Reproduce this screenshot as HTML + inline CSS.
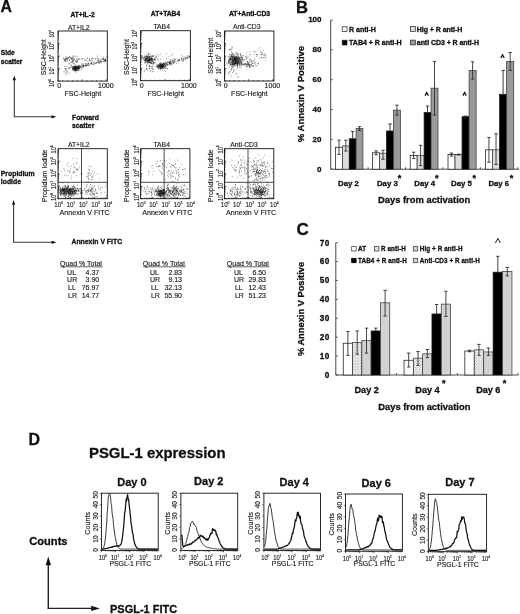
<!DOCTYPE html>
<html><head><meta charset="utf-8"><title>Figure</title>
<style>
html,body{margin:0;padding:0;background:#fff;}
body{width:520px;height:614px;overflow:hidden;font-family:"Liberation Sans",sans-serif;}
svg{display:block;filter:blur(0.42px);}
</style></head><body>
<svg width="520" height="614" viewBox="0 0 520 614" font-family="'Liberation Sans', sans-serif"><text x="0.60" y="12.46" font-size="15.8" font-weight="700" stroke="#111" stroke-width="0.3" fill="#111">A</text>
<text x="82.50" y="16.50" font-size="6.7" font-weight="700" stroke="#111" stroke-width="0.3" text-anchor="middle" fill="#111">AT+IL-2</text>
<text x="78.70" y="29.83" font-size="6.8" stroke="#222" stroke-width="0.15" text-anchor="middle" fill="#222">AT+IL2</text>
<rect x="58.00" y="31.00" width="49.30" height="50.10" fill="none" stroke="#111" stroke-width="0.9"/>
<path d="M58.00 81.10h1.80M58.00 77.33h1.00M58.00 75.12h1.00M58.00 73.56h1.00M58.00 72.35h1.00M58.00 71.35h1.00M58.00 70.52h1.00M58.00 69.79h1.00M58.00 69.15h1.00M58.00 68.57h1.80M58.00 64.80h1.00M58.00 62.60h1.00M58.00 61.03h1.00M58.00 59.82h1.00M58.00 58.83h1.00M58.00 57.99h1.00M58.00 57.26h1.00M58.00 56.62h1.00M58.00 56.05h1.80M58.00 52.28h1.00M58.00 50.07h1.00M58.00 48.51h1.00M58.00 47.30h1.00M58.00 46.30h1.00M58.00 45.47h1.00M58.00 44.74h1.00M58.00 44.10h1.00M58.00 43.52h1.80M58.00 39.75h1.00M58.00 37.55h1.00M58.00 35.98h1.00M58.00 34.77h1.00M58.00 33.78h1.00M58.00 32.94h1.00M58.00 32.21h1.00M58.00 31.57h1.00" fill="none" stroke="#111" stroke-width="0.65"/>
<path d="M58.00 81.10v-1.8M62.81 81.10v-1.0M67.63 81.10v-1.0M72.44 81.10v-1.0M77.26 81.10v-1.0M82.07 81.10v-1.8M86.89 81.10v-1.0M91.70 81.10v-1.0M96.52 81.10v-1.0M101.33 81.10v-1.0M106.14 81.10v-1.8" fill="none" stroke="#111" stroke-width="0.65"/>
<text x="59.20" y="88.31" font-size="7" stroke="#222" stroke-width="0.15" text-anchor="middle" fill="#222">0</text>
<text x="105.80" y="88.31" font-size="7" stroke="#222" stroke-width="0.15" text-anchor="middle" fill="#222">1000</text>
<text x="82.85" y="95.91" font-size="7" stroke="#222" stroke-width="0.15" text-anchor="middle" fill="#222">FSC-Height</text>
<text x="43.60" y="59.73" font-size="6.8" stroke="#222" stroke-width="0.15" text-anchor="middle" transform="rotate(-90 43.60 57.30)" fill="#222">SSC-Height</text>
<g transform="translate(51.70 82.90) rotate(-90) scale(0.76 1)" fill="#222" stroke="#222" stroke-width="0.15"><text x="-4.98" y="2.51" font-size="7.0">10</text><text x="2.80" y="-0.43" font-size="3.92">0</text></g>
<g transform="translate(51.70 70.62) rotate(-90) scale(0.76 1)" fill="#222" stroke="#222" stroke-width="0.15"><text x="-4.98" y="2.51" font-size="7.0">10</text><text x="2.80" y="-0.43" font-size="3.92">1</text></g>
<g transform="translate(51.70 58.35) rotate(-90) scale(0.76 1)" fill="#222" stroke="#222" stroke-width="0.15"><text x="-4.98" y="2.51" font-size="7.0">10</text><text x="2.80" y="-0.43" font-size="3.92">2</text></g>
<g transform="translate(51.70 46.07) rotate(-90) scale(0.76 1)" fill="#222" stroke="#222" stroke-width="0.15"><text x="-4.98" y="2.51" font-size="7.0">10</text><text x="2.80" y="-0.43" font-size="3.92">3</text></g>
<g transform="translate(51.70 33.80) rotate(-90) scale(0.76 1)" fill="#222" stroke="#222" stroke-width="0.15"><text x="-4.98" y="2.51" font-size="7.0">10</text><text x="2.80" y="-0.43" font-size="3.92">4</text></g>
<text x="165.50" y="15.60" font-size="6.7" font-weight="700" stroke="#111" stroke-width="0.3" text-anchor="middle" fill="#111">AT+TAB4</text>
<text x="161.70" y="28.93" font-size="6.8" stroke="#222" stroke-width="0.15" text-anchor="middle" fill="#222">TAB4</text>
<rect x="140.60" y="30.70" width="49.80" height="50.00" fill="none" stroke="#111" stroke-width="0.9"/>
<path d="M140.60 80.70h1.80M140.60 76.94h1.00M140.60 74.74h1.00M140.60 73.17h1.00M140.60 71.96h1.00M140.60 70.97h1.00M140.60 70.14h1.00M140.60 69.41h1.00M140.60 68.77h1.00M140.60 68.20h1.80M140.60 64.44h1.00M140.60 62.24h1.00M140.60 60.67h1.00M140.60 59.46h1.00M140.60 58.47h1.00M140.60 57.64h1.00M140.60 56.91h1.00M140.60 56.27h1.00M140.60 55.70h1.80M140.60 51.94h1.00M140.60 49.74h1.00M140.60 48.17h1.00M140.60 46.96h1.00M140.60 45.97h1.00M140.60 45.14h1.00M140.60 44.41h1.00M140.60 43.77h1.00M140.60 43.20h1.80M140.60 39.44h1.00M140.60 37.24h1.00M140.60 35.67h1.00M140.60 34.46h1.00M140.60 33.47h1.00M140.60 32.64h1.00M140.60 31.91h1.00M140.60 31.27h1.00" fill="none" stroke="#111" stroke-width="0.65"/>
<path d="M140.60 80.70v-1.8M145.46 80.70v-1.0M150.33 80.70v-1.0M155.19 80.70v-1.0M160.05 80.70v-1.0M164.92 80.70v-1.8M169.78 80.70v-1.0M174.64 80.70v-1.0M179.51 80.70v-1.0M184.37 80.70v-1.0M189.23 80.70v-1.8" fill="none" stroke="#111" stroke-width="0.65"/>
<text x="141.80" y="88.31" font-size="7" stroke="#222" stroke-width="0.15" text-anchor="middle" fill="#222">0</text>
<text x="188.90" y="88.31" font-size="7" stroke="#222" stroke-width="0.15" text-anchor="middle" fill="#222">1000</text>
<text x="165.70" y="95.91" font-size="7" stroke="#222" stroke-width="0.15" text-anchor="middle" fill="#222">FSC-Height</text>
<text x="126.20" y="59.43" font-size="6.8" stroke="#222" stroke-width="0.15" text-anchor="middle" transform="rotate(-90 126.20 57.00)" fill="#222">SSC-Height</text>
<g transform="translate(134.30 82.50) rotate(-90) scale(0.76 1)" fill="#222" stroke="#222" stroke-width="0.15"><text x="-4.98" y="2.51" font-size="7.0">10</text><text x="2.80" y="-0.43" font-size="3.92">0</text></g>
<g transform="translate(134.30 70.25) rotate(-90) scale(0.76 1)" fill="#222" stroke="#222" stroke-width="0.15"><text x="-4.98" y="2.51" font-size="7.0">10</text><text x="2.80" y="-0.43" font-size="3.92">1</text></g>
<g transform="translate(134.30 58.00) rotate(-90) scale(0.76 1)" fill="#222" stroke="#222" stroke-width="0.15"><text x="-4.98" y="2.51" font-size="7.0">10</text><text x="2.80" y="-0.43" font-size="3.92">2</text></g>
<g transform="translate(134.30 45.75) rotate(-90) scale(0.76 1)" fill="#222" stroke="#222" stroke-width="0.15"><text x="-4.98" y="2.51" font-size="7.0">10</text><text x="2.80" y="-0.43" font-size="3.92">3</text></g>
<g transform="translate(134.30 33.50) rotate(-90) scale(0.76 1)" fill="#222" stroke="#222" stroke-width="0.15"><text x="-4.98" y="2.51" font-size="7.0">10</text><text x="2.80" y="-0.43" font-size="3.92">4</text></g>
<text x="249.50" y="15.60" font-size="6.7" font-weight="700" stroke="#111" stroke-width="0.3" text-anchor="middle" fill="#111">AT+Anti-CD3</text>
<text x="246.70" y="28.93" font-size="6.8" stroke="#222" stroke-width="0.15" text-anchor="middle" fill="#222">Anti-CD3</text>
<rect x="224.50" y="31.00" width="49.40" height="50.00" fill="none" stroke="#111" stroke-width="0.9"/>
<path d="M224.50 81.00h1.80M224.50 77.24h1.00M224.50 75.04h1.00M224.50 73.47h1.00M224.50 72.26h1.00M224.50 71.27h1.00M224.50 70.44h1.00M224.50 69.71h1.00M224.50 69.07h1.00M224.50 68.50h1.80M224.50 64.74h1.00M224.50 62.54h1.00M224.50 60.97h1.00M224.50 59.76h1.00M224.50 58.77h1.00M224.50 57.94h1.00M224.50 57.21h1.00M224.50 56.57h1.00M224.50 56.00h1.80M224.50 52.24h1.00M224.50 50.04h1.00M224.50 48.47h1.00M224.50 47.26h1.00M224.50 46.27h1.00M224.50 45.44h1.00M224.50 44.71h1.00M224.50 44.07h1.00M224.50 43.50h1.80M224.50 39.74h1.00M224.50 37.54h1.00M224.50 35.97h1.00M224.50 34.76h1.00M224.50 33.77h1.00M224.50 32.94h1.00M224.50 32.21h1.00M224.50 31.57h1.00" fill="none" stroke="#111" stroke-width="0.65"/>
<path d="M224.50 81.00v-1.8M229.32 81.00v-1.0M234.15 81.00v-1.0M238.97 81.00v-1.0M243.80 81.00v-1.0M248.62 81.00v-1.8M253.45 81.00v-1.0M258.27 81.00v-1.0M263.09 81.00v-1.0M267.92 81.00v-1.0M272.74 81.00v-1.8" fill="none" stroke="#111" stroke-width="0.65"/>
<text x="225.70" y="88.31" font-size="7" stroke="#222" stroke-width="0.15" text-anchor="middle" fill="#222">0</text>
<text x="272.40" y="88.31" font-size="7" stroke="#222" stroke-width="0.15" text-anchor="middle" fill="#222">1000</text>
<text x="249.40" y="95.91" font-size="7" stroke="#222" stroke-width="0.15" text-anchor="middle" fill="#222">FSC-Height</text>
<text x="210.10" y="58.23" font-size="6.8" stroke="#222" stroke-width="0.15" text-anchor="middle" transform="rotate(-90 210.10 55.80)" fill="#222">SSC-Height</text>
<g transform="translate(218.20 82.80) rotate(-90) scale(0.76 1)" fill="#222" stroke="#222" stroke-width="0.15"><text x="-4.98" y="2.51" font-size="7.0">10</text><text x="2.80" y="-0.43" font-size="3.92">0</text></g>
<g transform="translate(218.20 70.55) rotate(-90) scale(0.76 1)" fill="#222" stroke="#222" stroke-width="0.15"><text x="-4.98" y="2.51" font-size="7.0">10</text><text x="2.80" y="-0.43" font-size="3.92">1</text></g>
<g transform="translate(218.20 58.30) rotate(-90) scale(0.76 1)" fill="#222" stroke="#222" stroke-width="0.15"><text x="-4.98" y="2.51" font-size="7.0">10</text><text x="2.80" y="-0.43" font-size="3.92">2</text></g>
<g transform="translate(218.20 46.05) rotate(-90) scale(0.76 1)" fill="#222" stroke="#222" stroke-width="0.15"><text x="-4.98" y="2.51" font-size="7.0">10</text><text x="2.80" y="-0.43" font-size="3.92">3</text></g>
<g transform="translate(218.20 33.80) rotate(-90) scale(0.76 1)" fill="#222" stroke="#222" stroke-width="0.15"><text x="-4.98" y="2.51" font-size="7.0">10</text><text x="2.80" y="-0.43" font-size="3.92">4</text></g>
<path d="M75.4 60.9h0.65M65.4 59.9h0.65M77.2 61.1h0.65M64.2 59.5h0.65M65.3 58.5h0.65M67.3 60.2h0.65M88.8 60.7h0.65M78.6 59.3h0.65M104.9 60.7h0.65M74.0 60.1h0.65M67.1 59.0h0.65M86.7 61.3h0.65M89.3 58.4h0.65M65.0 61.3h0.65M70.6 58.6h0.65M86.9 58.4h0.65M81.0 59.1h0.65M92.0 61.1h0.65M72.1 55.9h0.65M93.4 58.5h0.65M73.9 59.1h0.65M94.7 59.0h0.65M68.4 57.6h0.65M95.0 59.1h0.65M86.3 60.1h0.65M91.8 58.5h0.65M87.3 58.3h0.65M98.5 58.3h0.65M103.4 57.1h0.65M65.0 58.3h0.65M89.6 61.3h0.65M73.8 58.6h0.65M90.6 60.5h0.65M69.0 60.0h0.65M64.9 59.7h0.65M78.3 59.2h0.65M100.0 59.9h0.65M85.3 60.1h0.65M100.5 59.8h0.65M73.5 56.6h0.65M76.9 61.9h0.65M68.4 57.8h0.65M71.6 58.2h0.65M72.9 61.3h0.65M79.5 58.8h0.65M103.8 59.7h0.65M91.6 57.7h0.65M91.0 59.1h0.65M64.7 59.0h0.65M96.5 57.9h0.65M78.4 59.4h0.65M89.1 59.6h0.65M65.0 60.6h0.65M76.1 60.2h0.65M64.7 60.8h0.65M77.1 59.9h0.65M63.8 61.1h0.65M72.5 57.8h0.65M77.2 61.4h0.65M105.7 60.1h0.65M81.6 59.2h0.65M66.5 59.2h0.65M73.0 60.3h0.65M103.7 58.1h0.65M84.3 60.4h0.65M63.8 59.8h0.65M105.0 59.8h0.65M72.8 57.5h0.65M69.0 57.7h0.65M75.7 58.6h0.65M71.3 58.4h0.65M96.9 56.0h0.65M97.5 58.9h0.65M83.8 58.8h0.65M76.8 60.1h0.65M73.6 59.2h0.65M91.7 60.4h0.65M103.0 58.4h0.65M105.4 59.6h0.65M71.1 59.1h0.65M70.2 57.5h0.65M98.5 60.4h0.65M82.2 58.5h0.65M65.8 56.5h0.65M101.8 59.1h0.65M72.2 67.4h0.65M75.7 68.6h0.65M73.8 69.5h0.65M70.4 67.2h0.65M76.7 70.4h0.65M74.4 68.7h0.65M76.4 70.1h0.65M79.0 68.6h0.65M74.4 70.1h0.65M70.5 67.6h0.65M73.9 67.6h0.65M75.2 72.0h0.65M76.0 67.3h0.65M73.5 69.7h0.65M74.6 70.1h0.65M72.8 68.6h0.65M77.0 68.0h0.65M76.9 67.4h0.65M74.7 67.7h0.65M76.0 69.4h0.65M74.5 66.5h0.65M76.2 69.5h0.65M74.3 69.7h0.65M74.3 66.6h0.65M75.0 69.8h0.65M75.8 68.4h0.65M75.7 68.6h0.65M74.3 66.1h0.65M76.0 67.1h0.65M74.9 66.5h0.65M75.2 68.4h0.65M74.6 67.3h0.65M74.9 67.9h0.65M78.9 66.5h0.65M75.4 68.5h0.65M71.1 66.5h0.65M76.5 66.6h0.65M75.4 67.8h0.65M73.4 66.7h0.65M75.0 70.3h0.65M74.4 70.7h0.65M72.2 68.2h0.65M78.1 70.8h0.65M74.2 68.8h0.65M76.3 67.8h0.65M75.8 68.3h0.65M76.3 67.1h0.65M72.4 68.9h0.65M74.8 67.9h0.65M72.6 70.1h0.65M78.7 69.3h0.65M75.2 69.6h0.65M74.9 64.1h0.65M76.0 68.7h0.65M74.5 66.8h0.65M76.5 67.8h0.65M76.6 67.4h0.65M78.4 70.1h0.65M75.8 68.1h0.65M75.6 67.3h0.65M77.9 67.8h0.65M75.4 70.8h0.65M75.2 68.9h0.65M75.3 68.3h0.65M76.1 68.5h0.65M73.9 69.3h0.65M77.0 70.5h0.65M73.5 68.3h0.65M76.6 69.9h0.65M74.2 68.1h0.65M74.7 70.3h0.65M76.6 67.8h0.65M75.9 70.1h0.65M74.4 68.5h0.65M74.7 68.6h0.65M74.9 69.3h0.65M73.8 67.4h0.65M77.7 69.3h0.65M74.8 69.5h0.65M77.3 68.3h0.65M76.5 68.5h0.65M76.0 68.7h0.65M77.2 67.5h0.65M78.7 67.9h0.65M77.8 68.9h0.65M77.2 69.4h0.65M75.7 70.6h0.65M75.8 67.4h0.65M75.1 65.1h0.65M76.2 70.3h0.65M77.8 66.8h0.65M76.5 69.0h0.65M73.8 66.2h0.65M75.4 69.6h0.65M75.3 69.4h0.65M72.8 67.4h0.65M74.0 68.0h0.65M76.0 68.7h0.65M76.1 68.2h0.65M74.0 68.6h0.65M76.2 69.8h0.65M72.1 67.8h0.65M74.1 68.4h0.65M77.2 67.5h0.65M75.8 67.3h0.65M76.0 71.9h0.65M74.2 67.3h0.65M75.1 69.5h0.65M75.1 68.3h0.65M75.6 67.1h0.65M77.0 67.4h0.65M75.5 68.2h0.65M75.5 68.2h0.65M76.4 68.0h0.65M75.8 69.5h0.65M75.7 68.5h0.65M78.1 66.0h0.65M74.9 67.1h0.65M72.8 69.3h0.65M74.1 66.4h0.65M80.6 69.6h0.65M78.1 68.0h0.65M75.0 69.8h0.65M71.9 66.7h0.65M73.2 68.6h0.65M74.5 66.7h0.65M75.1 69.6h0.65M72.4 69.2h0.65M73.2 70.0h0.65M73.6 67.9h0.65M74.1 69.0h0.65M75.7 67.9h0.65M76.2 69.2h0.65M73.3 66.9h0.65M73.5 67.6h0.65M73.4 70.8h0.65M75.6 68.3h0.65M73.1 66.3h0.65M74.9 70.4h0.65M76.8 68.3h0.65M76.3 68.1h0.65M78.7 68.9h0.65M78.7 69.9h0.65M75.1 67.1h0.65M77.0 67.3h0.65M72.4 66.8h0.65M73.6 69.0h0.65M76.0 68.2h0.65M78.8 67.7h0.65M77.9 68.8h0.65M79.3 66.1h0.65M90.9 63.0h0.65M86.0 64.8h0.65M101.3 61.7h0.65M105.7 61.4h0.65M98.1 62.8h0.65M79.1 67.4h0.65M80.3 66.7h0.65M86.5 65.3h0.65M97.9 59.6h0.65M93.2 63.2h0.65M87.6 65.2h0.65M85.7 64.3h0.65M76.9 67.1h0.65M99.6 63.1h0.65M98.8 63.1h0.65M95.2 63.6h0.65M81.6 63.2h0.65M91.3 63.5h0.65M80.3 67.2h0.65M98.8 61.0h0.65M81.1 66.8h0.65M78.8 65.5h0.65M102.6 61.5h0.65M100.8 61.8h0.65M93.5 64.4h0.65M84.9 65.5h0.65M78.3 68.9h0.65M77.1 66.7h0.65M80.2 66.4h0.65M76.4 66.4h0.65M87.2 64.0h0.65M77.4 68.0h0.65M88.0 65.4h0.65M77.8 68.1h0.65M76.3 67.8h0.65M89.1 65.6h0.65M82.1 64.7h0.65M82.8 65.8h0.65M79.8 67.3h0.65M86.0 63.6h0.65M76.7 67.0h0.65M83.6 63.5h0.65M100.1 61.5h0.65M75.0 67.4h0.65M83.0 65.2h0.65M82.6 67.6h0.65M98.7 62.0h0.65M76.0 68.4h0.65M93.5 64.7h0.65M90.6 63.7h0.65M86.6 66.2h0.65M78.9 68.3h0.65M79.5 67.1h0.65M91.3 63.5h0.65M75.1 66.5h0.65M82.3 66.2h0.65M76.4 67.6h0.65M105.2 58.7h0.65M83.5 65.3h0.65M104.9 59.8h0.65M74.3 66.5h0.65M83.5 65.6h0.65M104.1 60.5h0.65M81.4 65.0h0.65M78.5 67.7h0.65M84.6 65.7h0.65M82.9 66.8h0.65M77.6 67.2h0.65M103.0 59.5h0.65M78.3 65.8h0.65M104.4 60.8h0.65M78.8 67.7h0.65M75.3 68.8h0.65M101.8 62.0h0.65M104.8 60.3h0.65M77.1 68.8h0.65M74.5 67.5h0.65M81.2 65.8h0.65M75.5 67.8h0.65M104.9 61.9h0.65M79.7 66.0h0.65M99.6 61.4h0.65M85.2 63.7h0.65M79.2 65.9h0.65M76.8 66.4h0.65M96.8 62.6h0.65M75.6 68.5h0.65M94.7 63.2h0.65M78.9 68.1h0.65M78.8 66.7h0.65M78.6 68.4h0.65M102.2 58.9h0.65M73.3 68.1h0.65M105.1 61.0h0.65M78.6 65.9h0.65M103.2 61.1h0.65M96.3 63.4h0.65M88.1 63.6h0.65M82.5 66.2h0.65M77.3 67.3h0.65M74.8 69.1h0.65M81.0 68.5h0.65M105.2 59.6h0.65M76.3 66.2h0.65M84.3 65.6h0.65M91.2 63.1h0.65M97.7 61.1h0.65M98.5 61.1h0.65M83.3 66.0h0.65M78.2 67.0h0.65M101.3 60.1h0.65M82.3 67.1h0.65M78.4 67.6h0.65M104.2 60.5h0.65M98.7 62.9h0.65M73.4 67.8h0.65M78.0 68.6h0.65M102.6 59.0h0.65M85.8 65.3h0.65M105.2 61.2h0.65M91.0 64.0h0.65M77.6 67.8h0.65M90.1 63.7h0.65M74.5 67.3h0.65M78.8 67.1h0.65M97.6 61.6h0.65M75.9 66.7h0.65M91.6 64.2h0.65M93.3 62.4h0.65M80.7 67.4h0.65M88.0 63.7h0.65M100.7 62.1h0.65M77.7 67.2h0.65M74.3 68.9h0.65M97.4 60.0h0.65M85.9 65.4h0.65M87.8 63.1h0.65M74.1 67.1h0.65M85.4 65.5h0.65M87.3 65.2h0.65M85.4 66.0h0.65M75.3 68.9h0.65M102.7 58.8h0.65M91.5 64.1h0.65M96.1 62.3h0.65M100.1 61.7h0.65M77.6 66.2h0.65M83.1 66.5h0.65M94.7 63.0h0.65M87.9 64.4h0.65M98.5 62.5h0.65M88.6 63.9h0.65M82.8 64.8h0.65M91.1 62.4h0.65M75.5 67.1h0.65M77.7 67.2h0.65M82.9 65.8h0.65M77.1 68.4h0.65M76.6 66.6h0.65M75.7 67.7h0.65M94.2 62.9h0.65M74.2 66.9h0.65M103.7 61.4h0.65M75.8 68.4h0.65M103.9 60.6h0.65M96.4 62.4h0.65M66.5 70.9h0.65M64.6 73.2h0.65M65.7 71.9h0.65M64.4 66.5h0.65M72.2 61.5h0.65M65.6 66.6h0.65M66.2 58.6h0.65M64.8 60.7h0.65M72.4 69.6h0.65M72.0 60.9h0.65M70.8 60.0h0.65M68.3 68.8h0.65M66.6 72.8h0.65M68.6 67.9h0.65M71.8 59.8h0.65M72.9 68.7h0.65M66.9 71.6h0.65M65.6 74.8h0.65M68.8 64.1h0.65M70.6 65.5h0.65M64.8 70.6h0.65M63.5 71.9h0.65M65.5 68.9h0.65M72.8 68.0h0.65M69.6 63.3h0.65M63.0 58.6h0.65M64.5 68.5h0.65M67.3 66.7h0.65M72.0 60.2h0.65M65.3 69.1h0.65M63.2 58.0h0.65M66.5 59.8h0.65M66.6 61.8h0.65M68.8 68.0h0.65M65.0 68.6h0.65M67.7 60.3h0.65M72.4 62.1h0.65M64.5 59.6h0.65M69.4 72.8h0.65M70.8 64.8h0.65M65.6 58.2h0.65M69.4 67.6h0.65M66.5 69.0h0.65M67.4 73.9h0.65M70.3 62.2h0.65M76.8 56.4h0.65M72.4 59.2h0.65M68.9 56.5h0.65M75.3 56.1h0.65M72.6 63.5h0.65M67.7 57.6h0.65M73.3 60.1h0.65M73.7 62.5h0.65M68.1 58.5h0.65M69.6 56.4h0.65M76.7 62.3h0.65M74.6 56.1h0.65M76.1 62.0h0.65M71.6 61.9h0.65M71.4 57.8h0.65M67.3 57.9h0.65M66.5 58.7h0.65M75.0 61.6h0.65M76.1 61.7h0.65M69.2 60.4h0.65M71.2 62.3h0.65M72.3 58.1h0.65M73.7 63.7h0.65M68.6 63.0h0.65M66.2 58.1h0.65M106.7 56.5h0.65M106.7 57.2h0.65" stroke="#1a1a1a" stroke-width="0.65" fill="none" opacity="1"/>
<path d="M148.6 59.6h0.65M154.4 62.9h0.65M147.3 57.1h0.65M154.9 58.5h0.65M151.2 62.0h0.65M146.6 58.1h0.65M144.7 61.9h0.65M148.6 61.2h0.65M144.9 60.8h0.65M146.4 58.8h0.65M145.0 58.7h0.65M151.2 58.6h0.65M148.2 60.4h0.65M148.1 60.4h0.65M149.4 61.2h0.65M147.8 59.6h0.65M149.7 62.7h0.65M150.4 56.9h0.65M145.4 59.2h0.65M147.9 57.5h0.65M147.5 61.1h0.65M143.7 60.0h0.65M148.4 62.7h0.65M143.9 60.3h0.65M148.6 59.6h0.65M150.6 63.7h0.65M150.4 60.5h0.65M144.9 60.8h0.65M145.1 59.1h0.65M150.5 62.5h0.65M152.2 59.9h0.65M151.8 58.9h0.65M149.4 59.2h0.65M151.7 58.8h0.65M146.1 56.7h0.65M156.5 54.8h0.65M149.0 58.9h0.65M148.6 57.2h0.65M150.9 59.6h0.65M146.2 58.5h0.65M145.3 60.3h0.65M155.3 62.9h0.65M152.3 59.4h0.65M149.2 60.5h0.65M154.3 59.5h0.65M149.1 56.6h0.65M149.3 59.7h0.65M147.1 57.2h0.65M149.2 60.2h0.65M146.9 61.1h0.65M148.2 60.1h0.65M153.9 58.2h0.65M149.1 58.7h0.65M148.1 60.1h0.65M144.3 60.0h0.65M144.7 57.9h0.65M151.7 55.5h0.65M153.2 63.4h0.65M152.6 60.8h0.65M149.4 58.9h0.65M156.0 57.1h0.65M149.1 60.6h0.65M147.5 56.6h0.65M150.1 59.4h0.65M143.8 58.0h0.65M146.7 58.7h0.65M150.7 61.2h0.65M145.2 59.2h0.65M147.2 55.6h0.65M151.2 58.3h0.65M148.3 54.7h0.65M150.7 59.4h0.65M151.2 58.2h0.65M153.8 60.0h0.65M147.6 60.3h0.65M151.1 58.0h0.65M152.5 60.4h0.65M151.5 61.6h0.65M157.2 59.2h0.65M147.6 60.3h0.65M148.8 54.4h0.65M155.2 60.3h0.65M144.1 57.9h0.65M149.9 58.6h0.65M147.9 59.9h0.65M152.2 61.6h0.65M149.8 60.2h0.65M144.3 56.0h0.65M149.1 58.1h0.65M149.5 57.4h0.65M147.1 59.0h0.65M142.1 56.6h0.65M150.9 59.3h0.65M145.8 59.8h0.65M154.2 62.2h0.65M145.3 57.9h0.65M143.1 57.9h0.65M145.0 57.4h0.65M149.9 58.6h0.65M148.1 55.8h0.65M151.8 58.6h0.65M144.7 59.3h0.65M152.5 56.2h0.65M150.3 56.4h0.65M151.7 60.6h0.65M148.2 57.0h0.65M144.5 57.3h0.65M151.5 59.9h0.65M149.0 58.0h0.65M148.6 60.4h0.65M141.6 58.2h0.65M148.9 56.7h0.65M147.3 58.7h0.65M145.3 56.5h0.65M144.5 57.0h0.65M148.7 60.8h0.65M148.4 58.4h0.65M146.2 59.4h0.65M147.5 61.4h0.65M148.8 61.0h0.65M150.0 59.0h0.65M149.4 57.2h0.65M150.7 58.6h0.65M146.3 59.1h0.65M151.4 59.0h0.65M141.5 57.7h0.65M148.7 60.0h0.65M146.1 59.6h0.65M150.7 60.0h0.65M143.4 57.6h0.65M146.4 57.8h0.65M148.2 61.4h0.65M148.4 56.6h0.65M144.6 60.3h0.65M145.8 58.5h0.65M153.0 62.4h0.65M153.4 56.6h0.65M154.0 59.1h0.65M152.2 59.2h0.65M152.5 59.4h0.65M149.3 59.0h0.65M146.5 59.4h0.65M151.8 56.9h0.65M149.5 57.1h0.65M145.5 55.9h0.65M154.7 59.8h0.65M148.2 61.7h0.65M143.0 59.6h0.65M147.4 60.9h0.65M145.1 59.6h0.65M149.1 62.5h0.65M147.7 59.3h0.65M150.6 60.3h0.65M150.9 59.6h0.65M146.2 62.2h0.65M154.8 59.7h0.65M147.2 61.7h0.65M146.3 60.0h0.65M144.4 62.5h0.65M145.6 60.1h0.65M147.3 58.3h0.65M145.4 59.2h0.65M145.7 61.5h0.65M146.4 59.1h0.65M151.4 61.0h0.65M152.0 61.7h0.65M150.4 60.9h0.65M152.0 56.4h0.65M149.1 59.5h0.65M148.8 60.7h0.65M146.1 56.2h0.65M147.3 60.5h0.65M146.5 54.2h0.65M153.1 62.2h0.65M151.2 58.9h0.65M148.5 56.6h0.65M146.0 61.2h0.65M147.9 62.0h0.65M148.7 54.4h0.65M149.8 62.9h0.65M150.2 57.8h0.65M147.0 60.7h0.65M146.8 56.5h0.65M149.7 59.5h0.65M146.9 57.1h0.65M150.4 55.2h0.65M147.1 58.2h0.65M154.9 57.1h0.65M151.3 58.9h0.65M152.9 62.6h0.65M148.4 59.8h0.65M146.3 58.5h0.65M151.6 56.5h0.65M146.8 59.4h0.65M148.2 58.5h0.65M142.5 58.6h0.65M148.8 59.2h0.65M149.4 61.2h0.65M155.8 56.7h0.65M146.1 60.5h0.65M142.3 56.9h0.65M146.2 56.8h0.65M145.6 56.4h0.65M146.3 60.1h0.65M153.7 55.5h0.65M150.5 60.5h0.65M150.3 63.2h0.65M150.4 62.2h0.65M146.7 56.4h0.65M153.5 60.0h0.65M147.7 65.0h0.65M149.0 65.2h0.65M149.0 68.4h0.65M153.1 62.5h0.65M150.1 62.4h0.65M146.6 70.1h0.65M150.2 71.2h0.65M149.2 62.1h0.65M148.7 67.9h0.65M153.1 71.8h0.65M149.4 66.1h0.65M146.4 68.4h0.65M147.3 63.5h0.65M145.7 62.0h0.65M151.1 63.2h0.65M153.3 62.9h0.65M152.6 63.3h0.65M145.7 69.2h0.65M147.5 69.3h0.65M147.1 62.5h0.65M151.8 69.1h0.65M152.4 69.3h0.65M146.3 68.3h0.65M151.3 66.6h0.65M153.1 64.5h0.65M153.3 69.2h0.65M145.7 62.1h0.65M150.8 70.2h0.65M146.2 65.1h0.65M151.4 63.7h0.65M152.5 66.9h0.65M146.1 65.7h0.65M150.2 66.4h0.65M151.0 63.4h0.65M152.0 65.6h0.65M150.8 68.3h0.65M148.9 65.9h0.65M151.9 71.4h0.65M151.9 67.7h0.65M147.9 62.6h0.65M157.8 68.0h0.65M160.0 66.5h0.65M158.9 63.2h0.65M156.9 66.9h0.65M158.0 65.5h0.65M162.8 67.0h0.65M159.2 65.3h0.65M157.9 67.9h0.65M158.2 66.0h0.65M160.7 65.9h0.65M162.9 64.0h0.65M158.5 66.3h0.65M160.2 67.2h0.65M157.1 67.1h0.65M158.5 65.6h0.65M164.8 66.7h0.65M157.5 67.0h0.65M159.6 67.4h0.65M162.0 66.3h0.65M159.2 66.0h0.65M155.5 66.2h0.65M163.6 65.4h0.65M158.4 66.3h0.65M162.2 66.0h0.65M156.7 65.5h0.65M160.8 66.8h0.65M157.1 66.2h0.65M163.5 68.2h0.65M157.8 64.5h0.65M160.3 65.3h0.65M159.8 66.3h0.65M161.9 65.6h0.65M158.6 64.8h0.65M159.7 65.3h0.65M160.5 70.3h0.65M162.7 65.6h0.65M161.3 64.5h0.65M157.7 67.0h0.65M163.1 65.1h0.65M162.8 66.3h0.65M160.7 68.6h0.65M160.3 64.3h0.65M160.8 65.8h0.65M164.4 63.2h0.65M163.0 66.3h0.65M156.6 67.0h0.65M160.2 66.8h0.65M160.9 66.2h0.65M161.4 67.6h0.65M161.5 67.0h0.65M158.8 68.7h0.65M159.0 67.6h0.65M161.8 65.5h0.65M161.3 67.0h0.65M160.2 64.3h0.65M159.4 67.9h0.65M159.7 64.9h0.65M162.1 67.8h0.65M165.4 66.9h0.65M160.5 67.0h0.65M161.0 64.3h0.65M164.4 68.0h0.65M158.2 68.2h0.65M161.7 65.5h0.65M157.5 66.4h0.65M160.5 67.3h0.65M163.5 67.8h0.65M159.4 65.5h0.65M163.4 66.0h0.65M159.6 65.6h0.65M162.1 67.1h0.65M162.4 66.5h0.65M162.0 67.2h0.65M163.2 68.1h0.65M160.9 66.1h0.65M161.2 66.8h0.65M159.9 68.4h0.65M158.8 66.5h0.65M159.8 65.4h0.65M160.9 68.3h0.65M158.8 65.0h0.65M158.9 64.7h0.65M164.1 64.2h0.65M161.0 66.6h0.65M161.8 67.9h0.65M161.8 65.3h0.65M160.2 66.7h0.65M159.3 65.4h0.65M161.3 65.7h0.65M164.8 65.6h0.65M161.7 64.9h0.65M160.7 66.5h0.65M160.0 66.4h0.65M160.5 67.5h0.65M158.6 66.4h0.65M163.0 65.8h0.65M162.3 66.4h0.65M162.6 70.6h0.65M160.2 66.5h0.65M160.1 65.3h0.65M165.1 68.0h0.65M161.9 65.0h0.65M166.5 68.3h0.65M161.0 65.6h0.65M161.6 68.5h0.65M160.7 65.2h0.65M160.4 63.4h0.65M162.5 66.3h0.65M163.4 66.5h0.65M161.7 66.3h0.65M157.2 66.2h0.65M161.4 67.5h0.65M162.2 65.0h0.65M160.6 66.5h0.65M163.5 65.4h0.65M156.7 65.2h0.65M159.9 67.9h0.65M162.0 64.3h0.65M162.5 68.2h0.65M162.0 64.7h0.65M164.2 67.0h0.65M158.7 68.8h0.65M161.1 63.4h0.65M161.3 65.9h0.65M162.0 66.6h0.65M158.8 66.6h0.65M162.4 65.9h0.65M160.5 64.6h0.65M160.3 65.3h0.65M160.5 65.5h0.65M156.6 66.8h0.65M159.2 65.7h0.65M158.5 66.0h0.65M159.8 68.2h0.65M156.7 64.4h0.65M160.7 64.4h0.65M160.1 69.4h0.65M161.3 66.1h0.65M162.0 66.8h0.65M161.6 66.1h0.65M160.1 67.7h0.65M162.5 66.1h0.65M161.0 64.6h0.65M158.9 64.0h0.65M160.1 68.1h0.65M163.3 65.9h0.65M159.9 67.1h0.65M162.4 64.9h0.65M160.6 67.0h0.65M162.2 67.1h0.65M162.8 66.5h0.65M159.6 64.1h0.65M159.0 67.2h0.65M164.1 67.2h0.65M159.8 63.8h0.65M162.6 64.7h0.65M160.2 68.1h0.65M159.2 65.5h0.65M162.0 65.3h0.65M162.6 68.3h0.65M160.1 68.0h0.65M158.5 66.2h0.65M160.0 62.7h0.65M160.0 66.9h0.65M159.9 64.4h0.65M162.1 64.9h0.65M162.6 67.3h0.65M161.6 65.7h0.65M160.6 68.2h0.65M165.1 66.5h0.65M174.3 61.7h0.65M183.4 59.9h0.65M166.1 63.6h0.65M173.0 63.2h0.65M164.8 62.8h0.65M187.6 57.3h0.65M177.9 61.8h0.65M188.9 56.5h0.65M171.3 61.7h0.65M162.4 65.6h0.65M170.2 62.6h0.65M162.6 62.9h0.65M175.3 59.5h0.65M163.6 64.1h0.65M172.8 60.6h0.65M166.2 63.7h0.65M173.5 60.8h0.65M161.6 64.0h0.65M166.7 62.9h0.65M165.9 64.8h0.65M181.3 59.7h0.65M185.2 58.0h0.65M169.2 61.2h0.65M162.8 65.5h0.65M182.7 60.4h0.65M168.8 62.6h0.65M182.8 59.2h0.65M179.1 59.7h0.65M169.9 62.7h0.65M184.9 59.6h0.65M162.1 65.6h0.65M171.0 63.6h0.65M169.6 63.3h0.65M173.8 60.1h0.65M171.9 62.3h0.65M168.3 61.9h0.65M166.9 64.1h0.65M170.5 61.3h0.65M167.0 64.7h0.65M176.0 63.6h0.65M168.5 64.8h0.65M186.5 57.8h0.65M187.3 58.3h0.65M174.4 58.8h0.65M181.4 55.2h0.65M172.1 60.1h0.65M168.9 62.0h0.65M169.1 65.0h0.65M172.7 62.8h0.65M170.0 61.5h0.65M184.7 59.7h0.65M170.3 59.7h0.65M165.5 61.2h0.65M163.2 63.3h0.65M185.7 58.3h0.65M185.6 57.3h0.65M187.5 58.1h0.65M162.5 64.4h0.65M173.7 62.3h0.65M177.1 59.9h0.65M188.8 56.8h0.65M169.5 63.1h0.65M177.7 61.3h0.65M183.8 57.2h0.65M163.3 63.0h0.65M165.8 63.1h0.65M188.5 55.9h0.65M162.0 66.1h0.65M163.6 65.6h0.65M173.4 62.6h0.65M181.3 59.2h0.65M181.3 58.6h0.65M169.5 63.8h0.65M162.7 66.4h0.65M167.2 62.2h0.65M161.6 66.5h0.65M187.2 55.9h0.65M165.9 66.8h0.65M184.9 57.6h0.65M184.8 58.4h0.65M165.3 62.7h0.65M165.7 63.4h0.65M173.8 62.4h0.65M162.9 64.1h0.65M189.0 56.9h0.65M163.6 63.8h0.65M169.3 63.5h0.65M183.4 58.3h0.65M164.6 64.3h0.65M161.7 64.8h0.65M162.4 64.6h0.65M165.5 64.3h0.65M170.2 63.7h0.65M161.7 63.6h0.65M170.0 63.9h0.65M187.6 56.7h0.65M170.9 63.7h0.65M166.8 65.3h0.65M167.7 63.2h0.65M165.8 64.8h0.65M172.4 61.0h0.65M181.1 58.1h0.65M175.5 61.0h0.65M162.7 66.2h0.65M169.0 63.3h0.65M173.9 60.6h0.65M167.5 64.7h0.65M165.2 65.6h0.65M167.3 61.7h0.65M182.7 61.2h0.65M161.4 64.8h0.65M178.4 59.8h0.65M169.0 61.8h0.65M164.0 64.7h0.65M175.7 61.1h0.65M186.8 57.8h0.65M159.5 66.1h0.65M164.3 64.1h0.65M162.0 64.7h0.65M165.0 65.4h0.65M178.3 60.0h0.65M179.4 60.3h0.65M183.5 58.9h0.65M160.3 66.4h0.65M160.1 65.4h0.65M182.5 59.9h0.65M182.7 61.2h0.65M170.0 62.9h0.65M164.3 66.3h0.65M171.4 64.4h0.65M179.5 60.6h0.65M169.7 64.2h0.65M170.8 59.9h0.65M162.4 64.9h0.65M178.6 60.4h0.65M173.1 63.3h0.65M173.5 61.6h0.65M168.6 62.6h0.65M167.3 64.9h0.65M179.0 60.5h0.65M173.6 59.3h0.65M168.8 62.6h0.65M164.9 63.8h0.65M182.5 57.0h0.65M163.0 63.8h0.65M170.0 62.6h0.65M160.5 64.7h0.65M165.2 65.3h0.65M164.4 64.1h0.65M147.0 58.5h0.65M157.7 59.3h0.65M148.6 53.4h0.65M143.9 71.8h0.65M166.1 53.7h0.65M165.1 71.6h0.65M160.5 54.2h0.65M158.3 60.7h0.65M149.3 62.9h0.65M143.8 70.4h0.65M162.9 64.6h0.65M171.7 65.1h0.65M151.1 56.9h0.65M147.8 52.6h0.65M166.8 68.8h0.65M152.5 55.7h0.65M162.7 68.9h0.65M171.4 55.4h0.65M167.1 68.6h0.65M165.9 58.5h0.65M149.1 68.5h0.65M153.2 59.4h0.65M160.1 59.4h0.65M168.5 56.8h0.65M144.8 63.3h0.65M162.4 68.4h0.65M164.8 70.1h0.65M171.9 61.9h0.65M158.6 55.1h0.65M152.6 63.6h0.65M146.0 65.8h0.65M148.5 60.9h0.65M172.7 53.8h0.65M144.8 60.8h0.65M149.3 66.5h0.65M189.2 56.0h0.65M189.2 57.0h0.65M189.2 58.0h0.65" stroke="#1a1a1a" stroke-width="0.65" fill="none" opacity="1"/>
<path d="M231.2 66.4h0.65M235.0 63.8h0.65M229.9 58.4h0.65M236.2 58.7h0.65M231.2 58.2h0.65M236.5 56.5h0.65M236.9 63.6h0.65M228.0 61.9h0.65M237.5 57.0h0.65M236.5 59.5h0.65M236.8 62.9h0.65M236.5 52.9h0.65M237.3 65.6h0.65M231.0 68.2h0.65M233.4 56.6h0.65M230.4 64.8h0.65M236.9 58.7h0.65M233.0 53.9h0.65M231.1 56.3h0.65M235.5 59.8h0.65M238.0 61.1h0.65M234.3 62.3h0.65M239.9 59.4h0.65M235.4 59.1h0.65M232.0 57.9h0.65M233.1 56.8h0.65M234.0 59.4h0.65M236.0 63.3h0.65M241.8 59.2h0.65M234.4 62.1h0.65M232.8 63.7h0.65M237.4 60.6h0.65M239.1 58.6h0.65M234.0 59.3h0.65M234.1 56.6h0.65M234.5 63.3h0.65M236.7 63.5h0.65M236.6 63.1h0.65M231.5 59.5h0.65M229.0 67.5h0.65M242.2 60.4h0.65M233.3 62.0h0.65M231.8 64.2h0.65M242.9 55.8h0.65M232.5 64.0h0.65M239.6 62.7h0.65M235.8 60.2h0.65M235.4 58.9h0.65M233.5 59.1h0.65M240.3 55.0h0.65M238.3 56.2h0.65M229.9 54.4h0.65M231.8 61.9h0.65M233.3 60.5h0.65M231.6 61.0h0.65M229.5 61.3h0.65M233.3 57.2h0.65M239.1 65.1h0.65M233.1 64.5h0.65M236.2 63.7h0.65M237.6 61.1h0.65M233.2 64.6h0.65M232.5 60.5h0.65M237.3 55.2h0.65M237.2 59.3h0.65M234.0 62.0h0.65M235.1 61.2h0.65M232.7 58.3h0.65M233.9 59.5h0.65M231.6 64.4h0.65M240.7 56.1h0.65M233.6 63.2h0.65M226.7 63.3h0.65M235.2 62.7h0.65M238.4 64.4h0.65M230.3 62.5h0.65M235.4 62.5h0.65M230.0 57.9h0.65M237.5 63.8h0.65M240.7 55.8h0.65M239.4 59.7h0.65M234.0 59.6h0.65M237.1 63.7h0.65M231.9 62.4h0.65M235.5 58.4h0.65M238.0 58.0h0.65M233.2 60.4h0.65M235.2 58.2h0.65M233.4 63.9h0.65M235.4 61.5h0.65M234.8 63.3h0.65M239.2 60.3h0.65M237.7 58.3h0.65M234.9 57.3h0.65M233.0 69.6h0.65M231.9 64.4h0.65M235.9 61.4h0.65M227.7 61.2h0.65M229.9 58.7h0.65M232.3 59.5h0.65M241.2 65.5h0.65M228.8 59.5h0.65M232.1 61.0h0.65M229.0 56.3h0.65M234.6 58.4h0.65M238.6 59.7h0.65M235.6 59.2h0.65M237.6 64.0h0.65M234.6 59.1h0.65M236.9 60.9h0.65M238.2 60.8h0.65M235.2 62.9h0.65M232.0 56.9h0.65M236.5 60.0h0.65M237.0 62.9h0.65M236.1 58.9h0.65M240.3 53.9h0.65M232.2 57.0h0.65M241.7 59.5h0.65M234.2 62.3h0.65M239.2 63.4h0.65M234.6 61.1h0.65M231.1 61.4h0.65M233.9 54.2h0.65M235.6 60.2h0.65M237.6 62.4h0.65M235.2 60.1h0.65M240.5 61.2h0.65M238.5 61.9h0.65M239.6 63.4h0.65M231.0 62.2h0.65M240.4 64.6h0.65M233.8 65.4h0.65M238.0 62.5h0.65M232.6 61.9h0.65M236.7 54.6h0.65M233.2 56.3h0.65M228.6 61.2h0.65M238.0 60.6h0.65M229.7 56.9h0.65M237.9 60.1h0.65M236.0 59.8h0.65M235.5 58.7h0.65M232.6 56.6h0.65M235.1 60.5h0.65M238.9 67.4h0.65M235.6 52.4h0.65M230.7 64.5h0.65M236.6 60.2h0.65M231.7 62.1h0.65M236.1 63.8h0.65M239.7 65.2h0.65M238.4 57.3h0.65M237.0 57.4h0.65M232.5 58.4h0.65M230.8 58.2h0.65M240.1 60.4h0.65M240.6 61.0h0.65M228.7 58.7h0.65M240.7 63.9h0.65M234.3 60.0h0.65M239.2 62.1h0.65M234.2 64.0h0.65M235.1 57.7h0.65M229.8 54.7h0.65M243.2 61.3h0.65M240.9 61.2h0.65M235.4 61.3h0.65M235.8 56.8h0.65M234.8 63.6h0.65M242.7 59.5h0.65M236.4 62.8h0.65M240.2 62.2h0.65M233.9 65.7h0.65M236.0 61.0h0.65M245.1 56.3h0.65M234.9 57.6h0.65M240.3 58.0h0.65M235.7 61.8h0.65M233.9 60.5h0.65M233.6 58.7h0.65M232.0 61.3h0.65M233.9 57.8h0.65M233.4 66.9h0.65M230.7 59.1h0.65M233.1 60.6h0.65M237.7 58.6h0.65M236.0 62.1h0.65M240.7 59.0h0.65M232.5 62.7h0.65M234.8 59.0h0.65M234.0 64.5h0.65M229.4 60.1h0.65M240.9 61.7h0.65M232.3 58.9h0.65M238.5 62.0h0.65M233.5 58.9h0.65M230.5 56.8h0.65M236.3 62.1h0.65M233.2 62.7h0.65M232.6 61.7h0.65M227.8 63.1h0.65M241.4 63.1h0.65M234.8 62.0h0.65M235.2 61.0h0.65M234.8 62.1h0.65M233.8 60.5h0.65M233.3 62.8h0.65M239.7 62.9h0.65M236.7 64.8h0.65M232.1 66.8h0.65M228.1 62.7h0.65M235.4 61.8h0.65M229.6 64.1h0.65M235.9 61.0h0.65M238.7 61.1h0.65M235.3 63.2h0.65M234.7 61.7h0.65M233.6 59.0h0.65M235.1 58.9h0.65M235.9 59.9h0.65M233.0 60.3h0.65M230.7 62.7h0.65M237.1 53.9h0.65M235.1 59.4h0.65M236.9 66.7h0.65M233.4 60.3h0.65M232.0 61.6h0.65M237.4 61.4h0.65M235.3 57.5h0.65M234.7 57.9h0.65M233.7 65.2h0.65M235.3 58.5h0.65M231.2 56.2h0.65M233.2 66.7h0.65M234.1 60.0h0.65M231.3 59.3h0.65M238.3 63.5h0.65M234.3 58.3h0.65M237.3 67.3h0.65M245.0 64.7h0.65M235.1 62.7h0.65M233.7 58.4h0.65M232.7 60.7h0.65M237.3 64.9h0.65M239.5 62.0h0.65M227.2 65.0h0.65M236.6 58.7h0.65M239.5 58.1h0.65M234.0 60.7h0.65M234.9 60.5h0.65M227.8 56.6h0.65M234.6 62.8h0.65M234.8 57.2h0.65M230.6 57.2h0.65M238.8 57.7h0.65M237.6 57.2h0.65M231.4 58.8h0.65M239.5 58.5h0.65M234.2 58.8h0.65M233.1 63.5h0.65M232.7 60.0h0.65M230.6 58.5h0.65M235.3 64.9h0.65M241.3 57.0h0.65M234.1 55.2h0.65M233.8 60.7h0.65M237.1 62.1h0.65M231.3 57.0h0.65M229.7 65.3h0.65M230.4 63.4h0.65M235.8 63.3h0.65M229.1 61.8h0.65M236.4 60.6h0.65M236.6 57.2h0.65M240.0 57.3h0.65M234.4 63.2h0.65M236.8 65.2h0.65M234.8 57.3h0.65M236.2 62.1h0.65M229.1 63.3h0.65M239.3 58.2h0.65M238.1 60.8h0.65M238.4 59.0h0.65M237.9 62.6h0.65M235.2 59.7h0.65M234.4 62.7h0.65M240.1 60.2h0.65M238.0 60.9h0.65M241.7 64.2h0.65M237.7 61.9h0.65M233.0 55.9h0.65M237.9 58.5h0.65M232.6 63.7h0.65M236.0 57.4h0.65M239.1 59.7h0.65M238.4 57.3h0.65M229.6 58.8h0.65M237.7 54.6h0.65M231.0 63.5h0.65M243.9 59.9h0.65M231.5 59.2h0.65M232.1 65.1h0.65M237.5 57.9h0.65M237.9 54.1h0.65M235.1 60.6h0.65M234.1 57.8h0.65M232.7 55.0h0.65M236.5 57.7h0.65M237.0 63.1h0.65M232.4 57.0h0.65M235.1 62.6h0.65M230.1 60.4h0.65M231.3 65.0h0.65M236.3 55.8h0.65M232.9 60.8h0.65M233.1 60.8h0.65M236.3 61.2h0.65M233.4 64.9h0.65M238.1 59.7h0.65M234.4 58.6h0.65M229.8 59.6h0.65M235.0 59.5h0.65M231.4 51.4h0.65M228.5 63.1h0.65M228.2 62.3h0.65M237.5 60.3h0.65M234.9 63.0h0.65M234.7 60.4h0.65M238.0 60.4h0.65M242.0 57.2h0.65M233.4 59.7h0.65M235.5 58.6h0.65M241.7 62.5h0.65M228.2 60.5h0.65M237.3 64.1h0.65M236.3 58.2h0.65M237.8 56.6h0.65M235.2 57.0h0.65M239.7 62.7h0.65M242.6 59.7h0.65M234.5 59.1h0.65M239.0 57.3h0.65M237.4 59.5h0.65M237.5 61.3h0.65M232.0 59.3h0.65M228.6 57.8h0.65M232.7 63.6h0.65M233.3 61.3h0.65M234.0 56.7h0.65M237.0 66.3h0.65M237.1 64.2h0.65M237.0 63.5h0.65M242.3 55.6h0.65M232.5 56.1h0.65M235.0 59.5h0.65M232.2 62.0h0.65M241.6 64.7h0.65M241.3 61.0h0.65M236.5 64.9h0.65M238.5 63.6h0.65M233.8 59.3h0.65M232.6 64.4h0.65M231.8 61.2h0.65M235.9 60.3h0.65M233.9 61.9h0.65M232.3 61.0h0.65M239.6 59.0h0.65M239.1 64.4h0.65M241.4 58.0h0.65M241.1 63.7h0.65M240.2 63.6h0.65M234.5 63.5h0.65M235.6 59.2h0.65M232.9 59.3h0.65M234.4 55.9h0.65M236.2 56.5h0.65M237.2 64.8h0.65M239.4 65.5h0.65M240.6 67.7h0.65M234.7 58.1h0.65M234.4 57.7h0.65M239.8 53.7h0.65M235.1 63.5h0.65M237.2 63.3h0.65M231.2 59.4h0.65M234.5 62.1h0.65M237.1 65.1h0.65M230.6 61.6h0.65M243.0 64.6h0.65M235.9 63.3h0.65M234.2 64.7h0.65M233.1 63.2h0.65M235.9 58.5h0.65M235.7 60.5h0.65M232.6 61.2h0.65M232.0 64.1h0.65M236.8 63.7h0.65M237.5 61.6h0.65M230.2 59.8h0.65M235.1 59.2h0.65M234.8 59.6h0.65M233.4 58.1h0.65M233.3 57.5h0.65M238.7 61.5h0.65M236.8 63.1h0.65M233.7 63.9h0.65M228.8 58.9h0.65M235.2 65.7h0.65M239.0 63.2h0.65M237.7 59.1h0.65M234.5 58.8h0.65M235.3 57.1h0.65M234.0 59.3h0.65M236.7 58.9h0.65M236.3 62.2h0.65M236.8 63.0h0.65M231.8 61.0h0.65M234.5 63.9h0.65M233.4 61.6h0.65M230.4 59.8h0.65M232.5 60.6h0.65M232.8 60.5h0.65M235.8 57.8h0.65M237.6 59.0h0.65M242.2 64.0h0.65M237.3 61.0h0.65M239.7 61.6h0.65M229.4 62.7h0.65M235.9 53.6h0.65M228.7 49.7h0.65M231.0 54.7h0.65M229.9 49.4h0.65M231.7 47.1h0.65M228.5 60.7h0.65M232.3 53.6h0.65M228.9 60.7h0.65M229.5 57.2h0.65M229.1 50.5h0.65M229.9 60.1h0.65M229.4 60.6h0.65M229.8 75.0h0.65M231.7 55.4h0.65M230.4 49.3h0.65M232.1 58.1h0.65M231.5 55.8h0.65M231.0 55.5h0.65M231.9 58.5h0.65M231.4 55.9h0.65M229.9 64.8h0.65M231.2 69.1h0.65M231.5 64.2h0.65M232.2 65.0h0.65M232.1 57.7h0.65M231.7 48.6h0.65M230.9 49.4h0.65M231.6 61.7h0.65M232.0 54.1h0.65M230.6 70.1h0.65M232.3 67.8h0.65M231.6 66.7h0.65M229.5 59.9h0.65M229.3 54.9h0.65M230.3 58.5h0.65M232.1 63.8h0.65M231.2 56.8h0.65M231.6 53.2h0.65M231.7 53.1h0.65M231.8 47.1h0.65M230.1 64.2h0.65M252.1 65.5h0.65M246.8 62.4h0.65M245.8 64.8h0.65M249.2 64.5h0.65M249.5 66.9h0.65M253.6 63.0h0.65M251.8 63.5h0.65M250.3 65.1h0.65M252.7 66.0h0.65M245.5 64.6h0.65M250.9 64.5h0.65M254.9 62.7h0.65M251.3 65.1h0.65M247.8 64.6h0.65M248.6 65.2h0.65M247.5 64.3h0.65M258.2 64.1h0.65M251.4 66.4h0.65M246.4 66.0h0.65M247.3 61.1h0.65M249.5 60.3h0.65M249.1 65.8h0.65M255.6 65.8h0.65M253.1 65.7h0.65M249.5 66.4h0.65M248.2 65.2h0.65M247.0 64.4h0.65M250.8 62.0h0.65M247.2 63.3h0.65M249.2 67.7h0.65M246.3 64.5h0.65M248.3 63.6h0.65M246.8 66.2h0.65M248.6 63.7h0.65M245.3 63.5h0.65M252.5 63.3h0.65M242.7 63.4h0.65M249.5 65.3h0.65M249.3 66.0h0.65M244.9 63.3h0.65M248.2 64.8h0.65M242.1 64.5h0.65M243.7 66.1h0.65M250.2 67.2h0.65M256.1 65.5h0.65M248.3 63.1h0.65M247.1 66.2h0.65M250.5 64.8h0.65M244.5 64.3h0.65M255.3 64.3h0.65M253.7 61.2h0.65M254.1 63.2h0.65M244.4 64.1h0.65M246.4 67.1h0.65M248.2 64.4h0.65M246.9 65.8h0.65M253.4 66.0h0.65M244.0 64.3h0.65M251.1 61.7h0.65M248.8 66.1h0.65M243.3 64.7h0.65M247.2 61.6h0.65M249.2 59.2h0.65M265.6 57.7h0.65M247.2 57.8h0.65M264.9 56.4h0.65M250.8 61.1h0.65M241.5 59.2h0.65M249.3 62.1h0.65M265.5 54.9h0.65M263.9 58.1h0.65M251.1 60.7h0.65M260.3 51.2h0.65M247.3 62.3h0.65M251.7 63.1h0.65M254.1 54.0h0.65M246.2 52.8h0.65M248.7 62.5h0.65M246.6 56.1h0.65M256.1 56.4h0.65M239.7 66.7h0.65M261.6 52.5h0.65M264.8 53.8h0.65M245.9 58.7h0.65M253.9 58.8h0.65M259.6 54.4h0.65M261.1 52.2h0.65M241.6 57.4h0.65M265.6 60.6h0.65M256.2 54.4h0.65M249.5 51.6h0.65M264.8 55.1h0.65M249.5 54.4h0.65M261.1 54.5h0.65M262.9 57.7h0.65M253.4 51.4h0.65M263.7 54.7h0.65M242.2 58.6h0.65M250.1 59.2h0.65M252.6 61.0h0.65M254.7 52.3h0.65M249.8 55.1h0.65M262.2 54.3h0.65M260.6 57.3h0.65M257.3 54.7h0.65M259.6 47.7h0.65M263.7 55.5h0.65M259.3 58.8h0.65M263.1 50.4h0.65M242.2 57.6h0.65M255.6 51.0h0.65M246.2 63.6h0.65M261.6 58.1h0.65M246.1 59.3h0.65M241.1 62.3h0.65M257.4 63.7h0.65M248.6 57.1h0.65M258.1 63.4h0.65M247.6 61.7h0.65M238.6 58.5h0.65M246.2 57.0h0.65M240.2 54.9h0.65M261.1 57.7h0.65M239.6 60.7h0.65M244.8 57.2h0.65M256.1 54.9h0.65M254.4 60.2h0.65M244.6 59.6h0.65M262.0 53.2h0.65M261.1 55.0h0.65M236.8 68.3h0.65M233.6 71.8h0.65M228.3 73.7h0.65M236.2 73.3h0.65M232.3 72.6h0.65M234.6 70.0h0.65M237.9 77.0h0.65M237.2 76.7h0.65M231.5 76.9h0.65M228.4 72.3h0.65M229.1 72.1h0.65M235.7 74.4h0.65M233.0 71.1h0.65M229.8 71.6h0.65M230.9 69.7h0.65" stroke="#1a1a1a" stroke-width="0.65" fill="none" opacity="1"/>
<text x="0.80" y="55.36" font-size="6.6" font-weight="700" stroke="#111" stroke-width="0.3" fill="#111">Side</text>
<text x="0.80" y="63.66" font-size="6.6" font-weight="700" stroke="#111" stroke-width="0.3" fill="#111">scatter</text>
<line x1="14.30" y1="79.20" x2="14.30" y2="116.80" stroke="#3a3a3a" stroke-width="1.1"/>
<line x1="13.75" y1="116.80" x2="52.50" y2="116.80" stroke="#3a3a3a" stroke-width="1.1"/>
<path d="M14.30 75.40 l-1.6 4.8 h3.2 z" fill="#111" stroke="none" stroke-width="0.8"/>
<path d="M56.30 116.80 l-4.8 -1.6 v3.2 z" fill="#111" stroke="none" stroke-width="0.8"/>
<text x="72.00" y="119.53" font-size="6.8" font-weight="700" stroke="#111" stroke-width="0.3" fill="#111">Forward</text>
<text x="72.00" y="128.23" font-size="6.8" font-weight="700" stroke="#111" stroke-width="0.3" fill="#111">scatter</text>
<text x="78.70" y="146.73" font-size="6.8" stroke="#222" stroke-width="0.15" text-anchor="middle" fill="#222">AT+IL2</text>
<rect x="58.00" y="148.70" width="49.30" height="50.00" fill="none" stroke="#111" stroke-width="0.9"/>
<line x1="81.50" y1="148.70" x2="81.50" y2="198.70" stroke="#222" stroke-width="0.8"/>
<line x1="58.00" y1="182.30" x2="107.30" y2="182.30" stroke="#222" stroke-width="0.8"/>
<path d="M58.00 198.70h1.80M58.00 194.94h1.00M58.00 192.74h1.00M58.00 191.17h1.00M58.00 189.96h1.00M58.00 188.97h1.00M58.00 188.14h1.00M58.00 187.41h1.00M58.00 186.77h1.00M58.00 186.20h1.80M58.00 182.44h1.00M58.00 180.24h1.00M58.00 178.67h1.00M58.00 177.46h1.00M58.00 176.47h1.00M58.00 175.64h1.00M58.00 174.91h1.00M58.00 174.27h1.00M58.00 173.70h1.80M58.00 169.94h1.00M58.00 167.74h1.00M58.00 166.17h1.00M58.00 164.96h1.00M58.00 163.97h1.00M58.00 163.14h1.00M58.00 162.41h1.00M58.00 161.77h1.00M58.00 161.20h1.80M58.00 157.44h1.00M58.00 155.24h1.00M58.00 153.67h1.00M58.00 152.46h1.00M58.00 151.47h1.00M58.00 150.64h1.00M58.00 149.91h1.00M58.00 149.27h1.00" fill="none" stroke="#111" stroke-width="0.65"/>
<path d="M58.00 198.70v-1.80M61.71 198.70v-1.00M63.88 198.70v-1.00M65.42 198.70v-1.00M66.61 198.70v-1.00M67.59 198.70v-1.00M68.42 198.70v-1.00M69.13 198.70v-1.00M69.76 198.70v-1.00M70.33 198.70v-1.80M74.04 198.70v-1.00M76.21 198.70v-1.00M77.75 198.70v-1.00M78.94 198.70v-1.00M79.92 198.70v-1.00M80.74 198.70v-1.00M81.46 198.70v-1.00M82.09 198.70v-1.00M82.65 198.70v-1.80M86.36 198.70v-1.00M88.53 198.70v-1.00M90.07 198.70v-1.00M91.26 198.70v-1.00M92.24 198.70v-1.00M93.07 198.70v-1.00M93.78 198.70v-1.00M94.41 198.70v-1.00M94.97 198.70v-1.80M98.69 198.70v-1.00M100.86 198.70v-1.00M102.40 198.70v-1.00M103.59 198.70v-1.00M104.57 198.70v-1.00M105.39 198.70v-1.00M106.11 198.70v-1.00M106.74 198.70v-1.00" fill="none" stroke="#111" stroke-width="0.65"/>
<g transform="translate(58.60 204.30) rotate(0) scale(0.78 1)" fill="#222" stroke="#222" stroke-width="0.15"><text x="-5.55" y="2.79" font-size="7.8">10</text><text x="3.12" y="-0.48" font-size="4.37">0</text></g>
<g transform="translate(53.40 197.00) rotate(-90) scale(0.76 1)" fill="#222" stroke="#222" stroke-width="0.15"><text x="-5.34" y="2.69" font-size="7.5">10</text><text x="3.00" y="-0.46" font-size="4.20">0</text></g>
<g transform="translate(70.93 204.30) rotate(0) scale(0.78 1)" fill="#222" stroke="#222" stroke-width="0.15"><text x="-5.55" y="2.79" font-size="7.8">10</text><text x="3.12" y="-0.48" font-size="4.37">1</text></g>
<g transform="translate(53.40 185.10) rotate(-90) scale(0.76 1)" fill="#222" stroke="#222" stroke-width="0.15"><text x="-5.34" y="2.69" font-size="7.5">10</text><text x="3.00" y="-0.46" font-size="4.20">1</text></g>
<g transform="translate(83.25 204.30) rotate(0) scale(0.78 1)" fill="#222" stroke="#222" stroke-width="0.15"><text x="-5.55" y="2.79" font-size="7.8">10</text><text x="3.12" y="-0.48" font-size="4.37">2</text></g>
<g transform="translate(53.40 173.20) rotate(-90) scale(0.76 1)" fill="#222" stroke="#222" stroke-width="0.15"><text x="-5.34" y="2.69" font-size="7.5">10</text><text x="3.00" y="-0.46" font-size="4.20">2</text></g>
<g transform="translate(95.58 204.30) rotate(0) scale(0.78 1)" fill="#222" stroke="#222" stroke-width="0.15"><text x="-5.55" y="2.79" font-size="7.8">10</text><text x="3.12" y="-0.48" font-size="4.37">3</text></g>
<g transform="translate(53.40 161.30) rotate(-90) scale(0.76 1)" fill="#222" stroke="#222" stroke-width="0.15"><text x="-5.34" y="2.69" font-size="7.5">10</text><text x="3.00" y="-0.46" font-size="4.20">3</text></g>
<g transform="translate(107.90 204.30) rotate(0) scale(0.78 1)" fill="#222" stroke="#222" stroke-width="0.15"><text x="-5.55" y="2.79" font-size="7.8">10</text><text x="3.12" y="-0.48" font-size="4.37">4</text></g>
<g transform="translate(53.40 149.40) rotate(-90) scale(0.76 1)" fill="#222" stroke="#222" stroke-width="0.15"><text x="-5.34" y="2.69" font-size="7.5">10</text><text x="3.00" y="-0.46" font-size="4.20">4</text></g>
<text x="84.65" y="214.64" font-size="7.1" stroke="#222" stroke-width="0.15" text-anchor="middle" fill="#222">Annexin V FITC</text>
<text x="44.40" y="178.31" font-size="7.0" stroke="#222" stroke-width="0.15" text-anchor="middle" transform="rotate(-90 44.40 175.80)" fill="#222">Propidium Iodide</text>
<path d="M62.1 192.2h0.65M73.7 190.1h0.65M61.6 191.1h0.65M71.0 193.9h0.65M62.2 188.2h0.65M72.2 192.4h0.65M76.5 193.7h0.65M68.0 190.6h0.65M81.9 190.6h0.65M64.4 188.6h0.65M69.0 191.6h0.65M66.7 191.2h0.65M69.9 193.0h0.65M74.2 191.8h0.65M59.2 193.0h0.65M61.1 190.9h0.65M60.8 191.3h0.65M64.5 191.8h0.65M85.7 191.2h0.65M72.9 188.1h0.65M67.0 192.9h0.65M68.0 192.2h0.65M69.0 188.9h0.65M71.4 189.4h0.65M78.2 190.1h0.65M72.1 191.3h0.65M73.5 189.9h0.65M73.7 191.0h0.65M75.1 192.8h0.65M69.2 189.4h0.65M72.5 192.4h0.65M77.0 190.4h0.65M71.4 192.5h0.65M70.0 191.8h0.65M69.4 189.9h0.65M63.2 190.3h0.65M71.6 194.9h0.65M73.6 193.8h0.65M72.5 193.0h0.65M69.5 193.2h0.65M77.7 190.5h0.65M64.9 196.0h0.65M69.8 193.6h0.65M73.0 188.6h0.65M81.2 195.6h0.65M69.4 193.1h0.65M69.2 189.2h0.65M67.9 192.2h0.65M74.3 193.0h0.65M68.8 194.6h0.65M64.5 193.2h0.65M74.3 190.6h0.65M59.2 189.1h0.65M69.7 192.6h0.65M76.6 188.9h0.65M68.5 192.9h0.65M67.7 185.6h0.65M72.7 196.8h0.65M73.7 189.1h0.65M66.4 191.8h0.65M81.4 192.8h0.65M69.1 195.0h0.65M68.1 195.8h0.65M64.9 190.2h0.65M72.2 194.7h0.65M71.9 192.0h0.65M59.0 189.6h0.65M65.3 190.0h0.65M71.5 190.5h0.65M72.6 191.5h0.65M66.8 191.6h0.65M70.7 193.4h0.65M66.0 190.7h0.65M61.4 195.1h0.65M76.0 190.9h0.65M66.0 188.3h0.65M69.4 191.8h0.65M79.8 191.9h0.65M64.5 185.4h0.65M75.8 191.8h0.65M60.1 191.7h0.65M74.3 192.7h0.65M67.6 186.2h0.65M67.8 187.6h0.65M71.6 186.2h0.65M63.8 194.2h0.65M77.0 188.5h0.65M60.5 193.4h0.65M72.9 188.9h0.65M64.9 189.6h0.65M62.3 189.7h0.65M75.0 193.0h0.65M79.2 191.1h0.65M67.8 188.9h0.65M67.9 188.1h0.65M59.3 193.0h0.65M76.0 193.3h0.65M75.4 191.9h0.65M64.8 191.5h0.65M66.6 188.6h0.65M59.7 187.7h0.65M68.5 191.7h0.65M66.0 194.7h0.65M69.4 192.7h0.65M74.8 189.3h0.65M64.9 194.4h0.65M70.3 193.7h0.65M72.5 186.3h0.65M72.2 189.7h0.65M64.6 190.3h0.65M72.5 193.4h0.65M73.8 187.3h0.65M65.4 185.6h0.65M68.0 192.7h0.65M64.5 191.9h0.65M69.7 193.7h0.65M64.2 189.3h0.65M64.5 195.5h0.65M74.2 191.0h0.65M69.7 191.6h0.65M69.6 190.8h0.65M66.8 188.3h0.65M65.2 195.3h0.65M71.3 191.5h0.65M67.4 191.5h0.65M70.3 189.7h0.65M69.5 191.9h0.65M64.6 189.4h0.65M63.3 188.7h0.65M73.1 185.6h0.65M67.1 189.8h0.65M65.3 191.5h0.65M74.4 191.5h0.65M67.8 189.8h0.65M67.8 193.5h0.65M66.5 188.5h0.65M61.9 188.6h0.65M61.3 193.9h0.65M70.3 190.7h0.65M76.1 189.7h0.65M72.4 193.2h0.65M60.5 187.6h0.65M63.7 193.5h0.65M75.2 188.4h0.65M74.0 190.4h0.65M66.5 190.0h0.65M66.8 186.9h0.65M63.3 188.3h0.65M71.1 196.3h0.65M82.7 190.5h0.65M59.5 190.3h0.65M63.6 196.1h0.65M71.5 189.6h0.65M73.4 192.6h0.65M60.0 190.0h0.65M67.3 191.3h0.65M69.2 190.5h0.65M69.5 189.9h0.65M63.8 194.9h0.65M70.4 192.4h0.65M60.2 190.9h0.65M72.8 188.2h0.65M74.2 190.4h0.65M70.6 191.0h0.65M69.6 194.2h0.65M66.4 195.1h0.65M64.4 189.1h0.65M72.2 188.7h0.65M66.6 193.5h0.65M74.8 187.0h0.65M71.1 195.8h0.65M74.7 190.7h0.65M65.4 190.6h0.65M62.5 190.7h0.65M67.5 191.0h0.65M74.6 190.7h0.65M60.9 193.8h0.65M62.9 190.2h0.65M67.8 190.5h0.65M63.3 190.7h0.65M79.9 189.8h0.65M67.8 194.0h0.65M72.4 193.1h0.65M73.0 186.6h0.65M64.0 191.6h0.65M71.1 194.4h0.65M70.9 190.7h0.65M68.7 190.8h0.65M69.8 192.9h0.65M66.7 189.3h0.65M64.1 193.9h0.65M75.2 193.7h0.65M73.0 193.3h0.65M68.5 192.9h0.65M63.0 190.8h0.65M64.7 193.0h0.65M65.5 191.0h0.65M70.6 194.6h0.65M64.4 189.0h0.65M72.7 188.6h0.65M70.9 189.9h0.65M68.0 186.9h0.65M72.2 190.1h0.65M63.8 196.3h0.65M70.6 190.5h0.65M69.1 195.2h0.65M68.4 192.4h0.65M71.2 189.1h0.65M69.2 190.1h0.65M62.0 193.4h0.65M72.0 191.5h0.65M63.8 186.5h0.65M71.0 191.1h0.65M59.7 191.2h0.65M60.6 191.2h0.65M69.2 192.2h0.65M69.6 191.7h0.65M62.6 190.4h0.65M65.8 190.7h0.65M69.9 192.8h0.65M77.0 185.1h0.65M70.6 190.8h0.65M80.3 193.5h0.65M59.9 192.3h0.65M65.8 193.7h0.65M63.0 191.1h0.65M67.8 191.1h0.65M65.5 186.9h0.65M70.9 193.7h0.65M68.1 188.9h0.65M69.6 192.7h0.65M67.6 191.3h0.65M75.8 188.6h0.65M65.6 186.7h0.65M64.9 189.5h0.65M63.5 189.6h0.65M77.8 190.8h0.65M67.9 196.6h0.65M68.2 187.1h0.65M70.6 189.1h0.65M77.0 188.3h0.65M65.5 187.4h0.65M69.0 188.9h0.65M68.2 190.4h0.65M65.3 193.6h0.65M73.4 191.4h0.65M63.8 188.7h0.65M69.9 197.0h0.65M66.1 189.4h0.65M64.9 188.7h0.65M63.4 190.8h0.65M76.0 191.3h0.65M65.8 187.4h0.65M69.6 191.2h0.65M62.1 188.7h0.65M68.3 193.7h0.65M71.8 191.8h0.65M66.8 192.1h0.65M68.4 196.5h0.65M62.6 190.4h0.65M75.1 190.7h0.65M75.9 191.2h0.65M69.3 190.4h0.65M61.3 189.0h0.65M80.0 192.8h0.65M71.7 193.6h0.65M71.5 193.8h0.65M67.1 190.8h0.65M73.6 190.5h0.65M61.6 190.8h0.65M65.7 192.8h0.65M64.8 188.8h0.65M66.8 195.0h0.65M68.3 191.7h0.65M68.5 192.0h0.65M73.3 194.6h0.65M59.9 194.6h0.65M68.5 190.5h0.65M81.0 190.9h0.65M78.6 193.6h0.65M63.1 192.5h0.65M72.3 191.0h0.65M67.5 188.6h0.65M78.0 190.7h0.65M66.5 190.6h0.65M64.4 189.4h0.65M69.0 192.1h0.65M65.9 191.1h0.65M61.3 192.6h0.65M64.6 191.8h0.65M63.8 190.1h0.65M69.6 188.4h0.65M81.3 191.2h0.65M68.1 189.5h0.65M76.8 194.6h0.65M70.1 188.0h0.65M65.9 192.8h0.65M65.8 188.5h0.65M62.3 189.4h0.65M68.6 189.7h0.65M77.7 188.8h0.65M70.3 191.5h0.65M67.8 193.8h0.65M66.8 190.5h0.65M66.6 191.1h0.65M75.2 193.2h0.65M61.5 190.2h0.65M64.4 193.3h0.65M69.7 193.4h0.65M68.2 186.7h0.65M70.8 191.8h0.65M71.1 188.2h0.65M68.9 189.6h0.65M64.9 192.1h0.65M70.3 189.2h0.65M59.6 185.4h0.65M65.5 194.0h0.65M68.2 185.9h0.65M64.0 192.3h0.65M77.2 194.1h0.65M70.4 191.8h0.65M63.0 190.2h0.65M66.8 189.4h0.65M68.8 190.4h0.65M70.3 194.7h0.65M72.4 192.3h0.65M67.2 187.7h0.65M67.9 192.6h0.65M63.3 194.3h0.65M66.8 192.2h0.65M66.8 188.3h0.65M79.3 188.5h0.65M73.3 190.0h0.65M70.0 189.4h0.65M66.3 193.5h0.65M78.6 189.3h0.65M68.6 193.6h0.65M65.2 193.0h0.65M64.4 192.7h0.65M70.8 194.2h0.65M70.4 188.4h0.65M72.0 188.7h0.65M72.4 194.9h0.65M71.6 190.0h0.65M74.7 191.7h0.65M62.0 190.4h0.65M75.9 190.6h0.65M69.1 190.5h0.65M59.7 190.1h0.65M70.4 191.8h0.65M67.6 186.2h0.65M74.9 193.0h0.65M73.8 194.4h0.65M66.2 189.8h0.65M70.1 195.3h0.65M59.7 190.7h0.65M64.8 192.6h0.65M76.1 190.6h0.65M62.0 191.4h0.65M67.0 187.6h0.65M73.1 190.0h0.65M72.1 188.1h0.65M74.2 187.8h0.65M74.0 187.0h0.65M75.7 190.4h0.65M60.4 190.7h0.65M70.3 188.9h0.65M65.9 191.9h0.65M67.6 183.9h0.65M66.3 192.3h0.65M70.0 193.7h0.65M64.9 197.4h0.65M72.7 192.0h0.65M74.1 193.6h0.65M69.0 189.8h0.65M73.8 192.3h0.65M70.9 191.6h0.65M70.0 192.8h0.65M69.3 195.1h0.65M65.4 190.3h0.65M70.2 193.1h0.65M72.6 194.9h0.65M66.0 194.1h0.65M70.9 188.8h0.65M67.8 196.3h0.65M72.6 190.2h0.65M64.8 191.5h0.65M80.5 193.1h0.65M70.1 189.1h0.65M62.3 190.8h0.65M66.4 189.8h0.65M74.4 191.5h0.65M62.1 194.4h0.65M66.9 188.1h0.65M70.2 192.5h0.65M66.7 193.0h0.65M72.8 189.2h0.65M67.8 194.3h0.65M73.7 194.6h0.65M78.2 191.3h0.65M74.0 187.6h0.65M72.1 192.2h0.65M68.0 190.2h0.65M62.7 191.6h0.65M75.1 190.4h0.65M71.3 189.7h0.65M69.8 188.9h0.65M70.5 190.8h0.65M70.1 189.8h0.65M62.4 190.5h0.65M73.9 195.1h0.65M66.8 193.2h0.65M72.4 192.2h0.65M60.4 192.1h0.65M63.5 194.1h0.65M72.6 192.8h0.65M72.1 188.2h0.65M73.5 191.5h0.65M67.5 189.6h0.65M63.2 190.3h0.65M60.1 196.0h0.65M61.0 190.7h0.65M63.1 190.3h0.65M62.7 193.6h0.65M61.5 189.5h0.65M63.3 193.4h0.65M61.3 192.4h0.65M61.6 195.3h0.65M64.7 186.9h0.65M61.7 189.3h0.65M64.1 192.3h0.65M60.5 191.8h0.65M63.4 190.5h0.65M62.0 189.3h0.65M64.2 190.0h0.65M61.1 190.3h0.65M60.8 193.0h0.65M60.4 193.0h0.65M64.6 188.0h0.65M63.2 192.5h0.65M63.8 192.2h0.65M61.7 188.5h0.65M62.1 193.8h0.65M63.5 191.3h0.65M64.9 192.0h0.65M63.0 187.0h0.65M60.1 189.8h0.65M63.3 193.2h0.65M60.5 188.6h0.65M63.9 193.3h0.65M64.1 189.7h0.65M63.8 189.9h0.65M64.5 188.5h0.65M62.5 190.2h0.65M60.7 189.1h0.65M62.6 183.0h0.65M63.6 191.9h0.65M64.7 189.4h0.65M63.1 191.4h0.65M61.2 192.1h0.65M62.9 190.2h0.65M64.6 188.6h0.65M61.8 189.6h0.65M64.9 191.3h0.65M60.7 193.9h0.65M62.8 189.0h0.65M62.8 190.4h0.65M65.0 197.1h0.65M64.1 189.8h0.65M64.1 190.1h0.65M61.4 192.7h0.65M62.9 189.7h0.65M64.2 192.4h0.65M60.4 194.2h0.65M60.2 194.5h0.65M63.3 189.5h0.65M63.7 194.9h0.65M61.9 186.8h0.65M60.1 188.2h0.65M94.1 194.2h0.65M95.7 193.3h0.65M88.6 190.2h0.65M87.3 190.7h0.65M87.1 189.9h0.65M91.0 190.4h0.65M90.4 189.5h0.65M99.9 190.0h0.65M85.9 191.6h0.65M85.5 187.8h0.65M92.5 186.0h0.65M72.7 191.9h0.65M98.2 186.0h0.65M86.6 192.7h0.65M80.1 188.4h0.65M84.8 190.4h0.65M80.2 193.7h0.65M91.1 191.9h0.65M90.0 184.6h0.65M91.1 187.0h0.65M92.1 188.4h0.65M90.1 190.4h0.65M96.6 193.3h0.65M86.0 191.0h0.65M100.8 192.5h0.65M87.6 190.6h0.65M89.9 193.8h0.65M92.2 192.1h0.65M105.3 186.9h0.65M85.9 185.8h0.65M82.4 193.6h0.65M93.8 195.9h0.65M80.2 188.4h0.65M100.7 194.1h0.65M97.3 193.6h0.65M92.2 191.0h0.65M92.2 193.5h0.65M91.0 192.0h0.65M100.7 187.6h0.65M87.5 192.7h0.65M90.4 190.5h0.65M104.6 192.2h0.65M89.5 194.3h0.65M88.0 191.3h0.65M88.2 197.5h0.65M95.2 189.8h0.65M94.9 188.6h0.65M88.4 191.3h0.65M106.3 184.2h0.65M94.5 195.1h0.65M96.4 196.8h0.65M94.7 191.4h0.65M91.2 188.4h0.65M101.8 187.5h0.65M91.3 189.4h0.65M87.3 184.3h0.65M89.7 191.4h0.65M92.9 193.5h0.65M91.0 189.1h0.65M93.8 193.0h0.65M86.6 186.4h0.65M85.8 194.2h0.65M98.0 188.3h0.65M92.7 193.5h0.65M100.0 189.0h0.65M90.6 195.2h0.65M106.5 195.6h0.65M85.2 192.3h0.65M90.2 190.8h0.65M88.0 189.6h0.65M91.9 196.4h0.65M96.2 192.3h0.65M92.2 188.7h0.65M90.6 194.7h0.65M97.0 196.9h0.65M93.6 190.9h0.65M82.3 192.2h0.65M81.7 195.6h0.65M88.2 191.0h0.65M83.9 189.5h0.65M86.4 194.4h0.65M93.5 187.5h0.65M80.4 190.8h0.65M89.1 187.7h0.65M95.5 190.4h0.65M92.7 189.2h0.65M88.6 189.6h0.65M82.4 192.9h0.65M94.4 185.8h0.65M92.6 194.5h0.65M93.4 194.9h0.65M90.4 191.0h0.65M84.2 188.3h0.65M81.1 188.3h0.65M73.2 171.1h0.65M77.8 168.8h0.65M67.1 170.6h0.65M71.3 178.7h0.65M81.8 173.8h0.65M66.3 164.8h0.65M73.0 163.7h0.65M74.6 172.1h0.65M76.2 169.4h0.65M67.6 162.9h0.65M71.4 176.0h0.65M79.9 173.9h0.65M73.8 172.1h0.65M76.1 175.8h0.65M76.3 158.8h0.65M76.8 170.3h0.65M69.7 171.2h0.65M73.4 167.7h0.65M63.6 168.7h0.65M74.8 167.7h0.65M64.1 170.7h0.65M75.6 169.1h0.65M74.1 165.9h0.65M68.7 171.1h0.65M70.2 169.1h0.65M88.3 172.3h0.65M72.7 158.3h0.65M72.5 172.5h0.65M68.5 166.6h0.65M60.7 171.3h0.65M69.0 172.1h0.65M78.8 167.0h0.65M76.9 169.5h0.65M71.0 166.3h0.65M67.7 175.7h0.65M76.4 162.0h0.65M76.2 163.6h0.65M64.5 175.2h0.65M65.6 175.1h0.65M73.0 173.4h0.65M92.6 179.8h0.65M91.7 176.9h0.65M91.2 179.5h0.65M88.0 179.1h0.65M97.5 173.7h0.65M92.2 171.4h0.65M88.6 175.3h0.65M88.3 169.6h0.65M89.9 175.0h0.65M91.6 177.6h0.65M81.1 181.1h0.65M89.1 170.1h0.65M88.1 176.2h0.65M94.4 172.2h0.65M90.8 166.0h0.65M90.8 173.4h0.65M87.8 178.4h0.65M99.0 179.2h0.65M86.1 181.6h0.65M88.3 173.8h0.65M87.1 176.3h0.65M92.8 174.7h0.65M89.0 173.3h0.65M88.0 178.9h0.65M87.4 173.3h0.65M89.0 170.3h0.65M88.9 166.7h0.65M92.0 176.7h0.65M88.5 181.8h0.65M85.9 176.8h0.65" stroke="#1a1a1a" stroke-width="0.65" fill="none" opacity="1"/>
<text x="161.70" y="146.73" font-size="6.8" stroke="#222" stroke-width="0.15" text-anchor="middle" fill="#222">TAB4</text>
<rect x="140.60" y="148.70" width="49.30" height="50.00" fill="none" stroke="#111" stroke-width="0.9"/>
<line x1="164.10" y1="148.70" x2="164.10" y2="198.70" stroke="#222" stroke-width="0.8"/>
<line x1="140.60" y1="182.30" x2="189.90" y2="182.30" stroke="#222" stroke-width="0.8"/>
<path d="M140.60 198.70h1.80M140.60 194.94h1.00M140.60 192.74h1.00M140.60 191.17h1.00M140.60 189.96h1.00M140.60 188.97h1.00M140.60 188.14h1.00M140.60 187.41h1.00M140.60 186.77h1.00M140.60 186.20h1.80M140.60 182.44h1.00M140.60 180.24h1.00M140.60 178.67h1.00M140.60 177.46h1.00M140.60 176.47h1.00M140.60 175.64h1.00M140.60 174.91h1.00M140.60 174.27h1.00M140.60 173.70h1.80M140.60 169.94h1.00M140.60 167.74h1.00M140.60 166.17h1.00M140.60 164.96h1.00M140.60 163.97h1.00M140.60 163.14h1.00M140.60 162.41h1.00M140.60 161.77h1.00M140.60 161.20h1.80M140.60 157.44h1.00M140.60 155.24h1.00M140.60 153.67h1.00M140.60 152.46h1.00M140.60 151.47h1.00M140.60 150.64h1.00M140.60 149.91h1.00M140.60 149.27h1.00" fill="none" stroke="#111" stroke-width="0.65"/>
<path d="M140.60 198.70v-1.80M144.31 198.70v-1.00M146.48 198.70v-1.00M148.02 198.70v-1.00M149.21 198.70v-1.00M150.19 198.70v-1.00M151.02 198.70v-1.00M151.73 198.70v-1.00M152.36 198.70v-1.00M152.92 198.70v-1.80M156.64 198.70v-1.00M158.81 198.70v-1.00M160.35 198.70v-1.00M161.54 198.70v-1.00M162.52 198.70v-1.00M163.34 198.70v-1.00M164.06 198.70v-1.00M164.69 198.70v-1.00M165.25 198.70v-1.80M168.96 198.70v-1.00M171.13 198.70v-1.00M172.67 198.70v-1.00M173.86 198.70v-1.00M174.84 198.70v-1.00M175.67 198.70v-1.00M176.38 198.70v-1.00M177.01 198.70v-1.00M177.57 198.70v-1.80M181.29 198.70v-1.00M183.46 198.70v-1.00M185.00 198.70v-1.00M186.19 198.70v-1.00M187.17 198.70v-1.00M187.99 198.70v-1.00M188.71 198.70v-1.00M189.34 198.70v-1.00" fill="none" stroke="#111" stroke-width="0.65"/>
<g transform="translate(141.20 204.30) rotate(0) scale(0.78 1)" fill="#222" stroke="#222" stroke-width="0.15"><text x="-5.55" y="2.79" font-size="7.8">10</text><text x="3.12" y="-0.48" font-size="4.37">0</text></g>
<g transform="translate(136.00 197.00) rotate(-90) scale(0.76 1)" fill="#222" stroke="#222" stroke-width="0.15"><text x="-5.34" y="2.69" font-size="7.5">10</text><text x="3.00" y="-0.46" font-size="4.20">0</text></g>
<g transform="translate(153.52 204.30) rotate(0) scale(0.78 1)" fill="#222" stroke="#222" stroke-width="0.15"><text x="-5.55" y="2.79" font-size="7.8">10</text><text x="3.12" y="-0.48" font-size="4.37">1</text></g>
<g transform="translate(136.00 185.10) rotate(-90) scale(0.76 1)" fill="#222" stroke="#222" stroke-width="0.15"><text x="-5.34" y="2.69" font-size="7.5">10</text><text x="3.00" y="-0.46" font-size="4.20">1</text></g>
<g transform="translate(165.85 204.30) rotate(0) scale(0.78 1)" fill="#222" stroke="#222" stroke-width="0.15"><text x="-5.55" y="2.79" font-size="7.8">10</text><text x="3.12" y="-0.48" font-size="4.37">2</text></g>
<g transform="translate(136.00 173.20) rotate(-90) scale(0.76 1)" fill="#222" stroke="#222" stroke-width="0.15"><text x="-5.34" y="2.69" font-size="7.5">10</text><text x="3.00" y="-0.46" font-size="4.20">2</text></g>
<g transform="translate(178.17 204.30) rotate(0) scale(0.78 1)" fill="#222" stroke="#222" stroke-width="0.15"><text x="-5.55" y="2.79" font-size="7.8">10</text><text x="3.12" y="-0.48" font-size="4.37">3</text></g>
<g transform="translate(136.00 161.30) rotate(-90) scale(0.76 1)" fill="#222" stroke="#222" stroke-width="0.15"><text x="-5.34" y="2.69" font-size="7.5">10</text><text x="3.00" y="-0.46" font-size="4.20">3</text></g>
<g transform="translate(190.50 204.30) rotate(0) scale(0.78 1)" fill="#222" stroke="#222" stroke-width="0.15"><text x="-5.55" y="2.79" font-size="7.8">10</text><text x="3.12" y="-0.48" font-size="4.37">4</text></g>
<g transform="translate(136.00 149.40) rotate(-90) scale(0.76 1)" fill="#222" stroke="#222" stroke-width="0.15"><text x="-5.34" y="2.69" font-size="7.5">10</text><text x="3.00" y="-0.46" font-size="4.20">4</text></g>
<text x="167.25" y="214.64" font-size="7.1" stroke="#222" stroke-width="0.15" text-anchor="middle" fill="#222">Annexin V FITC</text>
<text x="127.00" y="178.31" font-size="7.0" stroke="#222" stroke-width="0.15" text-anchor="middle" transform="rotate(-90 127.00 175.80)" fill="#222">Propidium Iodide</text>
<path d="M162.5 191.8h0.65M160.4 194.5h0.65M161.3 193.3h0.65M165.1 193.2h0.65M156.3 191.4h0.65M163.5 192.6h0.65M158.0 189.1h0.65M162.0 195.6h0.65M157.5 188.7h0.65M162.5 191.8h0.65M160.3 192.2h0.65M158.5 193.6h0.65M163.8 193.5h0.65M159.5 194.8h0.65M160.8 193.9h0.65M158.4 194.0h0.65M163.2 195.2h0.65M161.2 193.6h0.65M159.4 194.5h0.65M163.3 194.8h0.65M160.0 190.5h0.65M160.9 192.4h0.65M159.0 193.9h0.65M163.8 193.5h0.65M164.3 193.5h0.65M158.3 191.7h0.65M160.1 194.1h0.65M163.7 193.1h0.65M164.0 191.3h0.65M160.8 195.6h0.65M162.4 194.8h0.65M155.7 189.7h0.65M158.6 194.7h0.65M165.8 191.6h0.65M158.3 190.9h0.65M158.6 193.8h0.65M160.2 196.3h0.65M163.2 191.5h0.65M161.8 192.5h0.65M163.4 194.5h0.65M160.1 194.5h0.65M162.7 192.6h0.65M161.8 194.1h0.65M160.2 191.5h0.65M164.7 192.8h0.65M159.4 193.7h0.65M156.9 192.9h0.65M157.2 192.0h0.65M156.0 191.5h0.65M163.7 192.5h0.65M157.6 196.1h0.65M159.3 195.6h0.65M159.6 190.1h0.65M166.4 192.0h0.65M163.3 195.0h0.65M157.4 192.9h0.65M159.5 193.9h0.65M161.1 190.5h0.65M161.3 194.2h0.65M160.3 193.9h0.65M159.6 192.7h0.65M162.1 193.1h0.65M164.7 194.6h0.65M163.5 194.2h0.65M161.6 190.6h0.65M164.1 196.1h0.65M161.8 192.3h0.65M161.0 195.1h0.65M161.9 191.0h0.65M160.6 191.4h0.65M160.5 191.1h0.65M158.6 195.6h0.65M164.1 189.8h0.65M158.3 192.0h0.65M160.0 190.2h0.65M163.6 189.8h0.65M163.1 194.1h0.65M160.1 191.6h0.65M161.3 193.1h0.65M155.2 190.5h0.65M162.6 192.6h0.65M159.9 191.0h0.65M159.1 191.4h0.65M169.0 190.5h0.65M165.5 193.7h0.65M161.7 193.2h0.65M160.0 195.8h0.65M162.6 192.8h0.65M160.8 193.2h0.65M157.9 192.2h0.65M159.4 194.0h0.65M162.8 189.4h0.65M160.5 194.7h0.65M157.5 190.6h0.65M164.0 192.6h0.65M159.8 190.6h0.65M161.6 191.8h0.65M161.7 193.6h0.65M163.1 192.2h0.65M159.6 192.9h0.65M160.8 193.1h0.65M159.6 192.4h0.65M159.5 191.7h0.65M161.6 195.0h0.65M159.6 193.9h0.65M162.1 193.0h0.65M163.0 191.8h0.65M162.7 193.4h0.65M151.2 193.5h0.65M162.8 196.4h0.65M158.1 193.0h0.65M162.1 191.0h0.65M164.5 193.7h0.65M158.9 190.6h0.65M159.9 197.2h0.65M167.2 188.2h0.65M156.0 194.1h0.65M160.8 191.6h0.65M162.8 193.0h0.65M161.9 193.3h0.65M158.0 195.3h0.65M159.8 194.9h0.65M163.1 192.9h0.65M161.5 192.7h0.65M155.9 192.2h0.65M162.3 189.8h0.65M156.9 194.8h0.65M163.4 189.9h0.65M162.4 192.7h0.65M163.9 192.2h0.65M160.5 191.4h0.65M161.6 192.6h0.65M159.3 192.2h0.65M159.0 194.0h0.65M158.2 189.9h0.65M158.4 194.8h0.65M159.7 194.0h0.65M163.2 191.9h0.65M163.3 193.8h0.65M161.0 191.5h0.65M160.9 190.4h0.65M160.3 191.7h0.65M162.4 193.5h0.65M159.3 194.4h0.65M164.5 192.9h0.65M159.0 193.8h0.65M154.1 191.7h0.65M162.8 196.6h0.65M159.0 195.7h0.65M167.8 196.3h0.65M154.4 194.9h0.65M161.7 194.7h0.65M160.6 191.7h0.65M160.5 195.6h0.65M163.5 192.3h0.65M162.2 194.4h0.65M162.7 192.7h0.65M159.2 191.4h0.65M159.9 191.8h0.65M156.6 190.1h0.65M163.6 190.7h0.65M157.3 192.7h0.65M165.3 195.2h0.65M159.9 190.9h0.65M159.6 191.1h0.65M159.5 193.7h0.65M158.0 191.3h0.65M160.4 192.8h0.65M158.9 191.3h0.65M157.9 191.4h0.65M162.6 192.3h0.65M152.2 194.0h0.65M160.9 191.2h0.65M160.4 187.1h0.65M156.3 195.0h0.65M167.3 196.9h0.65M159.0 192.9h0.65M163.4 190.5h0.65M166.1 191.4h0.65M162.1 190.6h0.65M162.2 192.8h0.65M164.2 190.6h0.65M161.1 196.2h0.65M157.7 193.5h0.65M162.4 191.9h0.65M160.3 195.5h0.65M164.4 193.9h0.65M161.9 190.7h0.65M161.4 196.2h0.65M164.2 190.2h0.65M155.1 191.5h0.65M161.6 191.8h0.65M160.2 193.5h0.65M163.7 193.2h0.65M164.7 190.1h0.65M162.5 193.6h0.65M156.8 195.2h0.65M156.5 190.1h0.65M168.9 195.3h0.65M162.2 195.4h0.65M164.4 190.7h0.65M162.5 195.5h0.65M160.6 192.9h0.65M159.8 194.2h0.65M159.5 191.7h0.65M157.5 191.0h0.65M161.7 193.7h0.65M160.0 190.8h0.65M162.1 193.5h0.65M164.8 191.9h0.65M159.9 193.8h0.65M165.5 192.7h0.65M160.9 191.0h0.65M160.0 194.6h0.65M163.6 194.9h0.65M156.3 194.4h0.65M158.4 193.9h0.65M154.2 192.6h0.65M158.5 195.2h0.65M161.5 195.3h0.65M159.8 196.6h0.65M159.8 196.4h0.65M159.7 190.9h0.65M163.7 192.0h0.65M160.9 190.2h0.65M160.1 193.0h0.65M159.0 193.6h0.65M154.4 194.5h0.65M159.9 195.6h0.65M160.1 191.5h0.65M159.8 193.3h0.65M162.8 191.9h0.65M158.8 193.6h0.65M163.5 189.5h0.65M158.0 191.5h0.65M166.1 195.2h0.65M163.4 193.8h0.65M157.8 195.0h0.65M159.8 191.3h0.65M166.8 190.0h0.65M165.2 193.2h0.65M158.4 193.1h0.65M158.6 193.2h0.65M159.2 190.5h0.65M168.9 191.8h0.65M164.0 192.7h0.65M163.1 190.4h0.65M158.0 186.5h0.65M164.1 193.7h0.65M157.7 194.4h0.65M175.6 194.2h0.65M177.8 193.7h0.65M174.0 189.9h0.65M178.4 195.2h0.65M167.0 187.5h0.65M173.9 197.0h0.65M172.9 185.7h0.65M179.0 193.7h0.65M185.9 191.8h0.65M186.1 188.9h0.65M179.6 191.7h0.65M166.9 190.3h0.65M182.2 194.8h0.65M171.8 194.8h0.65M179.6 194.1h0.65M175.9 192.2h0.65M169.1 191.0h0.65M174.9 188.8h0.65M172.4 191.8h0.65M175.4 194.6h0.65M167.9 189.9h0.65M175.8 190.0h0.65M176.1 189.7h0.65M181.3 190.5h0.65M167.2 193.6h0.65M184.2 185.0h0.65M173.3 191.4h0.65M180.4 196.1h0.65M173.2 186.2h0.65M178.2 194.5h0.65M177.0 191.5h0.65M166.9 186.3h0.65M180.1 192.1h0.65M178.2 192.4h0.65M184.4 195.8h0.65M170.8 194.5h0.65M167.0 185.7h0.65M181.4 189.8h0.65M161.1 191.2h0.65M170.1 192.9h0.65M173.8 188.7h0.65M169.8 193.7h0.65M168.5 191.6h0.65M168.1 192.7h0.65M185.0 193.1h0.65M180.9 192.7h0.65M168.3 190.2h0.65M174.6 192.6h0.65M170.5 193.2h0.65M169.8 191.4h0.65M174.1 187.5h0.65M180.2 191.4h0.65M174.8 191.1h0.65M161.4 186.7h0.65M168.7 194.4h0.65M170.6 193.2h0.65M167.9 188.5h0.65M171.3 194.6h0.65M164.1 190.7h0.65M176.6 191.7h0.65M174.0 193.7h0.65M175.9 188.0h0.65M178.0 188.7h0.65M172.1 195.9h0.65M188.9 195.9h0.65M176.7 188.7h0.65M169.5 196.6h0.65M176.2 186.7h0.65M183.6 193.1h0.65M182.1 192.5h0.65M161.1 188.8h0.65M173.3 190.7h0.65M183.3 189.1h0.65M173.5 191.0h0.65M173.6 187.9h0.65M166.7 182.9h0.65M176.2 190.6h0.65M175.4 187.8h0.65M174.2 188.1h0.65M168.0 192.3h0.65M178.0 193.1h0.65M173.9 190.0h0.65M182.6 195.2h0.65M170.3 187.7h0.65M176.4 192.2h0.65M161.5 188.5h0.65M175.6 194.4h0.65M162.9 189.8h0.65M182.8 195.8h0.65M172.6 191.3h0.65M168.8 192.5h0.65M167.8 184.7h0.65M164.9 191.4h0.65M166.2 194.8h0.65M181.9 194.4h0.65M178.1 194.9h0.65M175.7 194.0h0.65M177.0 193.7h0.65M168.0 189.1h0.65M168.1 193.9h0.65M177.2 188.7h0.65M168.2 189.4h0.65M179.4 190.9h0.65M172.7 189.0h0.65M173.4 196.4h0.65M170.0 190.1h0.65M184.4 193.5h0.65M167.3 194.7h0.65M166.5 193.0h0.65M158.9 188.0h0.65M179.7 189.3h0.65M169.8 191.4h0.65M174.2 189.7h0.65M170.1 197.0h0.65M183.2 192.3h0.65M167.2 189.5h0.65M172.4 192.8h0.65M183.8 189.5h0.65M175.0 189.8h0.65M175.0 189.0h0.65M176.4 195.0h0.65M171.8 190.2h0.65M174.8 187.0h0.65M185.1 186.9h0.65M172.0 188.4h0.65M183.2 189.7h0.65M171.1 197.3h0.65M173.4 188.7h0.65M174.1 191.8h0.65M169.6 190.6h0.65M172.9 193.6h0.65M178.8 193.9h0.65M173.4 193.8h0.65M172.9 195.0h0.65M176.6 189.9h0.65M181.6 186.3h0.65M168.3 188.7h0.65M173.4 187.3h0.65M166.9 185.1h0.65M174.8 188.7h0.65M187.4 193.7h0.65M167.2 195.5h0.65M174.8 194.7h0.65M167.4 195.0h0.65M180.8 189.9h0.65M169.0 190.0h0.65M185.1 196.1h0.65M172.8 190.2h0.65M176.4 190.3h0.65M171.3 190.6h0.65M179.2 191.0h0.65M175.6 190.4h0.65M173.0 190.2h0.65M181.8 192.0h0.65M183.2 190.7h0.65M180.6 186.8h0.65M171.7 191.0h0.65M170.3 190.9h0.65M168.6 190.7h0.65M170.1 191.2h0.65M172.4 188.0h0.65M171.7 191.3h0.65M166.5 191.5h0.65M181.7 190.5h0.65M177.5 193.2h0.65M169.3 195.5h0.65M187.1 188.9h0.65M182.9 185.4h0.65M181.0 191.7h0.65M166.4 188.6h0.65M167.8 188.3h0.65M176.4 190.6h0.65M159.0 190.2h0.65M177.0 191.5h0.65M184.3 185.3h0.65M175.6 191.3h0.65M178.5 186.9h0.65M166.3 190.7h0.65M174.6 185.4h0.65M176.4 191.2h0.65M178.6 182.8h0.65M177.2 188.4h0.65M171.3 193.7h0.65M184.3 191.7h0.65M173.5 195.4h0.65M168.7 190.7h0.65M171.1 188.1h0.65M175.3 197.8h0.65M175.6 192.8h0.65M174.0 194.9h0.65M175.2 188.4h0.65M174.7 195.9h0.65M173.6 195.1h0.65M173.7 197.7h0.65M175.8 193.3h0.65M172.4 193.9h0.65M172.8 186.5h0.65M176.0 187.3h0.65M183.1 193.8h0.65M174.2 193.4h0.65M158.5 196.2h0.65M170.2 193.4h0.65M171.6 192.3h0.65M176.7 185.8h0.65M168.5 196.0h0.65M170.5 193.0h0.65M165.9 188.3h0.65M163.1 192.1h0.65M181.1 191.5h0.65M172.5 192.0h0.65M177.0 190.3h0.65M177.5 197.5h0.65M187.6 189.4h0.65M166.5 197.4h0.65M180.1 195.1h0.65M177.8 190.5h0.65M180.0 194.8h0.65M181.2 187.7h0.65M180.4 190.1h0.65M172.0 192.4h0.65M177.6 192.1h0.65M173.0 192.0h0.65M172.8 193.1h0.65M145.4 191.3h0.65M151.7 191.7h0.65M155.0 191.3h0.65M157.8 186.8h0.65M146.9 186.8h0.65M148.2 193.6h0.65M157.5 191.0h0.65M146.0 189.3h0.65M152.1 188.9h0.65M155.5 195.7h0.65M150.5 192.0h0.65M156.3 190.7h0.65M146.5 195.4h0.65M158.3 186.2h0.65M155.0 190.0h0.65M144.4 187.6h0.65M146.2 193.4h0.65M146.8 186.2h0.65M146.9 194.0h0.65M151.1 192.5h0.65M150.6 187.8h0.65M143.8 189.0h0.65M144.2 188.6h0.65M152.9 189.7h0.65M150.7 192.2h0.65M148.4 189.6h0.65M156.9 191.8h0.65M149.9 191.4h0.65M150.5 189.3h0.65M157.3 188.3h0.65M157.6 194.5h0.65M156.8 187.6h0.65M151.2 195.8h0.65M147.9 187.7h0.65M154.5 188.4h0.65M152.4 187.6h0.65M157.8 188.8h0.65M145.1 192.9h0.65M148.8 191.6h0.65M151.1 195.2h0.65M151.3 189.8h0.65M143.6 191.0h0.65M147.6 191.7h0.65M153.1 190.6h0.65M144.9 191.0h0.65M157.9 166.5h0.65M163.7 165.5h0.65M160.6 166.5h0.65M162.2 163.8h0.65M163.8 161.0h0.65M161.4 172.9h0.65M158.9 165.9h0.65M155.7 163.4h0.65M158.6 166.2h0.65M160.3 171.9h0.65M159.2 165.9h0.65M162.2 168.1h0.65M164.0 161.0h0.65M167.4 165.0h0.65M159.8 160.8h0.65M160.5 160.3h0.65M162.1 164.1h0.65M162.5 163.5h0.65M161.8 173.2h0.65M164.7 166.5h0.65M159.1 170.7h0.65M157.2 161.5h0.65M153.2 171.4h0.65M148.0 171.7h0.65M148.3 174.8h0.65M152.8 168.1h0.65M148.7 171.9h0.65M152.1 174.9h0.65M151.3 166.3h0.65M152.0 165.6h0.65M180.9 164.4h0.65M177.1 160.1h0.65M162.6 165.9h0.65M170.5 166.6h0.65M170.8 175.7h0.65M177.8 172.5h0.65M175.7 167.9h0.65M169.2 163.5h0.65M172.3 165.2h0.65M172.8 176.4h0.65M177.6 180.0h0.65M169.5 158.8h0.65M168.5 184.0h0.65M178.5 169.4h0.65M181.9 169.5h0.65M183.8 169.6h0.65M172.4 176.2h0.65M168.3 171.0h0.65M185.3 174.6h0.65M168.5 170.5h0.65M174.5 167.5h0.65M176.9 179.5h0.65M174.9 177.3h0.65M176.2 172.8h0.65M170.5 177.8h0.65M182.1 169.3h0.65M169.8 175.1h0.65M175.2 178.8h0.65M177.3 171.2h0.65M167.0 175.7h0.65M175.1 164.4h0.65M166.4 161.0h0.65M178.0 169.4h0.65M156.3 166.7h0.65M171.1 171.3h0.65M174.8 170.0h0.65M178.7 178.2h0.65M173.4 181.5h0.65M173.9 166.8h0.65M175.4 163.4h0.65M172.9 165.6h0.65M172.2 173.2h0.65M161.1 174.3h0.65M176.0 170.7h0.65M178.5 174.1h0.65M172.6 166.0h0.65M178.6 176.5h0.65M166.5 167.6h0.65M168.1 177.0h0.65M171.4 164.5h0.65M182.9 174.7h0.65M175.9 173.5h0.65M173.6 172.2h0.65M179.5 174.6h0.65M172.1 172.6h0.65M184.9 168.6h0.65M167.3 172.7h0.65M168.3 187.8h0.65M178.0 175.5h0.65M176.6 183.8h0.65M169.0 171.7h0.65M165.4 179.4h0.65M174.1 182.6h0.65M173.0 165.7h0.65M170.7 176.8h0.65M170.0 173.5h0.65M170.6 167.7h0.65M171.5 181.7h0.65M168.6 173.9h0.65M179.0 167.5h0.65" stroke="#1a1a1a" stroke-width="0.65" fill="none" opacity="1"/>
<text x="244.00" y="146.73" font-size="6.8" stroke="#222" stroke-width="0.15" text-anchor="middle" fill="#222">Anti-CD3</text>
<rect x="224.50" y="148.70" width="49.30" height="50.00" fill="none" stroke="#111" stroke-width="0.9"/>
<line x1="248.00" y1="148.70" x2="248.00" y2="198.70" stroke="#222" stroke-width="0.8"/>
<line x1="224.50" y1="182.30" x2="273.80" y2="182.30" stroke="#222" stroke-width="0.8"/>
<path d="M224.50 198.70h1.80M224.50 194.94h1.00M224.50 192.74h1.00M224.50 191.17h1.00M224.50 189.96h1.00M224.50 188.97h1.00M224.50 188.14h1.00M224.50 187.41h1.00M224.50 186.77h1.00M224.50 186.20h1.80M224.50 182.44h1.00M224.50 180.24h1.00M224.50 178.67h1.00M224.50 177.46h1.00M224.50 176.47h1.00M224.50 175.64h1.00M224.50 174.91h1.00M224.50 174.27h1.00M224.50 173.70h1.80M224.50 169.94h1.00M224.50 167.74h1.00M224.50 166.17h1.00M224.50 164.96h1.00M224.50 163.97h1.00M224.50 163.14h1.00M224.50 162.41h1.00M224.50 161.77h1.00M224.50 161.20h1.80M224.50 157.44h1.00M224.50 155.24h1.00M224.50 153.67h1.00M224.50 152.46h1.00M224.50 151.47h1.00M224.50 150.64h1.00M224.50 149.91h1.00M224.50 149.27h1.00" fill="none" stroke="#111" stroke-width="0.65"/>
<path d="M224.50 198.70v-1.80M228.21 198.70v-1.00M230.38 198.70v-1.00M231.92 198.70v-1.00M233.11 198.70v-1.00M234.09 198.70v-1.00M234.92 198.70v-1.00M235.63 198.70v-1.00M236.26 198.70v-1.00M236.82 198.70v-1.80M240.54 198.70v-1.00M242.71 198.70v-1.00M244.25 198.70v-1.00M245.44 198.70v-1.00M246.42 198.70v-1.00M247.24 198.70v-1.00M247.96 198.70v-1.00M248.59 198.70v-1.00M249.15 198.70v-1.80M252.86 198.70v-1.00M255.03 198.70v-1.00M256.57 198.70v-1.00M257.76 198.70v-1.00M258.74 198.70v-1.00M259.57 198.70v-1.00M260.28 198.70v-1.00M260.91 198.70v-1.00M261.48 198.70v-1.80M265.19 198.70v-1.00M267.36 198.70v-1.00M268.90 198.70v-1.00M270.09 198.70v-1.00M271.07 198.70v-1.00M271.89 198.70v-1.00M272.61 198.70v-1.00M273.24 198.70v-1.00" fill="none" stroke="#111" stroke-width="0.65"/>
<g transform="translate(225.10 204.30) rotate(0) scale(0.78 1)" fill="#222" stroke="#222" stroke-width="0.15"><text x="-5.55" y="2.79" font-size="7.8">10</text><text x="3.12" y="-0.48" font-size="4.37">0</text></g>
<g transform="translate(219.90 197.00) rotate(-90) scale(0.76 1)" fill="#222" stroke="#222" stroke-width="0.15"><text x="-5.34" y="2.69" font-size="7.5">10</text><text x="3.00" y="-0.46" font-size="4.20">0</text></g>
<g transform="translate(237.42 204.30) rotate(0) scale(0.78 1)" fill="#222" stroke="#222" stroke-width="0.15"><text x="-5.55" y="2.79" font-size="7.8">10</text><text x="3.12" y="-0.48" font-size="4.37">1</text></g>
<g transform="translate(219.90 185.10) rotate(-90) scale(0.76 1)" fill="#222" stroke="#222" stroke-width="0.15"><text x="-5.34" y="2.69" font-size="7.5">10</text><text x="3.00" y="-0.46" font-size="4.20">1</text></g>
<g transform="translate(249.75 204.30) rotate(0) scale(0.78 1)" fill="#222" stroke="#222" stroke-width="0.15"><text x="-5.55" y="2.79" font-size="7.8">10</text><text x="3.12" y="-0.48" font-size="4.37">2</text></g>
<g transform="translate(219.90 173.20) rotate(-90) scale(0.76 1)" fill="#222" stroke="#222" stroke-width="0.15"><text x="-5.34" y="2.69" font-size="7.5">10</text><text x="3.00" y="-0.46" font-size="4.20">2</text></g>
<g transform="translate(262.07 204.30) rotate(0) scale(0.78 1)" fill="#222" stroke="#222" stroke-width="0.15"><text x="-5.55" y="2.79" font-size="7.8">10</text><text x="3.12" y="-0.48" font-size="4.37">3</text></g>
<g transform="translate(219.90 161.30) rotate(-90) scale(0.76 1)" fill="#222" stroke="#222" stroke-width="0.15"><text x="-5.34" y="2.69" font-size="7.5">10</text><text x="3.00" y="-0.46" font-size="4.20">3</text></g>
<g transform="translate(274.40 204.30) rotate(0) scale(0.78 1)" fill="#222" stroke="#222" stroke-width="0.15"><text x="-5.55" y="2.79" font-size="7.8">10</text><text x="3.12" y="-0.48" font-size="4.37">4</text></g>
<g transform="translate(219.90 149.40) rotate(-90) scale(0.76 1)" fill="#222" stroke="#222" stroke-width="0.15"><text x="-5.34" y="2.69" font-size="7.5">10</text><text x="3.00" y="-0.46" font-size="4.20">4</text></g>
<text x="251.15" y="214.64" font-size="7.1" stroke="#222" stroke-width="0.15" text-anchor="middle" fill="#222">Annexin V FITC</text>
<text x="210.90" y="178.31" font-size="7.0" stroke="#222" stroke-width="0.15" text-anchor="middle" transform="rotate(-90 210.90 175.80)" fill="#222">Propidium Iodide</text>
<path d="M228.4 195.7h0.65M247.9 190.8h0.65M230.2 193.9h0.65M237.2 189.2h0.65M235.1 184.7h0.65M232.5 188.0h0.65M229.5 193.1h0.65M239.0 196.2h0.65M232.3 195.2h0.65M243.7 191.8h0.65M238.0 189.3h0.65M234.3 190.2h0.65M241.9 197.3h0.65M244.9 192.9h0.65M242.5 186.7h0.65M231.3 193.9h0.65M235.1 186.9h0.65M237.3 187.8h0.65M237.4 195.9h0.65M230.5 190.2h0.65M240.7 191.4h0.65M238.5 189.1h0.65M235.3 184.7h0.65M236.3 195.1h0.65M230.6 190.9h0.65M241.7 194.9h0.65M244.4 188.9h0.65M234.9 196.4h0.65M234.6 192.3h0.65M232.3 189.6h0.65M231.4 195.3h0.65M242.0 192.6h0.65M234.2 187.5h0.65M240.3 189.1h0.65M236.7 194.1h0.65M236.2 191.4h0.65M231.3 194.4h0.65M240.6 193.4h0.65M247.2 186.8h0.65M237.5 193.3h0.65M239.4 192.3h0.65M240.2 187.1h0.65M236.9 194.7h0.65M237.0 190.9h0.65M242.5 186.5h0.65M239.8 195.7h0.65M235.8 189.1h0.65M240.5 190.1h0.65M232.4 191.9h0.65M227.2 193.3h0.65M230.1 189.9h0.65M241.8 191.3h0.65M238.9 195.3h0.65M246.6 197.4h0.65M234.0 194.0h0.65M227.3 193.7h0.65M245.3 189.4h0.65M240.2 193.8h0.65M236.4 189.6h0.65M246.5 187.7h0.65M238.3 194.1h0.65M238.8 195.9h0.65M246.4 192.8h0.65M248.1 193.6h0.65M229.9 190.5h0.65M239.0 192.0h0.65M227.8 188.2h0.65M240.1 192.0h0.65M246.7 192.1h0.65M239.6 193.5h0.65M232.9 187.8h0.65M234.5 194.3h0.65M235.6 195.0h0.65M234.0 193.6h0.65M237.5 193.8h0.65M237.4 192.0h0.65M234.5 195.0h0.65M237.2 192.9h0.65M241.3 188.9h0.65M232.3 191.3h0.65M245.1 188.4h0.65M231.2 188.6h0.65M235.0 188.4h0.65M232.4 192.9h0.65M230.8 191.4h0.65M230.2 190.9h0.65M240.5 185.8h0.65M237.7 192.1h0.65M237.0 192.2h0.65M239.9 187.8h0.65M258.3 193.4h0.65M265.2 187.3h0.65M256.0 187.3h0.65M258.8 188.2h0.65M254.1 193.8h0.65M269.8 185.2h0.65M266.9 188.7h0.65M262.2 192.5h0.65M264.9 190.8h0.65M254.9 191.3h0.65M262.7 188.7h0.65M260.9 191.4h0.65M259.8 191.5h0.65M261.8 193.9h0.65M257.5 190.4h0.65M248.5 188.8h0.65M251.5 193.5h0.65M253.7 189.3h0.65M261.5 194.5h0.65M264.8 188.9h0.65M260.1 194.7h0.65M254.8 190.8h0.65M253.0 189.5h0.65M262.4 191.7h0.65M257.2 189.8h0.65M266.3 193.7h0.65M256.9 191.0h0.65M256.6 189.7h0.65M262.0 187.1h0.65M259.1 190.5h0.65M267.4 192.6h0.65M261.0 193.1h0.65M261.8 191.8h0.65M247.1 192.7h0.65M257.4 193.6h0.65M260.4 189.8h0.65M254.6 188.4h0.65M260.3 191.1h0.65M254.7 190.4h0.65M260.6 189.5h0.65M258.3 189.6h0.65M246.4 191.7h0.65M259.2 193.9h0.65M265.2 189.3h0.65M261.8 192.3h0.65M259.3 194.0h0.65M263.2 187.6h0.65M266.1 190.9h0.65M255.7 189.4h0.65M257.9 188.1h0.65M264.2 192.8h0.65M254.6 194.0h0.65M260.1 191.7h0.65M263.6 191.2h0.65M257.7 193.0h0.65M250.1 187.8h0.65M261.4 194.7h0.65M250.8 191.5h0.65M255.7 190.6h0.65M261.9 196.0h0.65M267.5 194.3h0.65M262.0 191.9h0.65M249.9 192.7h0.65M253.2 188.1h0.65M259.5 186.7h0.65M267.5 193.3h0.65M260.7 192.9h0.65M260.1 191.7h0.65M262.4 189.4h0.65M260.3 192.0h0.65M262.7 188.2h0.65M260.1 191.1h0.65M262.0 193.1h0.65M259.8 192.9h0.65M261.1 195.6h0.65M260.4 193.1h0.65M254.5 190.9h0.65M262.7 194.6h0.65M254.2 191.4h0.65M257.7 191.6h0.65M256.6 190.2h0.65M258.7 191.9h0.65M263.9 188.9h0.65M254.3 193.8h0.65M261.4 190.9h0.65M253.4 194.6h0.65M253.8 194.9h0.65M260.2 191.0h0.65M258.1 193.9h0.65M259.0 186.2h0.65M255.6 185.0h0.65M260.9 194.3h0.65M263.9 187.4h0.65M269.2 196.9h0.65M258.4 185.5h0.65M254.8 194.6h0.65M268.9 189.9h0.65M250.1 188.6h0.65M268.2 191.5h0.65M252.2 185.2h0.65M262.0 193.9h0.65M256.7 190.9h0.65M259.3 190.4h0.65M256.3 189.7h0.65M256.1 195.2h0.65M260.9 194.5h0.65M267.8 184.6h0.65M258.6 194.4h0.65M257.9 189.7h0.65M260.9 189.9h0.65M254.9 190.5h0.65M259.2 191.5h0.65M263.3 191.5h0.65M257.9 190.7h0.65M258.3 189.4h0.65M251.4 192.1h0.65M266.0 186.0h0.65M255.3 192.8h0.65M255.7 193.1h0.65M258.7 188.2h0.65M257.9 189.9h0.65M261.6 183.8h0.65M260.9 195.5h0.65M259.7 192.2h0.65M256.4 192.5h0.65M258.2 187.6h0.65M253.2 184.5h0.65M261.0 192.0h0.65M264.2 192.2h0.65M262.3 187.4h0.65M250.0 189.8h0.65M257.4 192.6h0.65M258.3 191.0h0.65M259.2 192.2h0.65M259.9 192.4h0.65M256.5 191.2h0.65M251.9 188.1h0.65M257.6 192.8h0.65M255.3 187.2h0.65M263.6 189.0h0.65M250.7 188.6h0.65M253.2 184.2h0.65M257.1 196.5h0.65M255.4 189.0h0.65M264.4 191.7h0.65M258.5 195.6h0.65M253.3 191.3h0.65M261.4 192.1h0.65M253.3 188.7h0.65M267.5 191.2h0.65M257.7 194.7h0.65M250.3 191.3h0.65M250.5 195.7h0.65M254.2 191.8h0.65M254.5 191.9h0.65M260.5 191.5h0.65M257.4 192.2h0.65M257.8 190.0h0.65M262.0 194.0h0.65M252.5 188.5h0.65M255.2 192.4h0.65M252.2 196.1h0.65M259.2 191.9h0.65M263.2 189.2h0.65M260.7 192.7h0.65M265.2 188.3h0.65M265.6 193.3h0.65M260.2 194.7h0.65M257.8 190.9h0.65M263.0 190.4h0.65M264.2 195.6h0.65M260.0 192.0h0.65M255.9 188.7h0.65M265.9 188.4h0.65M259.4 192.4h0.65M254.7 189.5h0.65M255.6 197.8h0.65M260.8 195.7h0.65M268.7 194.5h0.65M265.3 190.2h0.65M255.7 195.9h0.65M266.0 188.5h0.65M264.5 192.4h0.65M262.8 194.4h0.65M268.1 189.6h0.65M259.0 195.3h0.65M257.8 193.2h0.65M258.7 186.4h0.65M256.4 194.2h0.65M256.4 186.9h0.65M256.7 191.8h0.65M261.4 192.5h0.65M261.6 188.4h0.65M256.2 189.2h0.65M257.0 192.9h0.65M265.5 190.9h0.65M264.2 194.9h0.65M253.6 189.1h0.65M259.8 187.4h0.65M268.1 185.9h0.65M253.2 193.9h0.65M255.5 193.7h0.65M254.4 194.7h0.65M256.3 193.7h0.65M263.9 187.1h0.65M254.9 186.3h0.65M253.8 194.3h0.65M259.0 194.1h0.65M265.9 194.7h0.65M262.6 190.3h0.65M257.3 192.5h0.65M263.3 194.8h0.65M260.6 190.7h0.65M258.8 196.6h0.65M260.5 197.6h0.65M255.7 194.2h0.65M260.2 193.9h0.65M255.6 192.6h0.65M258.8 190.8h0.65M253.4 187.4h0.65M257.6 193.2h0.65M260.4 192.3h0.65M260.7 187.6h0.65M264.3 191.8h0.65M255.6 190.0h0.65M263.9 192.2h0.65M251.2 197.9h0.65M252.1 196.7h0.65M263.2 188.6h0.65M265.1 195.4h0.65M264.2 193.6h0.65M260.7 192.3h0.65M256.6 192.4h0.65M265.3 191.3h0.65M268.6 187.0h0.65M259.3 187.2h0.65M250.8 192.4h0.65M257.6 190.0h0.65M254.1 190.9h0.65M251.5 191.0h0.65M256.7 187.9h0.65M261.2 186.1h0.65M261.2 192.4h0.65M261.7 192.0h0.65M263.0 190.8h0.65M254.0 192.8h0.65M255.4 190.5h0.65M259.8 188.9h0.65M263.9 187.0h0.65M265.0 191.5h0.65M267.3 194.9h0.65M262.4 192.5h0.65M259.8 187.5h0.65M256.5 188.8h0.65M255.8 191.2h0.65M255.4 192.0h0.65M258.0 190.2h0.65M261.1 193.0h0.65M252.8 190.7h0.65M261.4 189.0h0.65M263.9 196.2h0.65M262.0 191.2h0.65M259.3 186.0h0.65M262.0 190.7h0.65M261.1 192.7h0.65M260.2 197.9h0.65M263.6 189.7h0.65M262.1 193.5h0.65M259.4 195.8h0.65M257.4 186.4h0.65M254.1 192.8h0.65M254.5 192.1h0.65M252.0 192.8h0.65M258.0 188.9h0.65M256.5 190.8h0.65M263.6 192.3h0.65M258.2 192.1h0.65M263.4 193.0h0.65M267.6 189.5h0.65M263.1 192.0h0.65M256.2 193.4h0.65M263.2 194.5h0.65M261.5 189.0h0.65M260.0 192.8h0.65M267.1 192.0h0.65M259.9 196.3h0.65M259.5 190.3h0.65M260.6 193.9h0.65M259.9 186.6h0.65M257.3 194.6h0.65M255.7 194.2h0.65M260.0 189.3h0.65M263.0 185.2h0.65M249.2 187.0h0.65M261.7 190.8h0.65M262.2 191.4h0.65M259.8 190.1h0.65M238.7 172.6h0.65M244.5 160.0h0.65M243.6 178.3h0.65M244.5 162.1h0.65M244.4 168.4h0.65M239.1 172.5h0.65M246.8 164.4h0.65M241.3 165.1h0.65M240.7 175.9h0.65M238.6 170.3h0.65M242.0 167.7h0.65M235.1 170.6h0.65M235.3 171.2h0.65M240.3 168.0h0.65M238.4 162.6h0.65M235.6 167.3h0.65M240.3 168.8h0.65M239.3 171.4h0.65M241.4 167.9h0.65M239.5 167.1h0.65M243.9 163.4h0.65M234.8 169.3h0.65M242.8 167.4h0.65M241.9 160.2h0.65M235.9 167.2h0.65M240.5 160.5h0.65M243.0 156.9h0.65M246.8 161.5h0.65M237.9 161.6h0.65M234.1 165.5h0.65M231.4 165.4h0.65M241.5 165.6h0.65M240.6 159.4h0.65M231.6 160.0h0.65M245.9 168.9h0.65M231.9 176.4h0.65M243.8 173.1h0.65M245.7 174.3h0.65M232.4 167.6h0.65M236.9 177.7h0.65M244.1 167.2h0.65M239.4 155.8h0.65M241.2 162.7h0.65M247.4 171.2h0.65M240.3 165.1h0.65M246.1 164.3h0.65M246.1 168.3h0.65M239.3 169.2h0.65M249.3 158.5h0.65M244.4 171.2h0.65M239.4 175.1h0.65M244.0 170.2h0.65M235.7 170.3h0.65M234.3 169.9h0.65M251.3 162.3h0.65M248.3 161.3h0.65M241.0 171.1h0.65M233.5 169.0h0.65M236.9 163.8h0.65M244.8 166.8h0.65M260.4 172.3h0.65M260.2 181.4h0.65M258.9 170.5h0.65M258.3 176.5h0.65M260.7 159.5h0.65M257.8 174.8h0.65M272.4 168.7h0.65M256.7 165.4h0.65M257.8 161.8h0.65M253.6 171.7h0.65M250.0 170.6h0.65M254.5 179.7h0.65M266.8 184.7h0.65M258.9 176.2h0.65M271.0 168.4h0.65M267.4 166.8h0.65M263.9 162.9h0.65M256.0 171.0h0.65M256.8 160.7h0.65M258.9 170.5h0.65M266.3 175.7h0.65M246.4 173.0h0.65M264.0 171.6h0.65M254.3 164.1h0.65M256.2 166.6h0.65M256.7 170.3h0.65M265.1 166.3h0.65M260.0 165.7h0.65M259.7 178.3h0.65M255.1 165.1h0.65M258.4 172.3h0.65M254.7 174.7h0.65M258.6 176.2h0.65M250.7 176.7h0.65M265.1 167.3h0.65M269.0 173.6h0.65M251.1 165.8h0.65M254.1 168.3h0.65M256.9 174.0h0.65M257.1 170.3h0.65M252.9 160.0h0.65M254.3 164.9h0.65M263.0 157.8h0.65M264.4 155.2h0.65M257.1 172.3h0.65M252.1 166.4h0.65M262.9 165.7h0.65M257.7 172.4h0.65M261.7 164.7h0.65M265.3 171.3h0.65M263.7 163.8h0.65M264.1 171.6h0.65M262.4 168.4h0.65M262.9 172.4h0.65M247.8 187.1h0.65M254.5 175.0h0.65M257.1 169.5h0.65M256.1 177.7h0.65M263.3 177.7h0.65M249.2 177.0h0.65M249.9 186.0h0.65M260.3 179.0h0.65M258.1 173.0h0.65M254.3 184.1h0.65M256.4 178.7h0.65M253.7 171.3h0.65M256.0 171.5h0.65M255.4 176.0h0.65M261.8 162.6h0.65M255.8 164.3h0.65M264.0 164.7h0.65M260.7 173.1h0.65M257.9 160.5h0.65M267.5 171.3h0.65M261.9 178.5h0.65M252.7 166.2h0.65M267.6 183.8h0.65M253.7 171.7h0.65M263.4 171.3h0.65M265.4 175.8h0.65M257.8 176.2h0.65M255.6 179.8h0.65M254.5 180.0h0.65M272.0 161.7h0.65M267.5 163.3h0.65M257.8 183.2h0.65M264.1 176.2h0.65M260.2 173.3h0.65M260.7 171.0h0.65M256.6 164.8h0.65M267.8 172.1h0.65M268.7 176.7h0.65M260.7 165.6h0.65M256.8 172.5h0.65M257.5 170.4h0.65M245.6 169.8h0.65M256.8 169.3h0.65M256.5 162.8h0.65M253.5 181.1h0.65M253.0 169.1h0.65M253.6 171.2h0.65M255.3 184.2h0.65M252.5 180.4h0.65M255.6 174.9h0.65M272.1 172.1h0.65M258.2 155.0h0.65M256.3 170.9h0.65M258.9 173.6h0.65M252.2 166.6h0.65M262.4 170.6h0.65M258.4 176.2h0.65M258.8 173.2h0.65M252.3 172.2h0.65M248.9 182.9h0.65M254.0 182.4h0.65M255.5 171.4h0.65M265.4 173.5h0.65M259.2 170.6h0.65M256.8 167.8h0.65M254.0 161.5h0.65M257.4 167.6h0.65M266.0 185.0h0.65M268.8 165.1h0.65M256.3 171.5h0.65M249.8 181.7h0.65M262.2 174.1h0.65M268.9 175.2h0.65M256.6 174.0h0.65M255.7 175.2h0.65M251.0 175.4h0.65M256.6 169.7h0.65M256.2 171.6h0.65M248.7 175.9h0.65M257.2 183.1h0.65M258.2 178.0h0.65M258.1 171.5h0.65M251.6 169.5h0.65M255.1 157.8h0.65M256.7 168.0h0.65M260.0 178.5h0.65M256.6 179.5h0.65M265.2 176.9h0.65M256.5 173.0h0.65M267.3 181.6h0.65M264.6 161.9h0.65M245.8 183.1h0.65M262.3 180.5h0.65M261.5 170.5h0.65M260.9 172.1h0.65M266.6 177.4h0.65M253.1 167.8h0.65M263.9 177.7h0.65M259.9 174.4h0.65M251.4 167.2h0.65M261.2 161.3h0.65M261.0 175.9h0.65M262.0 177.5h0.65M268.9 174.1h0.65M253.8 162.1h0.65M245.9 173.0h0.65M263.3 162.3h0.65M259.3 168.1h0.65M256.9 173.7h0.65M258.6 165.2h0.65M262.5 171.6h0.65M248.0 177.0h0.65M267.1 170.0h0.65M267.2 162.8h0.65M257.0 180.2h0.65M265.6 175.5h0.65M264.2 169.9h0.65M262.3 178.2h0.65M263.6 174.7h0.65M263.0 175.0h0.65M261.7 163.0h0.65M261.7 166.7h0.65M256.3 172.7h0.65M259.7 164.4h0.65M255.4 173.8h0.65M256.1 172.6h0.65M259.6 173.7h0.65M255.3 173.5h0.65M261.5 164.7h0.65M262.7 166.3h0.65M260.4 176.1h0.65M261.9 165.3h0.65M253.3 165.3h0.65M261.5 173.2h0.65M248.4 176.8h0.65M264.9 169.2h0.65M257.9 173.8h0.65M252.7 169.8h0.65M261.4 170.3h0.65M258.3 173.0h0.65M267.8 174.0h0.65M260.2 169.5h0.65M265.2 172.8h0.65M258.2 180.3h0.65M265.8 166.8h0.65M256.6 180.1h0.65M255.7 181.8h0.65M257.4 184.1h0.65M253.0 160.6h0.65M250.3 184.3h0.65M254.3 169.7h0.65M255.1 167.9h0.65M259.2 173.1h0.65M254.9 169.1h0.65M265.7 178.1h0.65M263.8 179.8h0.65" stroke="#1a1a1a" stroke-width="0.65" fill="none" opacity="1"/>
<text x="0.80" y="176.35" font-size="6.85" font-weight="700" stroke="#111" stroke-width="0.3" fill="#111">Propidium</text>
<text x="0.80" y="184.45" font-size="6.85" font-weight="700" stroke="#111" stroke-width="0.3" fill="#111">Iodide</text>
<line x1="13.60" y1="203.80" x2="13.60" y2="242.30" stroke="#3a3a3a" stroke-width="1.1"/>
<line x1="13.05" y1="242.30" x2="52.70" y2="242.30" stroke="#3a3a3a" stroke-width="1.1"/>
<path d="M13.60 200.00 l-1.6 4.8 h3.2 z" fill="#111" stroke="none" stroke-width="0.8"/>
<path d="M56.50 242.30 l-4.8 -1.6 v3.2 z" fill="#111" stroke="none" stroke-width="0.8"/>
<text x="71.50" y="244.45" font-size="6.85" font-weight="700" stroke="#111" stroke-width="0.3" fill="#111">Annexin V FITC</text>
<text x="60.00" y="265.81" font-size="7.0" stroke="#222" stroke-width="0.15" fill="#222">Quad % Total</text>
<line x1="60.30" y1="266.80" x2="102.80" y2="266.80" stroke="#222" stroke-width="0.7"/>
<text x="67.10" y="274.71" font-size="7.0" stroke="#222" stroke-width="0.15" fill="#222">UL</text>
<text x="99.20" y="274.71" font-size="7.0" stroke="#222" stroke-width="0.15" text-anchor="end" fill="#222">4.37</text>
<text x="67.10" y="282.41" font-size="7.0" stroke="#222" stroke-width="0.15" fill="#222">UR</text>
<text x="99.20" y="282.41" font-size="7.0" stroke="#222" stroke-width="0.15" text-anchor="end" fill="#222">3.90</text>
<text x="68.10" y="290.11" font-size="7.0" stroke="#222" stroke-width="0.15" fill="#222">LL</text>
<text x="99.20" y="290.11" font-size="7.0" stroke="#222" stroke-width="0.15" text-anchor="end" fill="#222">76.97</text>
<text x="68.10" y="297.81" font-size="7.0" stroke="#222" stroke-width="0.15" fill="#222">LR</text>
<text x="99.20" y="297.81" font-size="7.0" stroke="#222" stroke-width="0.15" text-anchor="end" fill="#222">14.77</text>
<text x="142.80" y="265.81" font-size="7.0" stroke="#222" stroke-width="0.15" fill="#222">Quad % Total</text>
<line x1="143.10" y1="266.80" x2="185.60" y2="266.80" stroke="#222" stroke-width="0.7"/>
<text x="149.90" y="274.71" font-size="7.0" stroke="#222" stroke-width="0.15" fill="#222">UL</text>
<text x="182.00" y="274.71" font-size="7.0" stroke="#222" stroke-width="0.15" text-anchor="end" fill="#222">2.83</text>
<text x="149.90" y="282.41" font-size="7.0" stroke="#222" stroke-width="0.15" fill="#222">UR</text>
<text x="182.00" y="282.41" font-size="7.0" stroke="#222" stroke-width="0.15" text-anchor="end" fill="#222">9.13</text>
<text x="150.90" y="290.11" font-size="7.0" stroke="#222" stroke-width="0.15" fill="#222">LL</text>
<text x="182.00" y="290.11" font-size="7.0" stroke="#222" stroke-width="0.15" text-anchor="end" fill="#222">32.13</text>
<text x="150.90" y="297.81" font-size="7.0" stroke="#222" stroke-width="0.15" fill="#222">LR</text>
<text x="182.00" y="297.81" font-size="7.0" stroke="#222" stroke-width="0.15" text-anchor="end" fill="#222">55.90</text>
<text x="226.80" y="265.81" font-size="7.0" stroke="#222" stroke-width="0.15" fill="#222">Quad % Total</text>
<line x1="227.10" y1="266.80" x2="269.60" y2="266.80" stroke="#222" stroke-width="0.7"/>
<text x="233.90" y="274.71" font-size="7.0" stroke="#222" stroke-width="0.15" fill="#222">UL</text>
<text x="266.00" y="274.71" font-size="7.0" stroke="#222" stroke-width="0.15" text-anchor="end" fill="#222">6.50</text>
<text x="233.90" y="282.41" font-size="7.0" stroke="#222" stroke-width="0.15" fill="#222">UR</text>
<text x="266.00" y="282.41" font-size="7.0" stroke="#222" stroke-width="0.15" text-anchor="end" fill="#222">29.83</text>
<text x="234.90" y="290.11" font-size="7.0" stroke="#222" stroke-width="0.15" fill="#222">LL</text>
<text x="266.00" y="290.11" font-size="7.0" stroke="#222" stroke-width="0.15" text-anchor="end" fill="#222">12.43</text>
<text x="234.90" y="297.81" font-size="7.0" stroke="#222" stroke-width="0.15" fill="#222">LR</text>
<text x="266.00" y="297.81" font-size="7.0" stroke="#222" stroke-width="0.15" text-anchor="end" fill="#222">51.23</text>
<text x="295.90" y="13.04" font-size="16.6" font-weight="700" stroke="#111" stroke-width="0.3" fill="#111">B</text>
<line x1="330.70" y1="20.00" x2="330.70" y2="169.20" stroke="#333" stroke-width="0.9"/>
<line x1="330.70" y1="169.20" x2="519.20" y2="169.20" stroke="#333" stroke-width="0.9"/>
<line x1="330.70" y1="169.20" x2="332.70" y2="169.20" stroke="#333" stroke-width="0.8"/>
<text x="321.50" y="171.66" font-size="8.0" font-weight="700" stroke="#111" stroke-width="0.3" text-anchor="end" fill="#111">0</text>
<line x1="330.70" y1="139.36" x2="332.70" y2="139.36" stroke="#333" stroke-width="0.8"/>
<text x="321.50" y="141.82" font-size="8.0" font-weight="700" stroke="#111" stroke-width="0.3" text-anchor="end" fill="#111">20</text>
<line x1="330.70" y1="109.52" x2="332.70" y2="109.52" stroke="#333" stroke-width="0.8"/>
<text x="321.50" y="111.98" font-size="8.0" font-weight="700" stroke="#111" stroke-width="0.3" text-anchor="end" fill="#111">40</text>
<line x1="330.70" y1="79.68" x2="332.70" y2="79.68" stroke="#333" stroke-width="0.8"/>
<text x="321.50" y="82.14" font-size="8.0" font-weight="700" stroke="#111" stroke-width="0.3" text-anchor="end" fill="#111">60</text>
<line x1="330.70" y1="49.84" x2="332.70" y2="49.84" stroke="#333" stroke-width="0.8"/>
<text x="321.50" y="52.30" font-size="8.0" font-weight="700" stroke="#111" stroke-width="0.3" text-anchor="end" fill="#111">80</text>
<line x1="330.70" y1="20.00" x2="332.70" y2="20.00" stroke="#333" stroke-width="0.8"/>
<text x="321.50" y="22.46" font-size="8.0" font-weight="700" stroke="#111" stroke-width="0.3" text-anchor="end" fill="#111">100</text>
<line x1="368.10" y1="169.20" x2="368.10" y2="167.20" stroke="#333" stroke-width="0.8"/>
<line x1="405.50" y1="169.20" x2="405.50" y2="167.20" stroke="#333" stroke-width="0.8"/>
<line x1="442.90" y1="169.20" x2="442.90" y2="167.20" stroke="#333" stroke-width="0.8"/>
<line x1="480.30" y1="169.20" x2="480.30" y2="167.20" stroke="#333" stroke-width="0.8"/>
<line x1="517.70" y1="169.20" x2="517.70" y2="167.20" stroke="#333" stroke-width="0.8"/>
<text x="300.20" y="97.40" font-size="9.5" font-weight="700" stroke="#111" stroke-width="0.3" text-anchor="middle" transform="rotate(-90 300.20 94.00)" fill="#111">% Annexin V Positive</text>
<rect x="335.60" y="147.27" width="6.83" height="21.93" fill="#fff" stroke="#1c1c1c" stroke-width="0.75"/>
<rect x="342.43" y="145.92" width="6.83" height="23.28" fill="#dcdcdc" stroke="#3c3c3c" stroke-width="0.75"/>
<rect x="349.26" y="138.76" width="6.83" height="30.44" fill="#000" stroke="#1c1c1c" stroke-width="0.75"/>
<rect x="356.09" y="128.47" width="6.83" height="40.73" fill="#9a9a9a" stroke="#3c3c3c" stroke-width="0.75"/>
<line x1="339.02" y1="140.11" x2="339.02" y2="154.43" stroke="#262626" stroke-width="0.85"/>
<line x1="337.32" y1="140.11" x2="340.72" y2="140.11" stroke="#262626" stroke-width="0.85"/>
<line x1="337.32" y1="154.43" x2="340.72" y2="154.43" stroke="#262626" stroke-width="0.85"/>
<line x1="345.85" y1="140.26" x2="345.85" y2="151.00" stroke="#262626" stroke-width="0.85"/>
<line x1="344.15" y1="140.26" x2="347.55" y2="140.26" stroke="#262626" stroke-width="0.85"/>
<line x1="344.15" y1="151.00" x2="347.55" y2="151.00" stroke="#262626" stroke-width="0.85"/>
<line x1="352.68" y1="131.45" x2="352.68" y2="138.76" stroke="#262626" stroke-width="0.9"/>
<line x1="350.98" y1="131.45" x2="354.38" y2="131.45" stroke="#262626" stroke-width="0.9"/>
<line x1="359.51" y1="126.68" x2="359.51" y2="130.41" stroke="#262626" stroke-width="0.85"/>
<line x1="357.81" y1="126.68" x2="361.21" y2="126.68" stroke="#262626" stroke-width="0.85"/>
<line x1="357.81" y1="130.41" x2="361.21" y2="130.41" stroke="#262626" stroke-width="0.85"/>
<text x="348.50" y="185.69" font-size="7.8" font-weight="700" stroke="#111" stroke-width="0.3" text-anchor="middle" fill="#111">Day 2</text>
<rect x="372.60" y="152.79" width="6.95" height="16.41" fill="#fff" stroke="#1c1c1c" stroke-width="0.75"/>
<rect x="379.55" y="153.24" width="6.95" height="15.96" fill="#dcdcdc" stroke="#3c3c3c" stroke-width="0.75"/>
<rect x="386.50" y="131.00" width="6.95" height="38.20" fill="#000" stroke="#1c1c1c" stroke-width="0.75"/>
<rect x="393.45" y="110.12" width="6.95" height="59.08" fill="#9a9a9a" stroke="#3c3c3c" stroke-width="0.75"/>
<line x1="376.08" y1="150.85" x2="376.08" y2="154.73" stroke="#262626" stroke-width="0.85"/>
<line x1="374.38" y1="150.85" x2="377.78" y2="150.85" stroke="#262626" stroke-width="0.85"/>
<line x1="374.38" y1="154.73" x2="377.78" y2="154.73" stroke="#262626" stroke-width="0.85"/>
<line x1="383.03" y1="150.25" x2="383.03" y2="159.20" stroke="#262626" stroke-width="0.85"/>
<line x1="381.33" y1="150.25" x2="384.73" y2="150.25" stroke="#262626" stroke-width="0.85"/>
<line x1="381.33" y1="159.20" x2="384.73" y2="159.20" stroke="#262626" stroke-width="0.85"/>
<line x1="389.98" y1="123.99" x2="389.98" y2="131.00" stroke="#262626" stroke-width="0.9"/>
<line x1="388.28" y1="123.99" x2="391.68" y2="123.99" stroke="#262626" stroke-width="0.9"/>
<line x1="396.93" y1="105.19" x2="396.93" y2="115.04" stroke="#262626" stroke-width="0.85"/>
<line x1="395.23" y1="105.19" x2="398.63" y2="105.19" stroke="#262626" stroke-width="0.85"/>
<line x1="395.23" y1="115.04" x2="398.63" y2="115.04" stroke="#262626" stroke-width="0.85"/>
<text x="387.40" y="185.69" font-size="7.8" font-weight="700" stroke="#111" stroke-width="0.3" text-anchor="middle" fill="#111">Day 3</text>
<text x="399.40" y="181.42" font-size="9" font-weight="700" stroke="#111" stroke-width="0.3" text-anchor="middle" fill="#111">*</text>
<rect x="410.20" y="155.47" width="6.95" height="13.73" fill="#fff" stroke="#1c1c1c" stroke-width="0.75"/>
<rect x="417.15" y="155.47" width="6.95" height="13.73" fill="#dcdcdc" stroke="#3c3c3c" stroke-width="0.75"/>
<rect x="424.10" y="112.50" width="6.95" height="56.70" fill="#000" stroke="#1c1c1c" stroke-width="0.75"/>
<rect x="431.05" y="88.18" width="6.95" height="81.02" fill="#9a9a9a" stroke="#3c3c3c" stroke-width="0.75"/>
<line x1="413.68" y1="152.19" x2="413.68" y2="158.46" stroke="#262626" stroke-width="0.85"/>
<line x1="411.98" y1="152.19" x2="415.38" y2="152.19" stroke="#262626" stroke-width="0.85"/>
<line x1="411.98" y1="158.46" x2="415.38" y2="158.46" stroke="#262626" stroke-width="0.85"/>
<line x1="420.62" y1="145.33" x2="420.62" y2="165.62" stroke="#262626" stroke-width="0.85"/>
<line x1="418.93" y1="145.33" x2="422.32" y2="145.33" stroke="#262626" stroke-width="0.85"/>
<line x1="418.93" y1="165.62" x2="422.32" y2="165.62" stroke="#262626" stroke-width="0.85"/>
<line x1="427.57" y1="106.09" x2="427.57" y2="112.50" stroke="#262626" stroke-width="0.9"/>
<line x1="425.88" y1="106.09" x2="429.27" y2="106.09" stroke="#262626" stroke-width="0.9"/>
<line x1="434.53" y1="61.33" x2="434.53" y2="115.04" stroke="#262626" stroke-width="0.85"/>
<line x1="432.83" y1="61.33" x2="436.23" y2="61.33" stroke="#262626" stroke-width="0.85"/>
<line x1="432.83" y1="115.04" x2="436.23" y2="115.04" stroke="#262626" stroke-width="0.85"/>
<text x="424.70" y="185.69" font-size="7.8" font-weight="700" stroke="#111" stroke-width="0.3" text-anchor="middle" fill="#111">Day 4</text>
<text x="436.80" y="181.42" font-size="9" font-weight="700" stroke="#111" stroke-width="0.3" text-anchor="middle" fill="#111">*</text>
<rect x="448.00" y="154.58" width="7.03" height="14.62" fill="#fff" stroke="#1c1c1c" stroke-width="0.75"/>
<rect x="455.03" y="154.58" width="7.03" height="14.62" fill="#dcdcdc" stroke="#3c3c3c" stroke-width="0.75"/>
<rect x="462.06" y="116.68" width="7.03" height="52.52" fill="#000" stroke="#1c1c1c" stroke-width="0.75"/>
<rect x="469.09" y="70.43" width="7.03" height="98.77" fill="#9a9a9a" stroke="#3c3c3c" stroke-width="0.75"/>
<line x1="451.51" y1="153.09" x2="451.51" y2="156.07" stroke="#262626" stroke-width="0.85"/>
<line x1="449.81" y1="153.09" x2="453.21" y2="153.09" stroke="#262626" stroke-width="0.85"/>
<line x1="449.81" y1="156.07" x2="453.21" y2="156.07" stroke="#262626" stroke-width="0.85"/>
<line x1="458.54" y1="154.13" x2="458.54" y2="155.03" stroke="#262626" stroke-width="0.85"/>
<line x1="456.84" y1="154.13" x2="460.24" y2="154.13" stroke="#262626" stroke-width="0.85"/>
<line x1="456.84" y1="155.03" x2="460.24" y2="155.03" stroke="#262626" stroke-width="0.85"/>
<line x1="465.57" y1="116.08" x2="465.57" y2="117.28" stroke="#262626" stroke-width="0.85"/>
<line x1="463.88" y1="116.08" x2="467.27" y2="116.08" stroke="#262626" stroke-width="0.85"/>
<line x1="463.88" y1="117.28" x2="467.27" y2="117.28" stroke="#262626" stroke-width="0.85"/>
<line x1="472.60" y1="61.78" x2="472.60" y2="79.08" stroke="#262626" stroke-width="0.85"/>
<line x1="470.90" y1="61.78" x2="474.30" y2="61.78" stroke="#262626" stroke-width="0.85"/>
<line x1="470.90" y1="79.08" x2="474.30" y2="79.08" stroke="#262626" stroke-width="0.85"/>
<text x="461.50" y="185.69" font-size="7.8" font-weight="700" stroke="#111" stroke-width="0.3" text-anchor="middle" fill="#111">Day 5</text>
<text x="474.20" y="181.42" font-size="9" font-weight="700" stroke="#111" stroke-width="0.3" text-anchor="middle" fill="#111">*</text>
<rect x="485.40" y="149.80" width="7.08" height="19.40" fill="#fff" stroke="#1c1c1c" stroke-width="0.75"/>
<rect x="492.48" y="149.80" width="7.08" height="19.40" fill="#dcdcdc" stroke="#3c3c3c" stroke-width="0.75"/>
<rect x="499.56" y="94.30" width="7.08" height="74.90" fill="#000" stroke="#1c1c1c" stroke-width="0.75"/>
<rect x="506.64" y="61.48" width="7.08" height="107.72" fill="#9a9a9a" stroke="#3c3c3c" stroke-width="0.75"/>
<line x1="488.94" y1="137.42" x2="488.94" y2="162.19" stroke="#262626" stroke-width="0.85"/>
<line x1="487.24" y1="137.42" x2="490.64" y2="137.42" stroke="#262626" stroke-width="0.85"/>
<line x1="487.24" y1="162.19" x2="490.64" y2="162.19" stroke="#262626" stroke-width="0.85"/>
<line x1="496.02" y1="133.69" x2="496.02" y2="164.43" stroke="#262626" stroke-width="0.85"/>
<line x1="494.32" y1="133.69" x2="497.72" y2="133.69" stroke="#262626" stroke-width="0.85"/>
<line x1="494.32" y1="164.43" x2="497.72" y2="164.43" stroke="#262626" stroke-width="0.85"/>
<line x1="503.10" y1="70.43" x2="503.10" y2="94.30" stroke="#262626" stroke-width="0.9"/>
<line x1="501.40" y1="70.43" x2="504.80" y2="70.43" stroke="#262626" stroke-width="0.9"/>
<line x1="510.18" y1="52.53" x2="510.18" y2="70.43" stroke="#262626" stroke-width="0.85"/>
<line x1="508.48" y1="52.53" x2="511.88" y2="52.53" stroke="#262626" stroke-width="0.85"/>
<line x1="508.48" y1="70.43" x2="511.88" y2="70.43" stroke="#262626" stroke-width="0.85"/>
<text x="498.80" y="185.69" font-size="7.8" font-weight="700" stroke="#111" stroke-width="0.3" text-anchor="middle" fill="#111">Day 6</text>
<text x="511.60" y="181.42" font-size="9" font-weight="700" stroke="#111" stroke-width="0.3" text-anchor="middle" fill="#111">*</text>
<path d="M425.00 95.60L426.70 92.50L428.40 95.60" fill="none" stroke="#111" stroke-width="1.25" stroke-linejoin="miter"/>
<path d="M462.90 95.60L464.60 92.50L466.30 95.60" fill="none" stroke="#111" stroke-width="1.25" stroke-linejoin="miter"/>
<path d="M500.80 57.90L502.50 54.80L504.20 57.90" fill="none" stroke="#111" stroke-width="1.25" stroke-linejoin="miter"/>
<text x="424.10" y="202.97" font-size="9.4" font-weight="700" stroke="#111" stroke-width="0.3" text-anchor="middle" fill="#111">Days from activation</text>
<rect x="342.20" y="26.80" width="4.80" height="4.80" fill="#fff" stroke="#222" stroke-width="0.7"/>
<text x="349.10" y="31.74" font-size="7.1" font-weight="700" stroke="#111" stroke-width="0.3" fill="#111" letter-spacing="-0.05">R anti-H</text>
<rect x="342.20" y="40.20" width="4.80" height="4.80" fill="#000" stroke="#222" stroke-width="0.7"/>
<text x="349.10" y="45.14" font-size="7.1" font-weight="700" stroke="#111" stroke-width="0.3" fill="#111" letter-spacing="-0.05">TAB4 + R anti-H</text>
<rect x="410.50" y="26.60" width="4.80" height="4.80" fill="#dcdcdc" stroke="#222" stroke-width="0.7"/>
<text x="416.80" y="31.51" font-size="7.0" font-weight="700" stroke="#111" stroke-width="0.3" fill="#111" letter-spacing="-0.05">HIg + R anti-H</text>
<rect x="410.50" y="40.10" width="4.80" height="4.80" fill="#9a9a9a" stroke="#222" stroke-width="0.7"/>
<text x="416.80" y="45.01" font-size="7.0" font-weight="700" stroke="#111" stroke-width="0.3" fill="#111" letter-spacing="-0.05">anti CD3 + R anti-H</text>
<text x="296.40" y="235.49" font-size="17.0" font-weight="700" stroke="#111" stroke-width="0.3" fill="#111">C</text>
<line x1="335.80" y1="242.70" x2="335.80" y2="375.00" stroke="#333" stroke-width="0.9"/>
<line x1="335.80" y1="375.00" x2="518.20" y2="375.00" stroke="#333" stroke-width="0.9"/>
<line x1="335.80" y1="375.00" x2="337.80" y2="375.00" stroke="#333" stroke-width="0.8"/>
<text x="329.50" y="377.84" font-size="8.2" font-weight="700" stroke="#111" stroke-width="0.3" text-anchor="end" fill="#111" letter-spacing="0.3">0</text>
<line x1="335.80" y1="356.10" x2="337.80" y2="356.10" stroke="#333" stroke-width="0.8"/>
<text x="329.50" y="358.94" font-size="8.2" font-weight="700" stroke="#111" stroke-width="0.3" text-anchor="end" fill="#111" letter-spacing="0.3">10</text>
<line x1="335.80" y1="337.20" x2="337.80" y2="337.20" stroke="#333" stroke-width="0.8"/>
<text x="329.50" y="340.04" font-size="8.2" font-weight="700" stroke="#111" stroke-width="0.3" text-anchor="end" fill="#111" letter-spacing="0.3">20</text>
<line x1="335.80" y1="318.30" x2="337.80" y2="318.30" stroke="#333" stroke-width="0.8"/>
<text x="329.50" y="321.14" font-size="8.2" font-weight="700" stroke="#111" stroke-width="0.3" text-anchor="end" fill="#111" letter-spacing="0.3">30</text>
<line x1="335.80" y1="299.40" x2="337.80" y2="299.40" stroke="#333" stroke-width="0.8"/>
<text x="329.50" y="302.24" font-size="8.2" font-weight="700" stroke="#111" stroke-width="0.3" text-anchor="end" fill="#111" letter-spacing="0.3">40</text>
<line x1="335.80" y1="280.50" x2="337.80" y2="280.50" stroke="#333" stroke-width="0.8"/>
<text x="329.50" y="283.34" font-size="8.2" font-weight="700" stroke="#111" stroke-width="0.3" text-anchor="end" fill="#111" letter-spacing="0.3">50</text>
<line x1="335.80" y1="261.60" x2="337.80" y2="261.60" stroke="#333" stroke-width="0.8"/>
<text x="329.50" y="264.44" font-size="8.2" font-weight="700" stroke="#111" stroke-width="0.3" text-anchor="end" fill="#111" letter-spacing="0.3">60</text>
<line x1="335.80" y1="242.70" x2="337.80" y2="242.70" stroke="#333" stroke-width="0.8"/>
<text x="329.50" y="245.54" font-size="8.2" font-weight="700" stroke="#111" stroke-width="0.3" text-anchor="end" fill="#111" letter-spacing="0.3">70</text>
<line x1="396.60" y1="375.00" x2="396.60" y2="373.00" stroke="#333" stroke-width="0.8"/>
<line x1="457.40" y1="375.00" x2="457.40" y2="373.00" stroke="#333" stroke-width="0.8"/>
<line x1="518.20" y1="375.00" x2="518.20" y2="373.00" stroke="#333" stroke-width="0.8"/>
<text x="301.00" y="312.33" font-size="9.3" font-weight="700" stroke="#111" stroke-width="0.3" text-anchor="middle" transform="rotate(-90 301.00 309.00)" fill="#111">% Annexin V Positive</text>
<defs><pattern id="dt" width="2.8" height="2.8" patternUnits="userSpaceOnUse"><rect width="2.8" height="2.8" fill="#fff"/><rect x="0.3" y="0.3" width="0.9" height="0.9" fill="#666"/><rect x="1.7" y="1.7" width="0.9" height="0.9" fill="#666"/></pattern></defs>
<rect x="343.25" y="343.25" width="9.30" height="31.75" fill="#fff" stroke="#1c1c1c" stroke-width="0.75"/>
<rect x="352.55" y="342.49" width="9.30" height="32.51" fill="url(#dt)" stroke="#3c3c3c" stroke-width="0.75"/>
<rect x="361.85" y="340.60" width="9.30" height="34.40" fill="#d2d2d2" stroke="#3c3c3c" stroke-width="0.75"/>
<rect x="371.15" y="330.96" width="9.30" height="44.04" fill="#000" stroke="#1c1c1c" stroke-width="0.75"/>
<rect x="380.45" y="302.80" width="9.30" height="72.20" fill="#d2d2d2" stroke="#3c3c3c" stroke-width="0.75"/>
<line x1="347.90" y1="331.53" x2="347.90" y2="355.34" stroke="#262626" stroke-width="0.85"/>
<line x1="346.20" y1="331.53" x2="349.60" y2="331.53" stroke="#262626" stroke-width="0.85"/>
<line x1="346.20" y1="355.34" x2="349.60" y2="355.34" stroke="#262626" stroke-width="0.85"/>
<line x1="357.20" y1="330.96" x2="357.20" y2="354.21" stroke="#262626" stroke-width="0.85"/>
<line x1="355.50" y1="330.96" x2="358.90" y2="330.96" stroke="#262626" stroke-width="0.85"/>
<line x1="355.50" y1="354.21" x2="358.90" y2="354.21" stroke="#262626" stroke-width="0.85"/>
<line x1="366.50" y1="328.13" x2="366.50" y2="353.08" stroke="#262626" stroke-width="0.85"/>
<line x1="364.80" y1="328.13" x2="368.20" y2="328.13" stroke="#262626" stroke-width="0.85"/>
<line x1="364.80" y1="353.08" x2="368.20" y2="353.08" stroke="#262626" stroke-width="0.85"/>
<line x1="375.80" y1="328.13" x2="375.80" y2="330.96" stroke="#262626" stroke-width="0.85"/>
<line x1="374.10" y1="328.13" x2="377.50" y2="328.13" stroke="#262626" stroke-width="0.85"/>
<line x1="385.10" y1="290.33" x2="385.10" y2="316.03" stroke="#262626" stroke-width="0.85"/>
<line x1="383.40" y1="290.33" x2="386.80" y2="290.33" stroke="#262626" stroke-width="0.85"/>
<line x1="383.40" y1="316.03" x2="386.80" y2="316.03" stroke="#262626" stroke-width="0.85"/>
<text x="366.70" y="392.86" font-size="9.1" font-weight="700" stroke="#111" stroke-width="0.3" text-anchor="middle" fill="#111">Day 2</text>
<rect x="404.05" y="360.26" width="9.30" height="14.74" fill="#fff" stroke="#1c1c1c" stroke-width="0.75"/>
<rect x="413.35" y="358.18" width="9.30" height="16.82" fill="url(#dt)" stroke="#3c3c3c" stroke-width="0.75"/>
<rect x="422.65" y="353.83" width="9.30" height="21.17" fill="#d2d2d2" stroke="#3c3c3c" stroke-width="0.75"/>
<rect x="431.95" y="313.95" width="9.30" height="61.05" fill="#000" stroke="#1c1c1c" stroke-width="0.75"/>
<rect x="441.25" y="304.12" width="9.30" height="70.88" fill="#d2d2d2" stroke="#3c3c3c" stroke-width="0.75"/>
<line x1="408.70" y1="353.08" x2="408.70" y2="367.06" stroke="#262626" stroke-width="0.85"/>
<line x1="407.00" y1="353.08" x2="410.40" y2="353.08" stroke="#262626" stroke-width="0.85"/>
<line x1="407.00" y1="367.06" x2="410.40" y2="367.06" stroke="#262626" stroke-width="0.85"/>
<line x1="418.00" y1="351.56" x2="418.00" y2="365.36" stroke="#262626" stroke-width="0.85"/>
<line x1="416.30" y1="351.56" x2="419.70" y2="351.56" stroke="#262626" stroke-width="0.85"/>
<line x1="416.30" y1="365.36" x2="419.70" y2="365.36" stroke="#262626" stroke-width="0.85"/>
<line x1="427.30" y1="349.49" x2="427.30" y2="357.61" stroke="#262626" stroke-width="0.85"/>
<line x1="425.60" y1="349.49" x2="429.00" y2="349.49" stroke="#262626" stroke-width="0.85"/>
<line x1="425.60" y1="357.61" x2="429.00" y2="357.61" stroke="#262626" stroke-width="0.85"/>
<line x1="436.60" y1="304.50" x2="436.60" y2="313.95" stroke="#262626" stroke-width="0.85"/>
<line x1="434.90" y1="304.50" x2="438.30" y2="304.50" stroke="#262626" stroke-width="0.85"/>
<line x1="445.90" y1="291.27" x2="445.90" y2="316.41" stroke="#262626" stroke-width="0.85"/>
<line x1="444.20" y1="291.27" x2="447.60" y2="291.27" stroke="#262626" stroke-width="0.85"/>
<line x1="444.20" y1="316.41" x2="447.60" y2="316.41" stroke="#262626" stroke-width="0.85"/>
<text x="427.50" y="392.86" font-size="9.1" font-weight="700" stroke="#111" stroke-width="0.3" text-anchor="middle" fill="#111">Day 4</text>
<text x="443.80" y="385.92" font-size="9" font-weight="700" stroke="#111" stroke-width="0.3" text-anchor="middle" fill="#111">*</text>
<rect x="464.85" y="351.00" width="9.42" height="24.00" fill="#fff" stroke="#1c1c1c" stroke-width="0.75"/>
<rect x="474.27" y="349.86" width="9.42" height="25.14" fill="url(#dt)" stroke="#3c3c3c" stroke-width="0.75"/>
<rect x="483.69" y="351.94" width="9.42" height="23.06" fill="#d2d2d2" stroke="#3c3c3c" stroke-width="0.75"/>
<rect x="493.11" y="272.18" width="9.42" height="102.82" fill="#000" stroke="#1c1c1c" stroke-width="0.75"/>
<rect x="502.53" y="271.43" width="9.42" height="103.57" fill="#d2d2d2" stroke="#3c3c3c" stroke-width="0.75"/>
<line x1="469.56" y1="350.24" x2="469.56" y2="351.75" stroke="#262626" stroke-width="0.85"/>
<line x1="467.86" y1="350.24" x2="471.26" y2="350.24" stroke="#262626" stroke-width="0.85"/>
<line x1="467.86" y1="351.75" x2="471.26" y2="351.75" stroke="#262626" stroke-width="0.85"/>
<line x1="478.98" y1="344.38" x2="478.98" y2="355.34" stroke="#262626" stroke-width="0.85"/>
<line x1="477.28" y1="344.38" x2="480.68" y2="344.38" stroke="#262626" stroke-width="0.85"/>
<line x1="477.28" y1="355.34" x2="480.68" y2="355.34" stroke="#262626" stroke-width="0.85"/>
<line x1="488.40" y1="347.97" x2="488.40" y2="355.34" stroke="#262626" stroke-width="0.85"/>
<line x1="486.70" y1="347.97" x2="490.10" y2="347.97" stroke="#262626" stroke-width="0.85"/>
<line x1="486.70" y1="355.34" x2="490.10" y2="355.34" stroke="#262626" stroke-width="0.85"/>
<line x1="497.82" y1="256.31" x2="497.82" y2="272.18" stroke="#262626" stroke-width="0.85"/>
<line x1="496.12" y1="256.31" x2="499.52" y2="256.31" stroke="#262626" stroke-width="0.85"/>
<line x1="507.24" y1="267.46" x2="507.24" y2="275.77" stroke="#262626" stroke-width="0.85"/>
<line x1="505.54" y1="267.46" x2="508.94" y2="267.46" stroke="#262626" stroke-width="0.85"/>
<line x1="505.54" y1="275.77" x2="508.94" y2="275.77" stroke="#262626" stroke-width="0.85"/>
<text x="488.30" y="392.86" font-size="9.1" font-weight="700" stroke="#111" stroke-width="0.3" text-anchor="middle" fill="#111">Day 6</text>
<text x="504.60" y="385.92" font-size="9" font-weight="700" stroke="#111" stroke-width="0.3" text-anchor="middle" fill="#111">*</text>
<path d="M495.4 243.0L497.9 238.4L500.4 243.0" fill="none" stroke="#111" stroke-width="0.95"/>
<text x="424.30" y="410.17" font-size="9.4" font-weight="700" stroke="#111" stroke-width="0.3" text-anchor="middle" fill="#111">Days from activation</text>
<rect x="351.70" y="246.60" width="4.40" height="4.40" fill="#fff" stroke="#444" stroke-width="0.8"/>
<text x="358.00" y="251.06" font-size="6.3" font-weight="700" stroke="#111" stroke-width="0.3" fill="#111" letter-spacing="0.1">AT</text>
<rect x="374.50" y="246.60" width="4.40" height="4.40" fill="url(#dt)" stroke="#444" stroke-width="0.8"/>
<text x="381.00" y="251.06" font-size="6.3" font-weight="700" stroke="#111" stroke-width="0.3" fill="#111" letter-spacing="0.1">R anti-H</text>
<rect x="413.30" y="246.60" width="4.40" height="4.40" fill="#d2d2d2" stroke="#444" stroke-width="0.8"/>
<text x="419.80" y="251.06" font-size="6.3" font-weight="700" stroke="#111" stroke-width="0.3" fill="#111" letter-spacing="0.1">HIg + R anti-H</text>
<rect x="351.70" y="258.30" width="4.40" height="4.40" fill="#000" stroke="#000" stroke-width="0.8"/>
<text x="358.00" y="262.76" font-size="6.3" font-weight="700" stroke="#111" stroke-width="0.3" fill="#111" letter-spacing="0.1">TAB4 + R anti-H</text>
<rect x="413.30" y="258.30" width="4.40" height="4.40" fill="#d2d2d2" stroke="#444" stroke-width="0.8"/>
<text x="419.80" y="262.76" font-size="6.3" font-weight="700" stroke="#111" stroke-width="0.3" fill="#111" letter-spacing="0.1">Anti-CD3 + R anti-H</text>
<text x="28.60" y="445.13" font-size="16" font-weight="700" stroke="#111" stroke-width="0.3" fill="#111">D</text>
<text x="89.00" y="457.53" font-size="14.9" font-weight="700" stroke="#111" stroke-width="0.3" fill="#111">PSGL-1 expression</text>
<text x="29.30" y="545.17" font-size="11.1" font-weight="700" stroke="#111" stroke-width="0.3" fill="#111">Counts</text>
<text x="110.00" y="613.24" font-size="11.0" font-weight="700" stroke="#111" stroke-width="0.3" fill="#111">PSGL-1 FITC</text>
<line x1="48.30" y1="564.20" x2="48.30" y2="608.40" stroke="#222" stroke-width="1.4"/>
<line x1="47.60" y1="608.40" x2="92.20" y2="608.40" stroke="#222" stroke-width="1.4"/>
<path d="M48.30 556.60 l-2.7 8.6 h5.4 z" fill="#111" stroke="none" stroke-width="0.8"/>
<path d="M99.80 608.40 l-8.6 -2.7 v5.4 z" fill="#111" stroke="none" stroke-width="0.8"/>
<text x="132.00" y="485.54" font-size="11.0" font-weight="700" stroke="#111" stroke-width="0.3" text-anchor="middle" fill="#111">Day 0</text>
<rect x="101.40" y="493.20" width="56.80" height="57.20" fill="none" stroke="#111" stroke-width="0.9"/>
<path d="M101.40 550.40v1.80M105.67 550.40v1.00M108.18 550.40v1.00M109.95 550.40v1.00M111.33 550.40v1.00M112.45 550.40v1.00M113.40 550.40v1.00M114.22 550.40v1.00M114.95 550.40v1.00M115.60 550.40v1.80M119.87 550.40v1.00M122.38 550.40v1.00M124.15 550.40v1.00M125.53 550.40v1.00M126.65 550.40v1.00M127.60 550.40v1.00M128.42 550.40v1.00M129.15 550.40v1.00M129.80 550.40v1.80M134.07 550.40v1.00M136.58 550.40v1.00M138.35 550.40v1.00M139.73 550.40v1.00M140.85 550.40v1.00M141.80 550.40v1.00M142.62 550.40v1.00M143.35 550.40v1.00M144.00 550.40v1.80M148.27 550.40v1.00M150.78 550.40v1.00M152.55 550.40v1.00M153.93 550.40v1.00M155.05 550.40v1.00M156.00 550.40v1.00M156.82 550.40v1.00M157.55 550.40v1.00" fill="none" stroke="#111" stroke-width="0.65"/>
<text x="95.40" y="552.26" font-size="6.6" stroke="#222" stroke-width="0.15" text-anchor="middle" transform="rotate(-90 95.40 549.90)" fill="#222">0</text>
<text x="95.40" y="541.32" font-size="6.6" stroke="#222" stroke-width="0.15" text-anchor="middle" transform="rotate(-90 95.40 538.96)" fill="#222">10</text>
<text x="95.40" y="529.88" font-size="6.6" stroke="#222" stroke-width="0.15" text-anchor="middle" transform="rotate(-90 95.40 527.52)" fill="#222">20</text>
<text x="95.40" y="518.44" font-size="6.6" stroke="#222" stroke-width="0.15" text-anchor="middle" transform="rotate(-90 95.40 516.08)" fill="#222">30</text>
<text x="95.40" y="507.00" font-size="6.6" stroke="#222" stroke-width="0.15" text-anchor="middle" transform="rotate(-90 95.40 504.64)" fill="#222">40</text>
<text x="95.40" y="497.16" font-size="6.6" stroke="#222" stroke-width="0.15" text-anchor="middle" transform="rotate(-90 95.40 494.80)" fill="#222">50</text>
<path d="M101.40 550.40h-1.8M101.40 538.96h-1.8M101.40 527.52h-1.8M101.40 516.08h-1.8M101.40 504.64h-1.8M101.40 493.20h-1.8" fill="none" stroke="#111" stroke-width="0.5"/>
<g transform="translate(102.80 557.40) rotate(0) scale(0.82 1)" fill="#222" stroke="#222" stroke-width="0.15"><text x="-4.98" y="2.51" font-size="7.0">10</text><text x="2.80" y="-0.43" font-size="3.92">0</text></g>
<g transform="translate(115.00 557.40) rotate(0) scale(0.82 1)" fill="#222" stroke="#222" stroke-width="0.15"><text x="-4.98" y="2.51" font-size="7.0">10</text><text x="2.80" y="-0.43" font-size="3.92">1</text></g>
<g transform="translate(129.20 557.40) rotate(0) scale(0.82 1)" fill="#222" stroke="#222" stroke-width="0.15"><text x="-4.98" y="2.51" font-size="7.0">10</text><text x="2.80" y="-0.43" font-size="3.92">2</text></g>
<g transform="translate(143.40 557.40) rotate(0) scale(0.82 1)" fill="#222" stroke="#222" stroke-width="0.15"><text x="-4.98" y="2.51" font-size="7.0">10</text><text x="2.80" y="-0.43" font-size="3.92">3</text></g>
<g transform="translate(157.60 557.40) rotate(0) scale(0.82 1)" fill="#222" stroke="#222" stroke-width="0.15"><text x="-4.98" y="2.51" font-size="7.0">10</text><text x="2.80" y="-0.43" font-size="3.92">4</text></g>
<text x="130.30" y="565.57" font-size="6.9" stroke="#222" stroke-width="0.15" text-anchor="middle" fill="#222">PSGL-1 FITC</text>
<text x="87.70" y="525.98" font-size="7.2" stroke="#222" stroke-width="0.15" text-anchor="middle" transform="rotate(-90 87.70 523.40)" fill="#222">Counts</text>
<path d="M101.9 549.1L102.4 549.0L102.9 548.7L103.4 548.1L103.8 547.1L104.3 545.2L104.8 542.8L105.3 539.3L105.8 534.1L106.3 527.6L106.8 522.0L107.2 512.0L107.7 508.0L108.2 498.7L108.7 495.5L109.2 493.7L109.7 493.9L110.1 494.7L110.6 497.5L111.1 503.8L111.6 505.3L112.1 513.2L112.6 516.2L113.1 519.4L113.5 524.4L114.0 529.0L114.5 532.0L115.0 536.4L115.5 538.3L116.0 541.2L116.5 542.9L116.9 544.8L117.4 546.2L117.9 547.0L118.4 547.7L118.9 548.2L119.4 548.6L119.9 548.9L120.3 549.0L120.8 549.1L121.3 549.1L121.8 549.1L122.3 549.1L122.8 549.1L123.2 549.1L123.7 549.1L124.2 549.1L124.7 549.1L125.2 549.1L125.7 549.1L126.2 549.1L126.6 549.1L127.1 549.1L127.6 549.1L128.1 549.1L128.6 549.1L129.1 549.1L129.6 549.1L130.0 549.1L130.5 549.1L131.0 549.1L131.5 549.1L132.0 549.1L132.5 549.1L133.0 549.1L133.4 549.1L133.9 549.1L134.4 549.1L134.9 549.1L135.4 549.1L135.9 549.1L136.4 549.1L136.8 549.1L137.3 549.1L137.8 549.1L138.3 549.1L138.8 549.1L139.3 549.1L139.7 549.1L140.2 549.1L140.7 549.1L141.2 549.1L141.7 549.1L142.2 549.1L142.7 549.1L143.1 549.1L143.6 549.1L144.1 549.1L144.6 549.1L145.1 549.1L145.6 549.1L146.1 549.1L146.5 549.1L147.0 549.1L147.5 549.1L148.0 549.1L148.5 549.1L149.0 549.1L149.5 549.1L149.9 549.1L150.4 549.1L150.9 549.1L151.4 549.1L151.9 549.1L152.4 549.1L152.8 549.1L153.3 549.1L153.8 549.1L154.3 549.1L154.8 549.1L155.3 549.1L155.8 549.1L156.2 549.1L156.7 549.1L157.2 549.1L157.7 549.1" fill="none" stroke="#222" stroke-width="0.9" stroke-linejoin="round"/>
<path d="M101.9 549.1L102.4 549.1L102.9 549.0L103.4 549.0L103.8 549.0L104.3 548.8L104.8 548.7L105.3 548.6L105.8 548.6L106.3 548.6L106.8 548.5L107.2 548.3L107.7 548.1L108.2 548.0L108.7 548.0L109.2 547.7L109.7 547.6L110.1 547.5L110.6 547.3L111.1 547.4L111.6 546.9L112.1 547.4L112.6 546.8L113.1 546.5L113.5 546.5L114.0 546.6L114.5 546.2L115.0 546.4L115.5 546.1L116.0 546.2L116.5 545.9L116.9 545.9L117.4 545.7L117.9 546.1L118.4 545.9L118.9 546.3L119.4 545.8L119.9 545.5L120.3 544.9L120.8 544.6L121.3 543.1L121.8 541.7L122.3 537.8L122.8 534.7L123.2 530.8L123.7 525.9L124.2 519.6L124.7 512.6L125.2 510.5L125.7 504.2L126.2 498.9L126.6 501.3L127.1 497.0L127.6 494.5L128.1 498.8L128.6 499.1L129.1 504.7L129.6 508.7L130.0 512.2L130.5 516.8L131.0 523.2L131.5 524.9L132.0 529.2L132.5 532.9L133.0 533.7L133.4 538.0L133.9 540.1L134.4 542.3L134.9 544.3L135.4 545.4L135.9 546.3L136.4 547.2L136.8 547.7L137.3 548.3L137.8 548.6L138.3 548.8L138.8 548.9L139.3 549.1L139.7 549.1L140.2 549.1L140.7 549.1L141.2 549.1L141.7 549.1L142.2 549.1L142.7 549.1L143.1 549.1L143.6 549.1L144.1 549.1L144.6 549.1L145.1 549.1L145.6 549.1L146.1 549.1L146.5 549.1L147.0 549.1L147.5 549.1L148.0 549.1L148.5 549.1L149.0 549.1L149.5 549.1L149.9 549.1L150.4 549.1L150.9 549.1L151.4 549.1L151.9 549.1L152.4 549.1L152.8 549.1L153.3 549.1L153.8 549.1L154.3 549.1L154.8 549.1L155.3 549.1L155.8 549.1L156.2 549.1L156.7 549.1L157.2 549.1L157.7 549.1" fill="none" stroke="#111" stroke-width="1.25" stroke-linejoin="round"/>
<text x="208.80" y="484.74" font-size="11.0" font-weight="700" stroke="#111" stroke-width="0.3" text-anchor="middle" fill="#111">Day 2</text>
<rect x="180.90" y="493.20" width="56.80" height="57.20" fill="none" stroke="#111" stroke-width="0.9"/>
<path d="M180.90 550.40v1.80M185.17 550.40v1.00M187.68 550.40v1.00M189.45 550.40v1.00M190.83 550.40v1.00M191.95 550.40v1.00M192.90 550.40v1.00M193.72 550.40v1.00M194.45 550.40v1.00M195.10 550.40v1.80M199.37 550.40v1.00M201.88 550.40v1.00M203.65 550.40v1.00M205.03 550.40v1.00M206.15 550.40v1.00M207.10 550.40v1.00M207.92 550.40v1.00M208.65 550.40v1.00M209.30 550.40v1.80M213.57 550.40v1.00M216.08 550.40v1.00M217.85 550.40v1.00M219.23 550.40v1.00M220.35 550.40v1.00M221.30 550.40v1.00M222.12 550.40v1.00M222.85 550.40v1.00M223.50 550.40v1.80M227.77 550.40v1.00M230.28 550.40v1.00M232.05 550.40v1.00M233.43 550.40v1.00M234.55 550.40v1.00M235.50 550.40v1.00M236.32 550.40v1.00M237.05 550.40v1.00" fill="none" stroke="#111" stroke-width="0.65"/>
<text x="174.90" y="552.26" font-size="6.6" stroke="#222" stroke-width="0.15" text-anchor="middle" transform="rotate(-90 174.90 549.90)" fill="#222">0</text>
<text x="174.90" y="541.32" font-size="6.6" stroke="#222" stroke-width="0.15" text-anchor="middle" transform="rotate(-90 174.90 538.96)" fill="#222">10</text>
<text x="174.90" y="529.88" font-size="6.6" stroke="#222" stroke-width="0.15" text-anchor="middle" transform="rotate(-90 174.90 527.52)" fill="#222">20</text>
<text x="174.90" y="518.44" font-size="6.6" stroke="#222" stroke-width="0.15" text-anchor="middle" transform="rotate(-90 174.90 516.08)" fill="#222">30</text>
<text x="174.90" y="507.00" font-size="6.6" stroke="#222" stroke-width="0.15" text-anchor="middle" transform="rotate(-90 174.90 504.64)" fill="#222">40</text>
<text x="174.90" y="497.16" font-size="6.6" stroke="#222" stroke-width="0.15" text-anchor="middle" transform="rotate(-90 174.90 494.80)" fill="#222">50</text>
<path d="M180.90 550.40h-1.8M180.90 538.96h-1.8M180.90 527.52h-1.8M180.90 516.08h-1.8M180.90 504.64h-1.8M180.90 493.20h-1.8" fill="none" stroke="#111" stroke-width="0.5"/>
<g transform="translate(182.30 557.40) rotate(0) scale(0.82 1)" fill="#222" stroke="#222" stroke-width="0.15"><text x="-4.98" y="2.51" font-size="7.0">10</text><text x="2.80" y="-0.43" font-size="3.92">0</text></g>
<g transform="translate(194.50 557.40) rotate(0) scale(0.82 1)" fill="#222" stroke="#222" stroke-width="0.15"><text x="-4.98" y="2.51" font-size="7.0">10</text><text x="2.80" y="-0.43" font-size="3.92">1</text></g>
<g transform="translate(208.70 557.40) rotate(0) scale(0.82 1)" fill="#222" stroke="#222" stroke-width="0.15"><text x="-4.98" y="2.51" font-size="7.0">10</text><text x="2.80" y="-0.43" font-size="3.92">2</text></g>
<g transform="translate(222.90 557.40) rotate(0) scale(0.82 1)" fill="#222" stroke="#222" stroke-width="0.15"><text x="-4.98" y="2.51" font-size="7.0">10</text><text x="2.80" y="-0.43" font-size="3.92">3</text></g>
<g transform="translate(237.10 557.40) rotate(0) scale(0.82 1)" fill="#222" stroke="#222" stroke-width="0.15"><text x="-4.98" y="2.51" font-size="7.0">10</text><text x="2.80" y="-0.43" font-size="3.92">4</text></g>
<text x="209.80" y="565.57" font-size="6.9" stroke="#222" stroke-width="0.15" text-anchor="middle" fill="#222">PSGL-1 FITC</text>
<text x="167.20" y="525.98" font-size="7.2" stroke="#222" stroke-width="0.15" text-anchor="middle" transform="rotate(-90 167.20 523.40)" fill="#222">Counts</text>
<path d="M181.4 549.0L181.9 548.7L182.4 548.6L182.9 548.2L183.3 547.7L183.8 547.0L184.3 546.4L184.8 545.4L185.3 544.6L185.8 543.3L186.3 541.9L186.7 540.3L187.2 537.8L187.7 536.5L188.2 533.9L188.7 532.5L189.2 530.7L189.6 527.3L190.1 526.8L190.6 523.4L191.1 522.3L191.6 522.3L192.1 521.9L192.6 521.2L193.0 522.3L193.5 523.1L194.0 524.9L194.5 524.6L195.0 525.4L195.5 526.0L196.0 526.9L196.4 527.6L196.9 530.1L197.4 531.8L197.9 532.7L198.4 534.3L198.9 535.6L199.4 536.9L199.8 538.3L200.3 539.0L200.8 540.7L201.3 542.0L201.8 542.5L202.3 543.3L202.7 543.6L203.2 544.6L203.7 544.8L204.2 545.5L204.7 545.8L205.2 546.3L205.7 546.6L206.1 546.9L206.6 547.0L207.1 547.2L207.6 547.5L208.1 547.5L208.6 547.6L209.1 547.7L209.5 547.9L210.0 548.0L210.5 548.0L211.0 548.2L211.5 548.2L212.0 548.3L212.5 548.4L212.9 548.4L213.4 548.5L213.9 548.6L214.4 548.7L214.9 548.8L215.4 548.7L215.9 548.8L216.3 548.9L216.8 548.9L217.3 549.0L217.8 549.0L218.3 549.1L218.8 549.1L219.2 549.1L219.7 549.1L220.2 549.1L220.7 549.1L221.2 549.1L221.7 549.1L222.2 549.1L222.6 549.1L223.1 549.1L223.6 549.1L224.1 549.1L224.6 549.1L225.1 549.1L225.6 549.1L226.0 549.1L226.5 549.1L227.0 549.1L227.5 549.1L228.0 549.1L228.5 549.1L229.0 549.1L229.4 549.1L229.9 549.1L230.4 549.1L230.9 549.1L231.4 549.1L231.9 549.1L232.3 549.1L232.8 549.1L233.3 549.1L233.8 549.1L234.3 549.1L234.8 549.1L235.3 549.1L235.7 549.1L236.2 549.1L236.7 549.1L237.2 549.1" fill="none" stroke="#222" stroke-width="0.9" stroke-linejoin="round"/>
<path d="M181.4 535.9L181.9 535.1L182.4 541.1L182.9 545.7L183.3 546.6L183.8 546.4L184.3 546.3L184.8 546.1L185.3 545.8L185.8 545.6L186.3 545.4L186.7 545.2L187.2 544.9L187.7 544.7L188.2 545.0L188.7 544.5L189.2 544.5L189.6 544.0L190.1 544.6L190.6 543.7L191.1 543.9L191.6 543.9L192.1 542.7L192.6 542.0L193.0 542.6L193.5 542.2L194.0 541.6L194.5 540.8L195.0 540.5L195.5 540.7L196.0 539.8L196.4 539.9L196.9 539.8L197.4 538.4L197.9 538.1L198.4 537.4L198.9 538.1L199.4 536.8L199.8 536.8L200.3 535.2L200.8 536.0L201.3 536.2L201.8 536.2L202.3 536.8L202.7 535.8L203.2 536.8L203.7 537.9L204.2 537.4L204.7 538.3L205.2 538.9L205.7 538.6L206.1 540.1L206.6 539.5L207.1 538.7L207.6 540.2L208.1 539.7L208.6 538.3L209.1 538.2L209.5 536.6L210.0 535.6L210.5 534.2L211.0 532.9L211.5 533.7L212.0 533.5L212.5 528.7L212.9 530.3L213.4 529.4L213.9 530.3L214.4 530.7L214.9 529.9L215.4 530.9L215.9 531.9L216.3 534.9L216.8 534.2L217.3 536.3L217.8 537.4L218.3 538.6L218.8 539.8L219.2 541.5L219.7 542.6L220.2 543.7L220.7 544.7L221.2 545.5L221.7 546.3L222.2 546.7L222.6 547.3L223.1 548.0L223.6 548.1L224.1 548.4L224.6 548.7L225.1 548.8L225.6 548.9L226.0 549.1L226.5 549.1L227.0 549.1L227.5 549.1L228.0 549.1L228.5 549.1L229.0 549.1L229.4 549.1L229.9 549.1L230.4 549.1L230.9 549.1L231.4 549.1L231.9 549.1L232.3 549.1L232.8 549.1L233.3 549.1L233.8 549.1L234.3 549.1L234.8 549.1L235.3 549.1L235.7 549.1L236.2 549.1L236.7 549.1L237.2 549.1" fill="none" stroke="#111" stroke-width="1.25" stroke-linejoin="round"/>
<text x="294.30" y="485.54" font-size="11.0" font-weight="700" stroke="#111" stroke-width="0.3" text-anchor="middle" fill="#111">Day 4</text>
<rect x="263.90" y="493.20" width="56.60" height="57.20" fill="none" stroke="#111" stroke-width="0.9"/>
<path d="M263.90 550.40v1.80M268.16 550.40v1.00M270.65 550.40v1.00M272.42 550.40v1.00M273.79 550.40v1.00M274.91 550.40v1.00M275.86 550.40v1.00M276.68 550.40v1.00M277.40 550.40v1.00M278.05 550.40v1.80M282.31 550.40v1.00M284.80 550.40v1.00M286.57 550.40v1.00M287.94 550.40v1.00M289.06 550.40v1.00M290.01 550.40v1.00M290.83 550.40v1.00M291.55 550.40v1.00M292.20 550.40v1.80M296.46 550.40v1.00M298.95 550.40v1.00M300.72 550.40v1.00M302.09 550.40v1.00M303.21 550.40v1.00M304.16 550.40v1.00M304.98 550.40v1.00M305.70 550.40v1.00M306.35 550.40v1.80M310.61 550.40v1.00M313.10 550.40v1.00M314.87 550.40v1.00M316.24 550.40v1.00M317.36 550.40v1.00M318.31 550.40v1.00M319.13 550.40v1.00M319.85 550.40v1.00" fill="none" stroke="#111" stroke-width="0.65"/>
<text x="257.90" y="552.26" font-size="6.6" stroke="#222" stroke-width="0.15" text-anchor="middle" transform="rotate(-90 257.90 549.90)" fill="#222">0</text>
<text x="257.90" y="541.32" font-size="6.6" stroke="#222" stroke-width="0.15" text-anchor="middle" transform="rotate(-90 257.90 538.96)" fill="#222">10</text>
<text x="257.90" y="529.88" font-size="6.6" stroke="#222" stroke-width="0.15" text-anchor="middle" transform="rotate(-90 257.90 527.52)" fill="#222">20</text>
<text x="257.90" y="518.44" font-size="6.6" stroke="#222" stroke-width="0.15" text-anchor="middle" transform="rotate(-90 257.90 516.08)" fill="#222">30</text>
<text x="257.90" y="507.00" font-size="6.6" stroke="#222" stroke-width="0.15" text-anchor="middle" transform="rotate(-90 257.90 504.64)" fill="#222">40</text>
<text x="257.90" y="497.16" font-size="6.6" stroke="#222" stroke-width="0.15" text-anchor="middle" transform="rotate(-90 257.90 494.80)" fill="#222">50</text>
<path d="M263.90 550.40h-1.8M263.90 538.96h-1.8M263.90 527.52h-1.8M263.90 516.08h-1.8M263.90 504.64h-1.8M263.90 493.20h-1.8" fill="none" stroke="#111" stroke-width="0.5"/>
<g transform="translate(265.30 557.40) rotate(0) scale(0.82 1)" fill="#222" stroke="#222" stroke-width="0.15"><text x="-4.98" y="2.51" font-size="7.0">10</text><text x="2.80" y="-0.43" font-size="3.92">0</text></g>
<g transform="translate(277.45 557.40) rotate(0) scale(0.82 1)" fill="#222" stroke="#222" stroke-width="0.15"><text x="-4.98" y="2.51" font-size="7.0">10</text><text x="2.80" y="-0.43" font-size="3.92">1</text></g>
<g transform="translate(291.60 557.40) rotate(0) scale(0.82 1)" fill="#222" stroke="#222" stroke-width="0.15"><text x="-4.98" y="2.51" font-size="7.0">10</text><text x="2.80" y="-0.43" font-size="3.92">2</text></g>
<g transform="translate(305.75 557.40) rotate(0) scale(0.82 1)" fill="#222" stroke="#222" stroke-width="0.15"><text x="-4.98" y="2.51" font-size="7.0">10</text><text x="2.80" y="-0.43" font-size="3.92">3</text></g>
<g transform="translate(319.90 557.40) rotate(0) scale(0.82 1)" fill="#222" stroke="#222" stroke-width="0.15"><text x="-4.98" y="2.51" font-size="7.0">10</text><text x="2.80" y="-0.43" font-size="3.92">4</text></g>
<text x="292.70" y="565.57" font-size="6.9" stroke="#222" stroke-width="0.15" text-anchor="middle" fill="#222">PSGL-1 FITC</text>
<text x="250.20" y="525.98" font-size="7.2" stroke="#222" stroke-width="0.15" text-anchor="middle" transform="rotate(-90 250.20 523.40)" fill="#222">Counts</text>
<path d="M264.4 546.7L264.9 544.9L265.4 542.5L265.9 539.0L266.3 533.4L266.8 528.8L267.3 520.9L267.8 516.1L268.3 508.5L268.8 506.5L269.2 505.4L269.7 503.5L270.2 503.6L270.7 507.6L271.2 508.5L271.7 512.0L272.1 516.1L272.6 518.6L273.1 520.9L273.6 524.5L274.1 528.7L274.6 532.1L275.0 535.0L275.5 537.0L276.0 540.3L276.5 542.0L277.0 543.2L277.5 544.9L277.9 546.1L278.4 546.9L278.9 547.5L279.4 548.1L279.9 548.4L280.4 548.7L280.8 548.9L281.3 549.0L281.8 549.1L282.3 549.1L282.8 549.1L283.3 549.1L283.7 549.1L284.2 549.1L284.7 549.1L285.2 549.1L285.7 549.1L286.2 549.1L286.6 549.1L287.1 549.1L287.6 549.1L288.1 549.1L288.6 549.1L289.1 549.1L289.5 549.1L290.0 549.1L290.5 549.1L291.0 549.1L291.5 549.1L292.0 549.1L292.4 549.1L292.9 549.1L293.4 549.1L293.9 549.1L294.4 549.1L294.9 549.1L295.3 549.1L295.8 549.1L296.3 549.1L296.8 549.1L297.3 549.1L297.8 549.1L298.2 549.1L298.7 549.1L299.2 549.1L299.7 549.1L300.2 549.1L300.7 549.1L301.1 549.1L301.6 549.1L302.1 549.1L302.6 549.1L303.1 549.1L303.6 549.1L304.0 549.1L304.5 549.1L305.0 549.1L305.5 549.1L306.0 549.1L306.5 549.1L306.9 549.1L307.4 549.1L307.9 549.1L308.4 549.1L308.9 549.1L309.4 549.1L309.8 549.1L310.3 549.1L310.8 549.1L311.3 549.1L311.8 549.1L312.3 549.1L312.7 549.1L313.2 549.1L313.7 549.1L314.2 549.1L314.7 549.1L315.2 549.1L315.6 549.1L316.1 549.1L316.6 549.1L317.1 549.1L317.6 549.1L318.1 549.1L318.5 549.1L319.0 549.1L319.5 549.1L320.0 549.1" fill="none" stroke="#222" stroke-width="0.9" stroke-linejoin="round"/>
<path d="M264.4 549.1L264.9 549.1L265.4 549.1L265.9 549.1L266.3 549.1L266.8 549.1L267.3 549.1L267.8 549.1L268.3 549.1L268.8 549.1L269.2 549.1L269.7 549.1L270.2 549.1L270.7 549.1L271.2 549.1L271.7 549.1L272.1 549.1L272.6 549.1L273.1 549.1L273.6 549.1L274.1 549.1L274.6 549.1L275.0 549.1L275.5 549.1L276.0 549.1L276.5 549.1L277.0 549.1L277.5 549.0L277.9 549.0L278.4 548.7L278.9 548.7L279.4 548.4L279.9 548.4L280.4 548.0L280.8 547.9L281.3 547.8L281.8 547.6L282.3 547.4L282.8 547.1L283.3 547.0L283.7 546.8L284.2 546.7L284.7 546.5L285.2 546.1L285.7 546.2L286.2 545.7L286.6 545.6L287.1 545.4L287.6 545.2L288.1 544.6L288.6 543.9L289.1 543.5L289.5 542.7L290.0 542.0L290.5 540.8L291.0 539.9L291.5 537.5L292.0 535.2L292.4 532.9L292.9 533.6L293.4 529.9L293.9 528.8L294.4 526.3L294.9 523.3L295.3 519.9L295.8 521.4L296.3 518.7L296.8 517.1L297.3 512.7L297.8 515.2L298.2 512.2L298.7 516.0L299.2 515.2L299.7 518.4L300.2 516.3L300.7 522.4L301.1 523.7L301.6 523.9L302.1 525.5L302.6 528.8L303.1 530.2L303.6 531.9L304.0 535.8L304.5 537.0L305.0 538.6L305.5 539.9L306.0 541.3L306.5 542.7L306.9 544.0L307.4 545.1L307.9 545.8L308.4 546.7L308.9 547.2L309.4 547.8L309.8 548.1L310.3 548.3L310.8 548.7L311.3 548.8L311.8 548.9L312.3 549.0L312.7 549.1L313.2 549.1L313.7 549.1L314.2 549.1L314.7 549.1L315.2 549.1L315.6 549.1L316.1 549.1L316.6 549.1L317.1 549.1L317.6 549.1L318.1 549.1L318.5 549.1L319.0 549.1L319.5 549.1L320.0 549.1" fill="none" stroke="#111" stroke-width="1.25" stroke-linejoin="round"/>
<text x="376.30" y="486.54" font-size="11.0" font-weight="700" stroke="#111" stroke-width="0.3" text-anchor="middle" fill="#111">Day 6</text>
<rect x="345.50" y="494.00" width="56.90" height="57.20" fill="none" stroke="#111" stroke-width="0.9"/>
<path d="M345.50 551.20v1.80M349.78 551.20v1.00M352.29 551.20v1.00M354.06 551.20v1.00M355.44 551.20v1.00M356.57 551.20v1.00M357.52 551.20v1.00M358.35 551.20v1.00M359.07 551.20v1.00M359.73 551.20v1.80M364.01 551.20v1.00M366.51 551.20v1.00M368.29 551.20v1.00M369.67 551.20v1.00M370.79 551.20v1.00M371.75 551.20v1.00M372.57 551.20v1.00M373.30 551.20v1.00M373.95 551.20v1.80M378.23 551.20v1.00M380.74 551.20v1.00M382.51 551.20v1.00M383.89 551.20v1.00M385.02 551.20v1.00M385.97 551.20v1.00M386.80 551.20v1.00M387.52 551.20v1.00M388.17 551.20v1.80M392.46 551.20v1.00M394.96 551.20v1.00M396.74 551.20v1.00M398.12 551.20v1.00M399.24 551.20v1.00M400.20 551.20v1.00M401.02 551.20v1.00M401.75 551.20v1.00" fill="none" stroke="#111" stroke-width="0.65"/>
<text x="339.50" y="553.06" font-size="6.6" stroke="#222" stroke-width="0.15" text-anchor="middle" transform="rotate(-90 339.50 550.70)" fill="#222">0</text>
<text x="339.50" y="542.12" font-size="6.6" stroke="#222" stroke-width="0.15" text-anchor="middle" transform="rotate(-90 339.50 539.76)" fill="#222">10</text>
<text x="339.50" y="530.68" font-size="6.6" stroke="#222" stroke-width="0.15" text-anchor="middle" transform="rotate(-90 339.50 528.32)" fill="#222">20</text>
<text x="339.50" y="519.24" font-size="6.6" stroke="#222" stroke-width="0.15" text-anchor="middle" transform="rotate(-90 339.50 516.88)" fill="#222">30</text>
<text x="339.50" y="507.80" font-size="6.6" stroke="#222" stroke-width="0.15" text-anchor="middle" transform="rotate(-90 339.50 505.44)" fill="#222">40</text>
<text x="339.50" y="497.96" font-size="6.6" stroke="#222" stroke-width="0.15" text-anchor="middle" transform="rotate(-90 339.50 495.60)" fill="#222">50</text>
<path d="M345.50 551.20h-1.8M345.50 539.76h-1.8M345.50 528.32h-1.8M345.50 516.88h-1.8M345.50 505.44h-1.8M345.50 494.00h-1.8" fill="none" stroke="#111" stroke-width="0.5"/>
<g transform="translate(346.90 558.20) rotate(0) scale(0.82 1)" fill="#222" stroke="#222" stroke-width="0.15"><text x="-4.98" y="2.51" font-size="7.0">10</text><text x="2.80" y="-0.43" font-size="3.92">0</text></g>
<g transform="translate(359.12 558.20) rotate(0) scale(0.82 1)" fill="#222" stroke="#222" stroke-width="0.15"><text x="-4.98" y="2.51" font-size="7.0">10</text><text x="2.80" y="-0.43" font-size="3.92">1</text></g>
<g transform="translate(373.35 558.20) rotate(0) scale(0.82 1)" fill="#222" stroke="#222" stroke-width="0.15"><text x="-4.98" y="2.51" font-size="7.0">10</text><text x="2.80" y="-0.43" font-size="3.92">2</text></g>
<g transform="translate(387.57 558.20) rotate(0) scale(0.82 1)" fill="#222" stroke="#222" stroke-width="0.15"><text x="-4.98" y="2.51" font-size="7.0">10</text><text x="2.80" y="-0.43" font-size="3.92">3</text></g>
<g transform="translate(401.80 558.20) rotate(0) scale(0.82 1)" fill="#222" stroke="#222" stroke-width="0.15"><text x="-4.98" y="2.51" font-size="7.0">10</text><text x="2.80" y="-0.43" font-size="3.92">4</text></g>
<text x="374.45" y="566.37" font-size="6.9" stroke="#222" stroke-width="0.15" text-anchor="middle" fill="#222">PSGL-1 FITC</text>
<text x="331.80" y="526.78" font-size="7.2" stroke="#222" stroke-width="0.15" text-anchor="middle" transform="rotate(-90 331.80 524.20)" fill="#222">Counts</text>
<path d="M346.0 547.5L346.5 545.8L347.0 543.2L347.5 539.6L347.9 535.4L348.4 528.8L348.9 522.2L349.4 516.3L349.9 510.7L350.4 505.6L350.9 504.1L351.3 504.8L351.8 507.5L352.3 509.2L352.8 509.2L353.3 514.4L353.8 516.0L354.3 518.5L354.7 521.4L355.2 524.4L355.7 530.1L356.2 532.5L356.7 535.1L357.2 538.1L357.7 540.3L358.2 542.3L358.6 544.0L359.1 545.2L359.6 546.9L360.1 547.6L360.6 548.4L361.1 548.9L361.6 549.3L362.0 549.5L362.5 549.7L363.0 549.9L363.5 549.9L364.0 549.9L364.5 549.9L365.0 549.9L365.4 549.9L365.9 549.9L366.4 549.9L366.9 549.9L367.4 549.9L367.9 549.9L368.4 549.9L368.8 549.9L369.3 549.9L369.8 549.9L370.3 549.9L370.8 549.9L371.3 549.9L371.8 549.9L372.2 549.9L372.7 549.9L373.2 549.9L373.7 549.9L374.2 549.9L374.7 549.9L375.2 549.9L375.7 549.9L376.1 549.9L376.6 549.9L377.1 549.9L377.6 549.9L378.1 549.9L378.6 549.9L379.1 549.9L379.5 549.9L380.0 549.9L380.5 549.9L381.0 549.9L381.5 549.9L382.0 549.9L382.5 549.9L382.9 549.9L383.4 549.9L383.9 549.9L384.4 549.9L384.9 549.9L385.4 549.9L385.9 549.9L386.3 549.9L386.8 549.9L387.3 549.9L387.8 549.9L388.3 549.9L388.8 549.9L389.3 549.9L389.7 549.9L390.2 549.9L390.7 549.9L391.2 549.9L391.7 549.9L392.2 549.9L392.7 549.9L393.2 549.9L393.6 549.9L394.1 549.9L394.6 549.9L395.1 549.9L395.6 549.9L396.1 549.9L396.6 549.9L397.0 549.9L397.5 549.9L398.0 549.9L398.5 549.9L399.0 549.9L399.5 549.9L400.0 549.9L400.4 549.9L400.9 549.9L401.4 549.9L401.9 549.9" fill="none" stroke="#222" stroke-width="0.9" stroke-linejoin="round"/>
<path d="M346.0 549.9L346.5 549.9L347.0 549.9L347.5 549.9L347.9 549.9L348.4 549.9L348.9 549.9L349.4 549.9L349.9 549.9L350.4 549.9L350.9 549.9L351.3 549.9L351.8 549.9L352.3 549.9L352.8 549.9L353.3 549.9L353.8 549.9L354.3 549.9L354.7 549.9L355.2 549.9L355.7 549.9L356.2 549.9L356.7 549.9L357.2 549.9L357.7 549.9L358.2 549.9L358.6 549.9L359.1 549.8L359.6 549.7L360.1 549.4L360.6 549.4L361.1 549.2L361.6 549.1L362.0 549.1L362.5 548.8L363.0 548.6L363.5 548.3L364.0 548.3L364.5 547.9L365.0 547.7L365.4 547.6L365.9 547.7L366.4 547.4L366.9 546.7L367.4 546.6L367.9 546.9L368.4 546.5L368.8 546.1L369.3 545.5L369.8 545.7L370.3 545.0L370.8 544.5L371.3 542.8L371.8 543.1L372.2 541.7L372.7 539.1L373.2 538.4L373.7 536.4L374.2 533.7L374.7 531.5L375.2 530.8L375.7 527.6L376.1 525.7L376.6 524.2L377.1 522.1L377.6 518.1L378.1 520.9L378.6 520.5L379.1 515.2L379.5 515.8L380.0 517.1L380.5 515.8L381.0 517.5L381.5 516.2L382.0 516.7L382.5 522.6L382.9 521.6L383.4 522.3L383.9 526.3L384.4 527.7L384.9 531.9L385.4 532.8L385.9 535.5L386.3 538.2L386.8 540.0L387.3 541.0L387.8 542.2L388.3 543.8L388.8 544.6L389.3 546.1L389.7 547.0L390.2 547.6L390.7 548.1L391.2 548.5L391.7 548.9L392.2 549.1L392.7 549.5L393.2 549.6L393.6 549.8L394.1 549.8L394.6 549.9L395.1 549.9L395.6 549.9L396.1 549.9L396.6 549.9L397.0 549.9L397.5 549.9L398.0 549.9L398.5 549.9L399.0 549.9L399.5 549.9L400.0 549.9L400.4 549.9L400.9 549.9L401.4 549.9L401.9 549.9" fill="none" stroke="#111" stroke-width="1.25" stroke-linejoin="round"/>
<text x="460.00" y="485.54" font-size="11.0" font-weight="700" stroke="#111" stroke-width="0.3" text-anchor="middle" fill="#111">Day 7</text>
<rect x="428.30" y="494.30" width="58.30" height="57.40" fill="none" stroke="#111" stroke-width="0.9"/>
<path d="M428.30 551.70v1.80M432.69 551.70v1.00M435.25 551.70v1.00M437.08 551.70v1.00M438.49 551.70v1.00M439.64 551.70v1.00M440.62 551.70v1.00M441.46 551.70v1.00M442.21 551.70v1.00M442.88 551.70v1.80M447.26 551.70v1.00M449.83 551.70v1.00M451.65 551.70v1.00M453.06 551.70v1.00M454.22 551.70v1.00M455.19 551.70v1.00M456.04 551.70v1.00M456.78 551.70v1.00M457.45 551.70v1.80M461.84 551.70v1.00M464.40 551.70v1.00M466.23 551.70v1.00M467.64 551.70v1.00M468.79 551.70v1.00M469.77 551.70v1.00M470.61 551.70v1.00M471.36 551.70v1.00M472.03 551.70v1.80M476.41 551.70v1.00M478.98 551.70v1.00M480.80 551.70v1.00M482.21 551.70v1.00M483.37 551.70v1.00M484.34 551.70v1.00M485.19 551.70v1.00M485.93 551.70v1.00" fill="none" stroke="#111" stroke-width="0.65"/>
<text x="422.30" y="553.56" font-size="6.6" stroke="#222" stroke-width="0.15" text-anchor="middle" transform="rotate(-90 422.30 551.20)" fill="#222">0</text>
<text x="422.30" y="542.58" font-size="6.6" stroke="#222" stroke-width="0.15" text-anchor="middle" transform="rotate(-90 422.30 540.22)" fill="#222">10</text>
<text x="422.30" y="531.10" font-size="6.6" stroke="#222" stroke-width="0.15" text-anchor="middle" transform="rotate(-90 422.30 528.74)" fill="#222">20</text>
<text x="422.30" y="519.62" font-size="6.6" stroke="#222" stroke-width="0.15" text-anchor="middle" transform="rotate(-90 422.30 517.26)" fill="#222">30</text>
<text x="422.30" y="508.14" font-size="6.6" stroke="#222" stroke-width="0.15" text-anchor="middle" transform="rotate(-90 422.30 505.78)" fill="#222">40</text>
<text x="422.30" y="498.26" font-size="6.6" stroke="#222" stroke-width="0.15" text-anchor="middle" transform="rotate(-90 422.30 495.90)" fill="#222">50</text>
<path d="M428.30 551.70h-1.8M428.30 540.22h-1.8M428.30 528.74h-1.8M428.30 517.26h-1.8M428.30 505.78h-1.8M428.30 494.30h-1.8" fill="none" stroke="#111" stroke-width="0.5"/>
<g transform="translate(429.70 558.70) rotate(0) scale(0.82 1)" fill="#222" stroke="#222" stroke-width="0.15"><text x="-4.98" y="2.51" font-size="7.0">10</text><text x="2.80" y="-0.43" font-size="3.92">0</text></g>
<g transform="translate(442.27 558.70) rotate(0) scale(0.82 1)" fill="#222" stroke="#222" stroke-width="0.15"><text x="-4.98" y="2.51" font-size="7.0">10</text><text x="2.80" y="-0.43" font-size="3.92">1</text></g>
<g transform="translate(456.85 558.70) rotate(0) scale(0.82 1)" fill="#222" stroke="#222" stroke-width="0.15"><text x="-4.98" y="2.51" font-size="7.0">10</text><text x="2.80" y="-0.43" font-size="3.92">2</text></g>
<g transform="translate(471.42 558.70) rotate(0) scale(0.82 1)" fill="#222" stroke="#222" stroke-width="0.15"><text x="-4.98" y="2.51" font-size="7.0">10</text><text x="2.80" y="-0.43" font-size="3.92">3</text></g>
<g transform="translate(486.00 558.70) rotate(0) scale(0.82 1)" fill="#222" stroke="#222" stroke-width="0.15"><text x="-4.98" y="2.51" font-size="7.0">10</text><text x="2.80" y="-0.43" font-size="3.92">4</text></g>
<text x="457.95" y="566.87" font-size="6.9" stroke="#222" stroke-width="0.15" text-anchor="middle" fill="#222">PSGL-1 FITC</text>
<text x="414.60" y="527.28" font-size="7.2" stroke="#222" stroke-width="0.15" text-anchor="middle" transform="rotate(-90 414.60 524.70)" fill="#222">Counts</text>
<path d="M428.8 550.1L429.3 549.6L429.8 548.7L430.3 547.1L430.8 544.5L431.3 541.1L431.8 537.1L432.3 530.6L432.8 525.1L433.3 518.5L433.8 511.9L434.3 506.2L434.8 500.7L435.3 498.7L435.8 500.0L436.3 502.4L436.8 503.6L437.3 507.0L437.8 511.2L438.3 516.3L438.8 520.9L439.3 521.5L439.8 527.6L440.3 531.3L440.8 535.1L441.3 538.5L441.8 541.0L442.3 543.2L442.8 544.9L443.2 546.5L443.7 547.8L444.2 548.5L444.7 549.1L445.2 549.6L445.7 549.9L446.2 550.3L446.7 550.4L447.2 550.4L447.7 550.4L448.2 550.4L448.7 550.4L449.2 550.4L449.7 550.4L450.2 550.4L450.7 550.4L451.2 550.4L451.7 550.4L452.2 550.4L452.7 550.4L453.2 550.4L453.7 550.4L454.2 550.4L454.7 550.4L455.2 550.4L455.7 550.4L456.2 550.4L456.7 550.4L457.2 550.4L457.7 550.4L458.2 550.4L458.7 550.4L459.2 550.4L459.7 550.4L460.2 550.4L460.7 550.4L461.2 550.4L461.7 550.4L462.2 550.4L462.7 550.4L463.2 550.4L463.7 550.4L464.2 550.4L464.7 550.4L465.2 550.4L465.7 550.4L466.2 550.4L466.7 550.4L467.2 550.4L467.7 550.4L468.2 550.4L468.7 550.4L469.2 550.4L469.7 550.4L470.2 550.4L470.7 550.4L471.2 550.4L471.7 550.4L472.1 550.4L472.6 550.4L473.1 550.4L473.6 550.4L474.1 550.4L474.6 550.4L475.1 550.4L475.6 550.4L476.1 550.4L476.6 550.4L477.1 550.4L477.6 550.4L478.1 550.4L478.6 550.4L479.1 550.4L479.6 550.4L480.1 550.4L480.6 550.4L481.1 550.4L481.6 550.4L482.1 550.4L482.6 550.4L483.1 550.4L483.6 550.4L484.1 550.4L484.6 550.4L485.1 550.4L485.6 550.4L486.1 550.4" fill="none" stroke="#222" stroke-width="0.9" stroke-linejoin="round"/>
<path d="M428.8 550.4L429.3 550.4L429.8 550.4L430.3 550.4L430.8 550.4L431.3 550.4L431.8 550.4L432.3 550.4L432.8 550.4L433.3 550.4L433.8 550.4L434.3 550.4L434.8 550.4L435.3 550.4L435.8 550.3L436.3 550.3L436.8 550.2L437.3 550.2L437.8 550.1L438.3 550.1L438.8 549.8L439.3 549.8L439.8 549.7L440.3 549.5L440.8 549.6L441.3 549.5L441.8 549.3L442.3 549.2L442.8 549.0L443.2 549.2L443.7 548.9L444.2 548.8L444.7 548.9L445.2 548.7L445.7 548.5L446.2 548.0L446.7 548.3L447.2 548.3L447.7 547.8L448.2 547.7L448.7 547.5L449.2 547.2L449.7 546.8L450.2 546.5L450.7 546.8L451.2 545.6L451.7 545.6L452.2 544.0L452.7 543.5L453.2 543.4L453.7 542.5L454.2 542.0L454.7 539.4L455.2 539.0L455.7 537.9L456.2 538.0L456.7 537.1L457.2 531.4L457.7 531.8L458.2 530.8L458.7 529.5L459.2 524.8L459.7 523.9L460.2 522.7L460.7 520.7L461.2 521.5L461.7 516.8L462.2 519.3L462.7 517.4L463.2 517.0L463.7 517.2L464.2 518.5L464.7 522.9L465.2 523.3L465.7 525.7L466.2 530.2L466.7 532.4L467.2 534.0L467.7 538.7L468.2 539.7L468.7 541.6L469.2 543.9L469.7 545.4L470.2 546.1L470.7 547.5L471.2 548.3L471.7 548.9L472.1 549.5L472.6 549.8L473.1 550.2L473.6 550.3L474.1 550.4L474.6 550.4L475.1 550.4L475.6 550.4L476.1 550.4L476.6 550.4L477.1 550.4L477.6 550.4L478.1 550.4L478.6 550.4L479.1 550.4L479.6 550.4L480.1 550.4L480.6 550.4L481.1 550.4L481.6 550.4L482.1 550.4L482.6 550.4L483.1 550.4L483.6 550.4L484.1 550.4L484.6 550.4L485.1 550.4L485.6 550.4L486.1 550.4" fill="none" stroke="#111" stroke-width="1.25" stroke-linejoin="round"/></svg>
</body></html>
